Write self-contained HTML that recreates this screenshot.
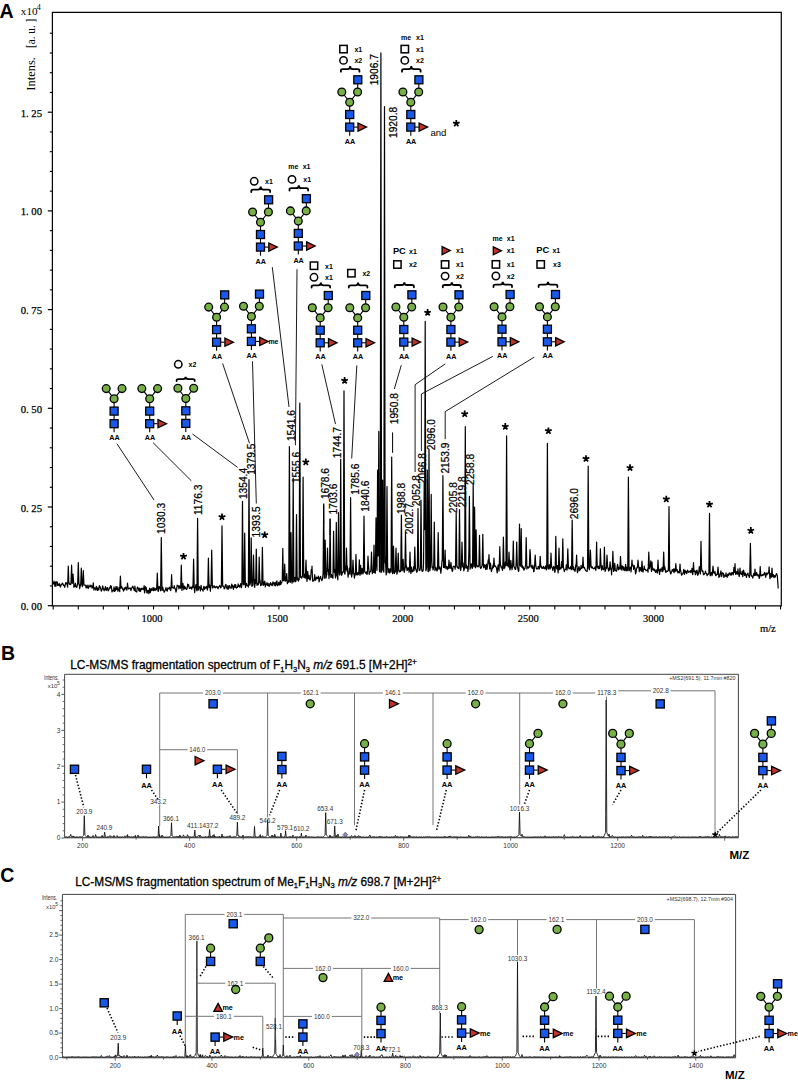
<!DOCTYPE html>
<html><head><meta charset="utf-8"><title>Figure</title>
<style>html,body{margin:0;padding:0;background:#fff;}body{width:798px;height:1086px;position:relative;overflow:hidden;}</style>
</head><body>
<svg width="798" height="1086" viewBox="0 0 798 1086" style="position:absolute;left:0;top:0">
<rect width="798" height="1086" fill="#fff"/>
<text x="-0.6" y="17.6" font-family='"Liberation Sans", sans-serif' font-size="19.6" font-weight="bold" text-anchor="start" fill="#000" >A</text>
<text x="20.8" y="15.4" font-family='"Liberation Serif", serif' font-size="11.2" font-weight="normal" text-anchor="start" fill="#000" >x10</text>
<text x="36.8" y="10.4" font-family='"Liberation Serif", serif' font-size="8" font-weight="normal" text-anchor="start" fill="#000" >4</text>
<text transform="translate(35.2 90.7) rotate(-90)" x="0" y="0" font-family='"Liberation Serif", serif' font-size="12.4" textLength="33.7" lengthAdjust="spacingAndGlyphs">Intens.</text>
<text transform="translate(35.2 48) rotate(-90)" x="0" y="0" font-family='"Liberation Serif", serif' font-size="12.4" textLength="29.2" lengthAdjust="spacingAndGlyphs" xml:space="preserve">[a. u. ]</text>
<path d="M52.4 605.9V12.4H781.3V605.9Z" fill="none" stroke="#000" stroke-width="1.2"/>
<line x1="47.8" y1="605.7" x2="52.4" y2="605.7" stroke="#000" stroke-width="1.2" />
<text x="42" y="610.2" font-family='"Liberation Serif", serif' font-size="10.7" font-weight="normal" text-anchor="end" fill="#000" xml:space="preserve" stroke="#000" stroke-width="0.25">0. 00</text>
<line x1="49.8" y1="585.96" x2="52.4" y2="585.96" stroke="#000" stroke-width="1.1" />
<line x1="49.8" y1="566.22" x2="52.4" y2="566.22" stroke="#000" stroke-width="1.1" />
<line x1="49.8" y1="546.48" x2="52.4" y2="546.48" stroke="#000" stroke-width="1.1" />
<line x1="49.8" y1="526.74" x2="52.4" y2="526.74" stroke="#000" stroke-width="1.1" />
<line x1="47.8" y1="507" x2="52.4" y2="507" stroke="#000" stroke-width="1.2" />
<text x="42" y="511.5" font-family='"Liberation Serif", serif' font-size="10.7" font-weight="normal" text-anchor="end" fill="#000" xml:space="preserve" stroke="#000" stroke-width="0.25">0. 25</text>
<line x1="49.8" y1="487.26" x2="52.4" y2="487.26" stroke="#000" stroke-width="1.1" />
<line x1="49.8" y1="467.52" x2="52.4" y2="467.52" stroke="#000" stroke-width="1.1" />
<line x1="49.8" y1="447.78" x2="52.4" y2="447.78" stroke="#000" stroke-width="1.1" />
<line x1="49.8" y1="428.04" x2="52.4" y2="428.04" stroke="#000" stroke-width="1.1" />
<line x1="47.8" y1="408.3" x2="52.4" y2="408.3" stroke="#000" stroke-width="1.2" />
<text x="42" y="412.8" font-family='"Liberation Serif", serif' font-size="10.7" font-weight="normal" text-anchor="end" fill="#000" xml:space="preserve" stroke="#000" stroke-width="0.25">0. 50</text>
<line x1="49.8" y1="388.56" x2="52.4" y2="388.56" stroke="#000" stroke-width="1.1" />
<line x1="49.8" y1="368.82" x2="52.4" y2="368.82" stroke="#000" stroke-width="1.1" />
<line x1="49.8" y1="349.08" x2="52.4" y2="349.08" stroke="#000" stroke-width="1.1" />
<line x1="49.8" y1="329.34" x2="52.4" y2="329.34" stroke="#000" stroke-width="1.1" />
<line x1="47.8" y1="309.6" x2="52.4" y2="309.6" stroke="#000" stroke-width="1.2" />
<text x="42" y="314.1" font-family='"Liberation Serif", serif' font-size="10.7" font-weight="normal" text-anchor="end" fill="#000" xml:space="preserve" stroke="#000" stroke-width="0.25">0. 75</text>
<line x1="49.8" y1="289.86" x2="52.4" y2="289.86" stroke="#000" stroke-width="1.1" />
<line x1="49.8" y1="270.12" x2="52.4" y2="270.12" stroke="#000" stroke-width="1.1" />
<line x1="49.8" y1="250.38" x2="52.4" y2="250.38" stroke="#000" stroke-width="1.1" />
<line x1="49.8" y1="230.64" x2="52.4" y2="230.64" stroke="#000" stroke-width="1.1" />
<line x1="47.8" y1="210.9" x2="52.4" y2="210.9" stroke="#000" stroke-width="1.2" />
<text x="42" y="215.4" font-family='"Liberation Serif", serif' font-size="10.7" font-weight="normal" text-anchor="end" fill="#000" xml:space="preserve" stroke="#000" stroke-width="0.25">1. 00</text>
<line x1="49.8" y1="191.16" x2="52.4" y2="191.16" stroke="#000" stroke-width="1.1" />
<line x1="49.8" y1="171.42" x2="52.4" y2="171.42" stroke="#000" stroke-width="1.1" />
<line x1="49.8" y1="151.68" x2="52.4" y2="151.68" stroke="#000" stroke-width="1.1" />
<line x1="49.8" y1="131.94" x2="52.4" y2="131.94" stroke="#000" stroke-width="1.1" />
<line x1="47.8" y1="112.2" x2="52.4" y2="112.2" stroke="#000" stroke-width="1.2" />
<text x="42" y="116.7" font-family='"Liberation Serif", serif' font-size="10.7" font-weight="normal" text-anchor="end" fill="#000" xml:space="preserve" stroke="#000" stroke-width="0.25">1. 25</text>
<line x1="49.8" y1="92.46" x2="52.4" y2="92.46" stroke="#000" stroke-width="1.1" />
<line x1="49.8" y1="72.72" x2="52.4" y2="72.72" stroke="#000" stroke-width="1.1" />
<line x1="49.8" y1="52.98" x2="52.4" y2="52.98" stroke="#000" stroke-width="1.1" />
<line x1="49.8" y1="33.24" x2="52.4" y2="33.24" stroke="#000" stroke-width="1.1" />
<line x1="53.2" y1="605.9" x2="53.2" y2="609.5" stroke="#000" stroke-width="1.1" />
<line x1="78.28" y1="605.9" x2="78.28" y2="609.5" stroke="#000" stroke-width="1.1" />
<line x1="103.36" y1="605.9" x2="103.36" y2="609.5" stroke="#000" stroke-width="1.1" />
<line x1="128.44" y1="605.9" x2="128.44" y2="609.5" stroke="#000" stroke-width="1.1" />
<line x1="153.52" y1="605.9" x2="153.52" y2="609.5" stroke="#000" stroke-width="1.1" />
<text x="152.02" y="622.4" font-family='"Liberation Serif", serif' font-size="10.5" font-weight="normal" text-anchor="middle" fill="#000" stroke="#000" stroke-width="0.2">1000</text>
<line x1="178.6" y1="605.9" x2="178.6" y2="609.5" stroke="#000" stroke-width="1.1" />
<line x1="203.68" y1="605.9" x2="203.68" y2="609.5" stroke="#000" stroke-width="1.1" />
<line x1="228.76" y1="605.9" x2="228.76" y2="609.5" stroke="#000" stroke-width="1.1" />
<line x1="253.84" y1="605.9" x2="253.84" y2="609.5" stroke="#000" stroke-width="1.1" />
<line x1="278.92" y1="605.9" x2="278.92" y2="609.5" stroke="#000" stroke-width="1.1" />
<text x="277.42" y="622.4" font-family='"Liberation Serif", serif' font-size="10.5" font-weight="normal" text-anchor="middle" fill="#000" stroke="#000" stroke-width="0.2">1500</text>
<line x1="304" y1="605.9" x2="304" y2="609.5" stroke="#000" stroke-width="1.1" />
<line x1="329.08" y1="605.9" x2="329.08" y2="609.5" stroke="#000" stroke-width="1.1" />
<line x1="354.16" y1="605.9" x2="354.16" y2="609.5" stroke="#000" stroke-width="1.1" />
<line x1="379.24" y1="605.9" x2="379.24" y2="609.5" stroke="#000" stroke-width="1.1" />
<line x1="404.32" y1="605.9" x2="404.32" y2="609.5" stroke="#000" stroke-width="1.1" />
<text x="402.82" y="622.4" font-family='"Liberation Serif", serif' font-size="10.5" font-weight="normal" text-anchor="middle" fill="#000" stroke="#000" stroke-width="0.2">2000</text>
<line x1="429.4" y1="605.9" x2="429.4" y2="609.5" stroke="#000" stroke-width="1.1" />
<line x1="454.48" y1="605.9" x2="454.48" y2="609.5" stroke="#000" stroke-width="1.1" />
<line x1="479.56" y1="605.9" x2="479.56" y2="609.5" stroke="#000" stroke-width="1.1" />
<line x1="504.64" y1="605.9" x2="504.64" y2="609.5" stroke="#000" stroke-width="1.1" />
<line x1="529.72" y1="605.9" x2="529.72" y2="609.5" stroke="#000" stroke-width="1.1" />
<text x="528.22" y="622.4" font-family='"Liberation Serif", serif' font-size="10.5" font-weight="normal" text-anchor="middle" fill="#000" stroke="#000" stroke-width="0.2">2500</text>
<line x1="554.8" y1="605.9" x2="554.8" y2="609.5" stroke="#000" stroke-width="1.1" />
<line x1="579.88" y1="605.9" x2="579.88" y2="609.5" stroke="#000" stroke-width="1.1" />
<line x1="604.96" y1="605.9" x2="604.96" y2="609.5" stroke="#000" stroke-width="1.1" />
<line x1="630.04" y1="605.9" x2="630.04" y2="609.5" stroke="#000" stroke-width="1.1" />
<line x1="655.12" y1="605.9" x2="655.12" y2="609.5" stroke="#000" stroke-width="1.1" />
<text x="653.62" y="622.4" font-family='"Liberation Serif", serif' font-size="10.5" font-weight="normal" text-anchor="middle" fill="#000" stroke="#000" stroke-width="0.2">3000</text>
<line x1="680.2" y1="605.9" x2="680.2" y2="609.5" stroke="#000" stroke-width="1.1" />
<line x1="705.28" y1="605.9" x2="705.28" y2="609.5" stroke="#000" stroke-width="1.1" />
<line x1="730.36" y1="605.9" x2="730.36" y2="609.5" stroke="#000" stroke-width="1.1" />
<line x1="755.44" y1="605.9" x2="755.44" y2="609.5" stroke="#000" stroke-width="1.1" />
<line x1="780.52" y1="605.9" x2="780.52" y2="609.5" stroke="#000" stroke-width="1.1" />
<text x="760" y="632" font-family='"Liberation Serif", serif' font-size="10.5" font-weight="normal" text-anchor="start" fill="#000" stroke="#000" stroke-width="0.2">m/z</text>
<path d="M53 584.07 L53.35 584.03 L53.61 582.83 L53.99 581.07 L54 581.02 L54.36 582.69 L54.65 584.03 L54.92 586.38 L55.29 585.1 L55.68 581.86 L56.08 586.17 L56.18 582.85 L56.52 581.88 L56.83 581.85 L57.1 581.83 L57.48 582.85 L57.61 585.35 L58.3 584.8 L58.52 585.1 L58.77 585.31 L59.17 583.25 L59.24 583.58 L59.82 585.89 L59.92 585.95 L60.52 587.06 L61.02 584.47 L61.4 584.88 L61.75 584.43 L61.83 584.33 L62.3 583.26 L62.4 583.02 L62.89 583.78 L63.05 584.21 L63.56 585.59 L64.19 585.31 L64.75 587.44 L65.05 585.68 L65.45 583.8 L65.7 582.67 L66.19 583.91 L66.35 583.48 L66.43 583.26 L66.58 582.85 L67 583.92 L67.08 583.39 L67.54 586.6 L67.65 587.11 L67.73 584.51 L68.15 570.87 L68.2 569.25 L68.3 566 L68.78 581.41 L68.8 581.27 L68.95 582.69 L69.4 584.44 L69.45 584.39 L69.99 583.86 L70.68 584.63 L70.76 584.14 L70.95 584.06 L71.41 571.16 L71.6 565.2 L71.78 570.85 L72.06 579.64 L72.25 583.31 L72.35 582.51 L72.37 582.25 L72.41 581.72 L73 574 L73.02 574.26 L73.09 575.18 L73.55 581.2 L73.65 582.51 L73.67 582.48 L73.91 587.34 L74.45 586.14 L74.69 586.36 L74.82 586.48 L75.34 583.24 L75.48 584.17 L75.98 586.73 L75.99 586.74 L76.68 587.45 L76.82 587.29 L77.25 585.25 L77.47 583.87 L77.65 584.97 L77.96 574.26 L78.04 571.49 L78.12 568.73 L78.3 562.5 L78.42 566.65 L78.69 575.99 L78.93 583.71 L78.95 583.76 L79.34 584.3 L79.67 588.7 L80.04 586.76 L80.08 586.57 L80.52 585.34 L80.65 584.75 L80.69 584.59 L81.06 574.78 L81.3 568 L81.34 569.13 L81.42 571.39 L81.93 584.8 L81.95 584.87 L82.34 586.58 L82.65 583.57 L82.66 583.46 L82.99 577.61 L83.29 570.92 L83.3 570.7 L83.64 578.27 L83.65 578.5 L83.91 584.29 L83.95 585.18 L84.28 585.1 L84.3 584.96 L84.95 585.19 L84.98 585.02 L85.65 585.51 L86.04 587.96 L86.46 587.71 L86.65 587.37 L87.08 585.33 L87.11 585.19 L87.5 586.84 L87.76 587.45 L87.85 587.66 L88.26 588.53 L88.32 588.44 L88.62 586.85 L88.97 585.04 L89.32 586.67 L89.62 586.78 L89.77 586.83 L90.14 586.93 L90.26 586.97 L90.79 585.14 L90.95 586.04 L91.44 586.67 L91.69 585.85 L92.08 588.22 L92.47 587.14 L92.61 587.54 L93.15 584.13 L93.26 582.74 L93.56 586.48 L93.91 590.04 L94.13 588.71 L94.53 587.81 L95.1 588.17 L95.84 590.06 L96.19 587.26 L96.29 586.46 L96.79 587.32 L96.84 587.01 L97.35 590.18 L97.49 590.5 L98.01 588.13 L98.69 589.87 L98.74 589.93 L99.39 585.65 L99.43 586.02 L100.04 586.97 L100.11 586.55 L100.75 589.32 L101.25 591.09 L101.61 590.43 L102.03 589.42 L102.06 589.35 L102.68 585.87 L102.69 585.92 L103.33 588.93 L103.41 588.68 L104.16 590.76 L104.6 588.78 L104.75 589.07 L105.04 589.08 L105.4 586.58 L105.64 588.21 L106.05 590.36 L106.35 590.35 L106.82 588.31 L106.96 587.72 L107.47 587.5 L107.63 588.48 L108.12 590.95 L108.34 590.69 L109.01 589.43 L109.43 587.54 L109.93 587.88 L110.09 587.99 L110.58 585.57 L110.83 587.93 L111.23 587.5 L111.34 586.22 L111.98 591.99 L112.4 590.3 L113.11 590.35 L113.38 590.86 L113.78 589.18 L114.03 586.87 L114.52 591.31 L114.68 591.3 L115.14 588.52 L115.31 589.79 L115.54 590.68 L115.89 587.29 L115.96 586.61 L116.46 589.36 L116.61 588.81 L117.18 586.71 L117.86 591.28 L118.29 589.91 L118.74 588.9 L118.94 587.6 L119.32 589.87 L119.59 591.11 L119.73 591.74 L119.75 590.02 L120.4 576 L120.44 576.86 L121.01 588.16 L121.02 588.15 L121.05 588.15 L121.66 587.18 L121.74 586.7 L122.29 588.15 L122.31 588.15 L122.85 589.67 L123.38 589.98 L123.54 591.15 L123.8 589.91 L124.19 587.9 L124.22 588.06 L124.76 589.65 L124.84 589.35 L124.88 588.51 L125.24 587.86 L125.53 587.51 L125.79 587.21 L126.18 588.51 L126.19 588.52 L126.76 590.01 L126.86 590.22 L127.42 584.29 L127.51 583.2 L127.97 587.37 L128.16 587.75 L128.69 588.91 L129.21 588.47 L129.22 588.47 L129.77 588.18 L129.86 587.95 L130.4 588.01 L130.51 588.54 L130.94 590.62 L131 589.94 L131.65 588.19 L131.67 588.24 L132.3 586.98 L132.39 586.71 L132.85 586.22 L133.03 586.83 L133.53 588.51 L133.68 588.34 L133.94 589.21 L134.25 590.28 L134.32 590.52 L134.33 590.55 L134.76 587.56 L134.9 586.06 L135.43 591.12 L135.55 591.19 L136.13 591.52 L136.54 591.99 L136.75 591.87 L137.16 588.06 L137.19 587.8 L137.59 587.07 L137.84 587.49 L138.32 588.41 L139.07 591.17 L139.1 591.16 L139.75 588.09 L140.31 591.39 L140.4 591.34 L140.71 590.68 L140.8 590.5 L141.36 588.42 L141.43 588.84 L141.79 588.29 L142.01 588.95 L142.15 589.39 L142.63 588.55 L143.01 588.58 L143.28 588.07 L143.75 589.81 L143.93 588.59 L144.14 585.64 L144.6 592.86 L145.06 590.71 L145.46 586.69 L145.58 587.59 L146.14 588.25 L146.23 587.56 L146.59 590.51 L146.88 592.66 L147.17 593.07 L147.8 590.49 L148.42 590.31 L148.94 593.57 L149.03 592.95 L149.55 588.97 L149.68 588.03 L150.22 592.16 L150.33 592.53 L150.6 591.64 L151.29 588.47 L151.86 590.36 L152.44 589.91 L152.58 589.8 L153.09 587.34 L153.14 587.68 L153.59 590.64 L153.74 590.57 L153.83 590.53 L153.96 590.04 L154.39 588.42 L154.48 588.09 L155.04 590.19 L155.13 590.53 L155.51 588.72 L156 589.76 L156.36 589.75 L156.42 589.77 L156.65 588.24 L157 581.41 L157.07 579.45 L157.3 573 L157.57 580.57 L157.72 584.78 L157.95 590.96 L158.29 591.45 L158.48 589.45 L158.69 588.45 L159.13 586.35 L159.23 586.83 L159.78 588.01 L159.92 588.03 L160.54 590.82 L160.65 588.88 L160.71 584.15 L161.29 538.39 L161.3 537.6 L161.36 542.33 L161.92 586.51 L161.95 588.88 L162.01 589.3 L162.07 590.35 L162.52 588.17 L162.72 587.2 L162.89 588.02 L163.3 590.01 L163.37 590.35 L163.75 590.66 L164.16 592.23 L164.86 591.06 L165.43 589.29 L165.48 589.13 L165.95 588.27 L166.08 587.48 L166.48 589.99 L166.73 590.63 L166.94 590.87 L167.25 591.09 L167.67 588.94 L167.9 587.78 L168.12 588.91 L168.55 588.76 L168.84 588.67 L168.86 588.69 L169.21 588.38 L169.49 587.35 L169.71 587.23 L170.14 589.52 L170.69 590.5 L170.95 589.63 L171.08 587.32 L171.59 574.94 L171.6 574.7 L171.73 577.86 L172.06 585.87 L172.25 587.62 L172.38 587.31 L172.5 587.31 L173.03 587.87 L173.15 588 L173.76 588.31 L173.89 587.64 L174.27 585.62 L174.54 587.25 L174.75 587.83 L175.19 589.06 L175.39 588.9 L176 592.08 L176.54 589.86 L176.7 588.67 L177.19 585.08 L177.31 585.97 L177.71 585.86 L177.84 585.82 L178.27 585.71 L178.94 588.82 L179.29 587.29 L179.62 585.82 L179.94 586.46 L180.25 587.1 L180.59 587.46 L180.65 588.28 L180.87 581.87 L181.28 565.98 L181.3 565.2 L181.77 583.42 L181.95 590.4 L182.25 588.33 L182.34 587.65 L182.9 583.41 L182.95 583.73 L183.49 587 L183.55 587.44 L183.84 589.64 L184.39 586.14 L184.9 588.22 L184.96 588.46 L185.55 587.2 L185.6 587.36 L186.05 588.81 L186.2 589.29 L186.7 589.36 L187.13 588.44 L187.68 584.14 L188.04 585.61 L188.18 586.19 L188.69 584.73 L188.83 585.74 L189.34 588.4 L189.43 588.29 L189.84 588.17 L190.06 588.39 L190.29 588.05 L190.71 587.01 L190.87 587.24 L191.22 588.28 L191.36 588.63 L191.71 589.22 L191.84 588.62 L192.36 586.23 L192.47 586.74 L192.95 587.47 L193.01 586.11 L193.03 585.2 L193.56 561.02 L193.6 559.2 L194.25 588.77 L194.27 588.79 L194.7 592.55 L195.01 588.64 L195.06 588.07 L195.59 586.39 L195.66 585.87 L196.12 584.54 L196.31 586.64 L196.58 589.61 L196.95 590.85 L197.01 584.16 L197.59 519.42 L197.6 518.3 L198.25 590.11 L198.33 590.14 L198.43 589.04 L198.73 587.97 L199.08 586.75 L199.43 586.69 L199.73 587.73 L200.06 588.9 L200.41 590.93 L200.61 589.32 L200.97 586.1 L201.06 585.3 L201.5 588.49 L201.71 588.9 L201.97 589.41 L202.45 589.62 L203.13 591.2 L203.17 589.37 L203.82 586.24 L204.22 588.18 L204.47 589.39 L204.93 587.1 L205.39 587.1 L206 588.4 L206.14 587.93 L206.65 586.25 L206.73 586.52 L207.19 588.05 L207.3 588.42 L207.33 590.05 L207.56 589.38 L207.75 587.89 L207.98 578.8 L208.02 576.84 L208.4 558.2 L208.63 569.48 L208.64 569.97 L208.75 575.37 L209.05 587.32 L209.29 585.48 L209.3 585.49 L209.73 585.17 L209.94 586.95 L210.43 591.12 L210.65 586.43 L211.05 585.95 L211.1 583.53 L211.3 572.42 L211.7 550.2 L211.83 557.42 L211.95 564.09 L212.35 586.31 L212.4 587.9 L213.04 587.45 L213.28 587.07 L213.57 586.63 L213.93 586.08 L214.04 585.51 L214.41 586.81 L214.58 587.07 L214.95 587.51 L215.43 587.06 L215.59 587.79 L216.17 586.86 L216.24 586.36 L216.63 587.03 L216.89 586.84 L217.2 586.62 L217.71 588.29 L218.14 588.65 L218.86 586.56 L219.01 586.81 L219.57 585.71 L219.66 585.24 L220.31 586.81 L220.32 586.81 L220.74 587.95 L221.13 587.25 L221.35 585.64 L221.58 564.5 L222 525.9 L222.03 528.66 L222.58 579.21 L222.65 585.64 L222.68 586.09 L223.19 585.8 L223.23 586 L223.69 586.72 L223.88 587.02 L224.18 588.8 L224.92 588 L225.26 585.5 L225.32 585.09 L225.91 584.4 L226.01 584.96 L226.45 587.23 L226.56 587.53 L226.96 588.63 L227.25 589.02 L227.49 587.78 L227.9 585.68 L228.19 586.36 L228.54 588.99 L228.55 589.04 L228.82 588.48 L229.25 586.51 L229.47 585.49 L229.79 586.94 L230.12 587.1 L230.3 587.09 L231.02 588.57 L231.76 584.03 L231.86 584.86 L232.21 586.87 L232.51 585.34 L232.77 586.62 L233.16 588.6 L233.39 589.41 L234 585.85 L234.65 584.71 L235.02 587.32 L235.67 584.55 L235.68 584.61 L236.29 587.97 L236.32 588.13 L236.76 587.53 L237.37 587.5 L237.51 587.4 L238 584.94 L238.16 583.95 L238.56 586.43 L238.81 586.3 L239.14 585.52 L239.73 587.18 L240.04 585.94 L240.08 585.78 L240.69 583.56 L240.82 584.55 L241.34 587.76 L241.43 587.68 L241.85 585.07 L241.87 584.95 L242.32 525.45 L242.5 501.3 L242.69 526.8 L242.79 540.22 L243.15 583.59 L243.34 584.15 L243.67 584.84 L243.99 584.72 L244.05 584.46 L244.12 579.03 L244.56 544.11 L244.7 533 L244.93 551.25 L245.35 584.58 L245.55 587.47 L245.66 585.61 L245.98 584.85 L246.31 584.07 L246.53 583.24 L246.96 585.59 L247.64 585.55 L248.08 586.3 L248.35 587.15 L248.55 554.05 L248.57 550.75 L249 479.6 L249.22 516 L249.28 525.93 L249.65 584.76 L249.72 585.13 L249.87 585.09 L250.24 583.54 L250.55 582.4 L250.65 580.31 L251.15 541.66 L251.2 537.8 L251.56 565.63 L251.63 571.04 L251.85 586.28 L251.93 585.78 L252.28 583.6 L252.64 585.78 L252.85 584.66 L252.93 581.01 L253.34 562.3 L253.5 555 L254.07 579.61 L254.15 580.83 L254.55 586.94 L254.69 587.38 L255.2 581.17 L255.34 579.28 L255.56 582.3 L255.65 583.54 L255.99 566.44 L256.06 562.5 L256.3 549 L256.54 562.5 L256.95 585.31 L256.98 585.31 L257 585.31 L257.49 584.01 L257.63 583.29 L258.23 584.87 L258.28 584.67 L258.55 583.58 L258.66 582.43 L259.2 557 L259.34 563.59 L259.43 567.83 L259.85 582.67 L259.86 582.56 L260.08 580.13 L260.36 583.17 L260.73 585.54 L260.95 585.52 L261.08 585.51 L261.6 583.42 L261.75 584.29 L261.79 582.56 L262.15 561.81 L262.25 556.05 L262.4 547.4 L262.81 571.03 L263.05 584.87 L263.17 585.45 L263.29 585.36 L263.89 582.33 L263.94 582.03 L264.35 584.47 L264.59 582.91 L264.83 581.13 L265.29 587.01 L265.74 584.12 L266.35 584.13 L266.38 584.13 L266.73 584.52 L267 582.62 L267.39 585.4 L267.65 585.5 L268.11 583.4 L268.47 584.76 L269.2 586.45 L269.92 583.59 L269.94 583.54 L270.46 583.3 L270.57 582.68 L271.01 585.13 L271.22 584.95 L271.68 583.95 L272.32 585.67 L272.92 581.75 L272.94 581.83 L273.4 583.45 L273.59 582.71 L274.06 584.56 L274.21 585.15 L274.24 585.26 L274.44 585.2 L274.86 582.61 L274.89 582.85 L275.27 585.91 L275.51 585.49 L275.55 585.35 L275.75 584.69 L276.2 581.86 L276.49 584.44 L276.85 582.25 L276.94 580.84 L277.33 585.77 L277.96 585.24 L278.08 585.02 L278.49 583.66 L278.73 582.34 L279.09 584.27 L279.38 584.94 L279.71 583.96 L280.32 580.66 L280.72 584.6 L281.3 582.55 L281.54 583.03 L281.8 582.41 L282.15 580.87 L282.19 580.7 L282.25 580.73 L282.7 554.28 L282.8 548.4 L282.84 550.75 L283.1 566.04 L283.28 576.62 L283.45 580.71 L283.75 579.14 L283.76 579.06 L284.05 580.7 L284.31 576.74 L284.4 573.8 L284.7 564 L284.75 565.63 L285.35 581.26 L285.5 580.59 L285.89 579.72 L286.07 580.63 L286.58 575.82 L286.72 573.56 L287.29 583.03 L287.37 583.7 L287.66 582.9 L287.69 582.82 L288.12 581.93 L288.31 580.77 L288.75 582.18 L288.84 564.97 L288.96 539.6 L289.34 459.28 L289.4 446.6 L289.79 529.03 L290.05 581.45 L290.35 582.36 L290.45 574.89 L290.72 554.08 L291 532.5 L291.04 535.58 L291.37 561.02 L291.64 580.78 L291.65 580.83 L292.02 582.77 L292.04 583.17 L292.48 581.45 L292.55 581.71 L293.09 496.18 L293.2 478.2 L293.52 530.51 L293.85 581.99 L294.14 581.28 L294.28 581.07 L294.56 580.28 L294.93 577.45 L295.23 579.72 L295.58 581.74 L295.8 581.57 L295.85 581.51 L296.31 534.3 L296.5 514.7 L296.88 553.89 L297.01 567.3 L297.15 579.93 L297.29 579.32 L297.66 577.71 L297.92 578.85 L298.31 580.56 L298.4 581.06 L299.13 579.35 L299.15 579.46 L299.62 453.11 L299.8 403.1 L300.13 494.78 L300.14 497.56 L300.45 577.22 L300.63 575.7 L300.78 576.32 L301.06 577.09 L301.41 578.04 L301.43 578.1 L302.11 577.18 L302.12 577.16 L302.45 575.78 L302.64 550.47 L302.76 531.33 L303.1 477.1 L303.34 515.38 L303.41 526.54 L303.57 552.06 L303.7 572.79 L303.75 577.35 L304.22 573.8 L304.27 574.18 L304.65 577 L304.87 577.54 L304.92 577.66 L305.25 578.2 L305.35 577.13 L305.57 572.18 L305.66 569.63 L306 560 L306.12 563.4 L306.22 566.23 L306.52 574.73 L306.65 578.41 L307.06 581.31 L307.09 580.95 L307.49 575.33 L307.74 571.37 L307.89 573.8 L308.39 578.66 L308.43 578.22 L308.81 577.89 L309.08 575.38 L309.52 579.01 L309.73 579.43 L310.12 580.19 L310.62 578.25 L310.78 576.06 L311.22 570.03 L311.27 569.48 L311.35 570.58 L311.9 568.49 L311.92 567.99 L312 566 L312.32 573.98 L312.65 580.81 L312.88 581.36 L313.38 580.59 L314.02 580.54 L314.08 580.64 L314.73 574.72 L315.38 580.19 L315.39 580.17 L315.75 580.05 L315.82 579.8 L316.34 577.62 L316.47 577.08 L316.91 578.56 L317.12 578.55 L317.43 578.52 L317.65 578.07 L318.01 577.33 L318.3 576.05 L318.54 577.56 L318.95 580.14 L319.07 581.85 L319.41 580.6 L319.61 579.63 L320.06 577.22 L320.59 576.44 L320.71 577.02 L321.01 578.49 L321.41 579.35 L321.94 580.65 L322.43 579.38 L322.49 578.86 L322.86 575.66 L323.05 574.02 L323.08 573.8 L323.5 527.63 L323.7 504.7 L323.73 508.14 L324.16 557.44 L324.34 578.07 L324.35 578.24 L324.55 573.3 L324.71 568.11 L324.99 553.09 L325.2 540.1 L325.21 540.72 L325.64 567.32 L325.85 578.14 L325.91 578.04 L326.06 577.99 L326.65 574.17 L326.71 573.73 L326.85 574.69 L327.08 565.61 L327.36 553.87 L327.5 548 L327.64 553.87 L327.82 561.41 L328.15 571.13 L328.29 569.38 L328.54 572.5 L328.94 577.5 L328.96 578.6 L329.33 573.86 L329.45 574.72 L329.82 544.52 L330.1 519.1 L330.53 558.14 L330.75 577 L330.93 577.36 L330.99 577.1 L331.54 574.75 L331.58 574.61 L332.23 577.35 L332.26 577.39 L332.81 578.22 L332.95 578.13 L333.29 553.68 L333.6 531.3 L333.71 539.24 L333.93 555.13 L334.25 572.27 L334.43 570.5 L334.58 569.03 L334.85 571.68 L335.23 575.42 L335.51 577.96 L335.65 577.9 L335.81 564.82 L336.12 537.98 L336.3 522.4 L336.46 536.25 L336.61 549.24 L336.95 575.83 L337.11 574.96 L337.19 574.52 L337.85 579.8 L337.89 575.89 L338.17 546.79 L338.5 512.5 L338.82 545.76 L339 564.46 L339.15 572.35 L339.47 574.96 L339.75 574.28 L339.76 574.27 L340.05 572.89 L340.33 526.6 L340.41 512.07 L340.7 459.4 L340.86 488.46 L341.06 524.78 L341.28 564.74 L341.35 575.32 L341.96 574.8 L342.4 572.23 L342.41 572.18 L342.99 571.53 L343.05 571.67 L343.35 572.21 L343.61 502.08 L343.7 476.42 L343.97 399.45 L344 390.9 L344.38 499.23 L344.65 573.87 L344.94 573.93 L344.99 574.07 L345.64 566.15 L345.85 569.64 L346.26 558.85 L346.29 557.49 L346.5 548 L346.61 552.97 L346.69 556.59 L347.01 571.05 L347.15 568.91 L347.34 565.94 L347.5 568.47 L347.99 576.22 L348.09 577.08 L348.52 573.49 L348.75 573.48 L348.92 573.48 L349.4 568.04 L349.65 570.79 L349.95 574.19 L350.03 567.83 L350.05 565.36 L350.6 497.6 L350.64 502.53 L351.15 565.36 L351.25 573.51 L351.61 577.05 L352.03 574.41 L352.18 573.93 L352.35 573.39 L352.67 567.23 L352.68 567.02 L353 560 L353.33 567.23 L353.4 568.77 L353.65 573.61 L354.04 574.49 L354.41 578.07 L354.97 573.34 L355.3 574.85 L355.34 575.03 L355.95 554.4 L356 556.16 L356.6 574.78 L356.73 574.41 L357.14 574.95 L357.21 575.13 L357.69 573.72 L357.86 572.6 L358.3 574.53 L358.51 573.9 L358.68 573.39 L358.77 573.12 L359.24 562.32 L359.33 559.77 L359.9 575.09 L359.98 575.33 L360.54 565.47 L360.55 565.27 L361.19 574.05 L361.2 574.04 L361.47 573.16 L361.72 571.3 L362.12 568.39 L362.17 568.76 L362.56 571.65 L362.77 573.21 L362.9 573.99 L363.04 573.49 L363.35 572.4 L363.55 555.22 L363.69 543.02 L364 516 L364.2 533.43 L364.33 544.76 L364.65 571.56 L364.78 571.94 L365.45 573.02 L365.74 573.19 L366.01 573.36 L366.39 571.78 L366.74 573.89 L367.04 574.43 L367.18 573.71 L367.35 573.55 L367.63 566.4 L367.75 563.03 L368 556 L368.08 558.25 L368.4 564.44 L368.65 567.38 L368.73 568.35 L369.05 572.24 L369.21 574.45 L369.65 572.3 L370.37 571.49 L370.67 571.41 L370.85 569.96 L370.98 567.51 L371.32 557.37 L371.5 552 L371.72 558.56 L371.97 566.02 L372.15 571.39 L372.35 573.74 L373.05 570.59 L373.35 572.42 L373.62 562.35 L374 545 L374.1 549.57 L374.22 555.05 L374.48 566.92 L374.65 572.66 L374.87 571.38 L375.19 573.19 L375.35 573.2 L375.52 559.09 L375.59 553.07 L375.99 518.66 L376 517.8 L376.31 544.46 L376.64 566.66 L376.65 566.78 L376.67 567.02 L376.95 570.41 L377.04 557.58 L377.29 518.48 L377.6 470 L377.66 479.38 L378.15 556.02 L378.25 552.56 L378.31 539.33 L378.8 431.3 L378.84 440.12 L379.45 571.28 L379.48 571.09 L379.49 571.03 L379.86 569.39 L380.14 572.08 L380.25 572.13 L380.55 332.48 L380.9 52.9 L380.95 92.84 L381.25 332.48 L381.38 436.33 L381.55 572.13 L381.9 570.2 L381.95 570.44 L382.07 554.88 L382.55 487.06 L382.6 480 L382.74 499.78 L383.25 570.06 L383.35 570.04 L383.49 570.93 L383.81 572.19 L383.85 571.99 L384.14 365.24 L384.46 135.25 L384.5 106.5 L384.73 271.8 L384.79 314.93 L384.9 393.98 L385.15 563.02 L385.25 560.32 L385.38 556.81 L385.71 565.48 L386.03 573.73 L386.2 574.81 L386.35 574 L386.68 529.58 L386.69 528.23 L387 486.5 L387.34 532.27 L387.37 536.31 L387.65 568.29 L387.97 572.46 L387.99 572.72 L388.18 572.43 L388.5 570.52 L388.83 568.54 L389.15 570.42 L389.48 572.39 L389.71 573.09 L389.72 573.02 L390.16 570.08 L390.36 568.75 L390.83 571.34 L391.01 572.04 L391.05 572.2 L391.25 537.45 L391.34 521.36 L391.7 457 L391.91 494.54 L391.99 508.85 L392.35 570.3 L392.64 573.06 L392.65 573.75 L392.85 573.03 L392.89 571.45 L393.19 558.93 L393.5 546 L393.54 547.67 L393.86 561.02 L394.15 572.69 L394.19 573.12 L394.35 573.48 L395.04 571.4 L395.3 571.89 L395.35 571.72 L395.5 566.25 L395.93 550.56 L395.95 549.83 L396 548 L396.33 560.05 L396.6 569.9 L396.65 571.73 L396.93 574.09 L397.34 572.25 L397.55 570.84 L397.56 570.78 L397.99 558.95 L398.2 553 L398.23 553.85 L398.64 565.47 L398.74 568.3 L398.85 570.61 L399.25 571.9 L399.95 570.85 L400.31 571.64 L400.75 570.85 L401.02 547.65 L401.4 515 L401.57 529.61 L402.02 568.27 L402.05 570.85 L402.47 569.13 L402.55 568.36 L403.12 559.42 L403.2 560.89 L403.77 570.22 L403.81 570.2 L404.22 572.27 L404.85 569.77 L404.91 566.98 L405.33 542.43 L405.5 532.5 L405.78 548.86 L405.85 552.95 L406.15 567.8 L406.25 566.98 L406.43 565.51 L406.79 568.37 L407.08 570.6 L407.21 570.05 L407.64 569.9 L407.68 569.89 L408.1 567.71 L408.29 568.72 L408.51 569.2 L408.94 570.15 L409.07 572.25 L409.35 570.87 L409.48 568.18 L410 552 L410.13 556.04 L410.22 558.85 L410.65 571.8 L410.78 572.5 L410.86 573.43 L411.25 569.01 L411.43 567 L411.76 570.74 L412.08 571.92 L412.4 570.25 L412.92 571.32 L412.96 571.46 L413.32 568.97 L413.61 566.56 L413.75 567.73 L414.15 570.6 L414.26 566.86 L414.8 547 L414.93 551.78 L415.03 555.46 L415.45 568.65 L415.53 568.5 L415.68 568.83 L416.06 569.76 L416.33 570.41 L416.58 572.1 L417.22 571.78 L417.35 570.21 L417.8 527.56 L417.88 519.97 L418 508.6 L418.45 551.25 L418.53 558.83 L418.65 566.4 L419.09 569.65 L419.18 570.31 L419.79 570.51 L420.35 568.05 L420.39 565.33 L420.48 555.7 L421 500 L421.04 504.28 L421.11 511.78 L421.58 562.12 L421.65 568.88 L421.69 569.07 L422.18 571.41 L422.85 570.94 L423.24 569.74 L423.48 564.93 L423.55 563.46 L423.89 524.39 L424 509.7 L424.2 483 L424.53 527.06 L424.54 528.4 L424.55 529.73 L424.85 455.07 L425.15 340.41 L425.2 321.3 L425.85 569.73 L425.87 570.75 L426.54 568.07 L426.65 567.44 L427.04 509.81 L427.19 486.84 L427.3 470 L427.41 486.84 L427.84 552.69 L427.95 569.53 L427.97 571.19 L428.35 571.66 L428.7 506.46 L429 449.7 L429.26 498.89 L429.35 515.92 L429.65 569.38 L429.82 570.78 L430 569.79 L430.46 567.06 L430.55 567.34 L430.9 529.2 L431.14 501.28 L431.2 494.3 L431.55 535.01 L431.7 552.46 L431.85 561.96 L432.14 566.74 L432.2 567.73 L432.76 567.12 L433.03 569.85 L433.16 569.77 L433.65 566.57 L433.68 566.38 L433.9 551.93 L434.3 522 L434.33 524.24 L434.36 526.49 L434.87 564.65 L434.95 570.63 L435.22 569.63 L435.39 569 L435.87 567.25 L436.02 567.81 L436.46 569.43 L436.52 569.65 L437.11 571.05 L437.54 568.37 L437.55 568.35 L438.2 532.6 L438.21 533.16 L438.61 555.67 L438.81 566.93 L438.85 569.18 L439.28 568.16 L439.46 567.52 L439.81 566.78 L440.11 568.25 L440.39 569.65 L440.88 573.28 L441.47 567.5 L441.48 567.38 L442.02 560.81 L442.12 559.6 L442.25 561.13 L442.49 534.74 L442.77 494.35 L442.9 475.6 L443.17 514.55 L443.28 530.41 L443.55 567.49 L443.67 566.55 L443.93 564.5 L444.17 566.34 L444.45 567.76 L444.58 566.06 L444.62 564.83 L444.97 554.02 L445.1 550 L445.39 558.96 L445.61 565.76 L445.75 568.34 L446.04 566.39 L446.08 566.66 L446.62 566.49 L446.69 566.86 L447.06 568.79 L447.23 569.67 L447.71 566.78 L447.73 566.89 L448.1 567.16 L448.35 568.57 L448.36 568.63 L448.78 563.32 L449 560 L449.19 562.87 L449.65 567.85 L449.87 568.31 L450.23 568.28 L450.29 568.24 L450.94 562.43 L450.96 562.62 L451.35 566.46 L451.59 568.25 L451.75 568.79 L452.24 571.41 L452.65 570.98 L453.07 566.8 L453.67 566.29 L453.78 566.2 L454.32 566.58 L454.39 566.63 L454.97 567.58 L455.1 569.26 L455.53 565.35 L455.55 565.36 L456.16 516.32 L456.2 513 L456.53 540.38 L456.68 552.83 L456.85 566.93 L457.18 565.84 L457.39 566.66 L457.83 568.05 L458.24 567.92 L458.77 568.52 L458.85 568.14 L459.18 538.69 L459.28 529.6 L459.5 509.6 L459.75 532.33 L459.93 548.69 L460.15 566.55 L460.44 569.16 L460.58 570.42 L460.98 568.63 L461.24 567.11 L461.35 565.29 L461.55 559.18 L461.89 546.2 L462 542 L462.05 543.91 L462.44 558.8 L462.54 562.62 L462.57 563.76 L462.65 566.82 L463.09 562.93 L463.18 563.75 L463.74 569.4 L463.78 570.79 L464.4 568.93 L464.65 567.98 L465.13 463.9 L465.3 426.6 L465.68 509.98 L465.69 512.17 L465.95 567.81 L466.22 565.78 L466.34 564.88 L466.86 568.23 L466.99 567.91 L467.46 566.72 L467.96 571.35 L468.31 567.62 L468.5 563.9 L468.75 557.09 L468.93 547.96 L468.96 544.66 L469.4 496.3 L469.46 502.9 L469.61 519.38 L470.05 567.75 L470.08 569.27 L470.14 569.23 L470.6 565.15 L470.73 564.05 L471.16 566.94 L471.38 565.46 L471.61 563.92 L472.23 568.31 L472.55 568.05 L472.89 525.06 L473.06 502.54 L473.2 484 L473.36 505.19 L473.71 551.55 L473.85 566.27 L473.95 566.53 L474.31 534.77 L474.36 530.02 L474.6 507.2 L474.95 540.47 L475.25 567.68 L475.32 567.11 L475.45 567.78 L475.79 549.04 L475.97 537.87 L476.1 529.8 L476.51 555.25 L476.62 562.08 L476.75 566.24 L477.1 566.87 L477.27 566.66 L477.82 565.99 L478.41 566.72 L478.43 566.73 L478.85 565.53 L479.04 559.01 L479.08 556.96 L479.5 535.4 L479.63 542.07 L479.73 547.21 L480.15 567.52 L480.25 567.44 L480.78 568.56 L481.2 567.72 L481.26 567.68 L481.57 566.8 L481.91 565.84 L482.15 564.99 L482.18 564.78 L482.56 547.47 L482.68 540.88 L482.8 534.3 L483.25 558.99 L483.45 566.74 L483.71 567.95 L483.97 567.69 L484.18 566.71 L484.62 564.66 L484.7 565.04 L485.08 565.44 L485.27 566.73 L485.65 569.3 L485.7 569.29 L486.33 564.36 L486.35 564.19 L486.91 568.96 L487 569.46 L487.26 567.62 L487.54 566.25 L487.77 564.33 L488.19 559.82 L488.35 561.54 L488.51 563.26 L488.84 558.07 L489 554.6 L489.05 555.68 L489.65 568.68 L489.66 568.91 L489.88 568.79 L490.09 567.83 L490.45 563.97 L490.53 563.21 L491.07 568.99 L491.18 570.17 L491.45 571.57 L492.15 568.73 L492.33 568.73 L492.79 566.37 L492.98 565.07 L493.24 566.88 L493.35 567.65 L493.61 564.36 L493.63 564.04 L494 558 L494.06 558.98 L494.27 562.41 L494.65 566.25 L494.71 566.02 L494.91 565.25 L495.29 566.65 L495.36 566.64 L495.83 566.58 L496.55 568.39 L497.19 572.87 L497.48 570.04 L497.54 569.55 L498.13 564.78 L498.22 565.43 L498.6 567.47 L498.78 569.02 L499.02 571.03 L499.15 569.02 L499.71 549.79 L499.8 546.7 L499.94 551.51 L500.21 560.78 L500.45 565.45 L500.59 564.76 L500.79 565.72 L501.2 567.74 L501.24 567.93 L501.86 566.92 L502.47 570.32 L502.75 568.1 L502.98 558.11 L503.09 552.58 L503.4 537 L503.71 552.58 L503.74 554.09 L504.05 568.59 L504.38 567.22 L504.39 567.24 L504.71 567.85 L504.75 567.92 L505.36 561.84 L505.49 563.21 L505.95 565.55 L505.97 565.46 L506.01 559.85 L506.56 444.3 L506.6 435.9 L507.01 522.03 L507.15 551.45 L507.25 565.64 L507.63 564.07 L507.66 563.94 L508.13 565.87 L508.31 566.61 L508.35 566.87 L508.75 557.72 L509 552 L509.43 561.84 L509.65 566.87 L509.89 569.83 L510.2 569.04 L510.41 567.23 L510.85 560.29 L510.99 562.51 L511.36 565.25 L511.5 566.18 L512.04 569.77 L512.62 565.35 L512.65 565.65 L513.08 550.75 L513.3 541 L513.48 548.98 L513.7 558.73 L513.95 566.73 L514.13 566.87 L514.42 567.48 L514.78 568.25 L514.99 569.08 L515.6 569.34 L515.66 569.37 L516.05 564.73 L516.25 560.58 L516.38 555.22 L516.7 542 L516.83 547.37 L516.9 550.26 L517.35 566.9 L517.36 566.91 L517.8 568.43 L518.46 571.32 L518.76 571.22 L518.85 570.81 L519 560.42 L519.41 530.56 L519.5 524 L519.66 535.66 L520.06 564.8 L520.1 565.32 L520.15 565.43 L520.33 565.79 L520.55 566.24 L520.8 552.48 L520.98 541.73 L521.2 528.6 L521.36 538.15 L521.63 554.27 L521.77 562.63 L521.79 563.82 L521.85 567.4 L522.21 567.49 L522.42 565.72 L522.71 568.08 L523.07 568.34 L523.28 566.86 L523.69 569.65 L524.06 570.14 L524.45 568.49 L524.9 568.66 L525.06 567.77 L525.55 564.81 L525.65 564.35 L526.13 541 L526.2 537.6 L526.5 552.19 L526.85 569.09 L527.19 568.11 L527.24 568 L527.82 566.76 L527.84 566.72 L528.28 567.66 L528.49 568.11 L529 566.75 L529.34 567.09 L529.55 561.43 L529.66 558.47 L529.99 549.65 L530.11 552.88 L530.2 551.3 L530.48 557.87 L530.64 561.63 L530.85 566.55 L530.86 566.79 L531.23 565.3 L531.77 567.3 L532.21 568.35 L532.49 567.63 L532.86 565.23 L533.08 566.68 L533.51 569.52 L533.59 571.62 L534.05 571.4 L534.55 566.25 L534.62 565.04 L535.2 555 L535.24 555.69 L535.75 564.52 L535.85 566.21 L536.48 568.82 L537.23 568.59 L537.58 568.88 L537.68 568.97 L538.17 566.99 L538.23 566.55 L538.86 566.41 L538.88 566.55 L539.23 569.08 L539.55 567.4 L539.83 563.31 L540.2 556.3 L540.41 560.28 L540.58 563.5 L540.85 567.05 L541.06 565.67 L541.23 566.8 L541.71 568.23 L541.96 567.91 L542.54 567.28 L542.86 568.49 L543.2 568.32 L543.51 566.29 L543.65 567.22 L544.05 567.58 L544.16 567.86 L544.49 568.72 L544.9 568.5 L544.95 568.5 L545.54 566.25 L545.6 565.91 L545.97 568.22 L546.25 569.97 L546.4 569.56 L546.75 568.7 L547.06 508.94 L547.13 495.45 L547.4 443.4 L547.53 468.46 L547.71 503.16 L548.05 568.12 L548.06 568.15 L548.36 569.01 L548.74 568.4 L548.75 568.35 L549.35 564.95 L549.39 564.73 L550.03 568.3 L550.04 568.35 L550.08 569.11 L550.35 568.11 L550.57 563.65 L550.73 559.69 L551 553 L551.01 553.25 L551.38 562.41 L551.65 567.25 L551.79 566.69 L552.49 568.64 L552.9 570.56 L553.01 569.14 L553.36 567.64 L553.66 566.39 L553.78 566.9 L554.31 567.34 L554.32 567.34 L554.72 572.21 L554.98 572.23 L555.15 571.12 L555.46 555.03 L555.63 545.67 L555.8 536.3 L556.08 551.73 L556.28 562.74 L556.45 567.91 L556.51 567.54 L556.97 569.08 L557.4 565.54 L558.15 572.87 L558.19 571.21 L558.35 570.21 L558.84 553.68 L558.87 552.61 L559 548 L559.49 565.38 L559.57 568.22 L559.65 569.59 L559.95 568.78 L560.69 567.63 L560.91 568.83 L561.04 567.88 L561.45 563.01 L561.56 561.7 L561.8 564.48 L562.15 567.75 L562.21 567.35 L562.23 566.99 L562.6 548.69 L562.75 541.27 L562.8 538.8 L563.25 561.05 L563.33 565.01 L563.45 567.1 L563.73 568.72 L563.9 569.7 L564.37 571.74 L564.8 569.76 L565.39 569.48 L565.7 569.2 L565.94 568.62 L566.35 564.79 L566.53 566.48 L567 570.1 L567.15 569.13 L567.17 568.51 L567.6 555.06 L567.79 549.11 L567.8 548.8 L567.97 554.12 L568.44 567.58 L568.45 567.6 L568.61 567.49 L568.98 568.67 L569.09 568.89 L569.67 567.82 L570.05 568.44 L570.37 568.3 L570.7 566.41 L571.08 568.55 L571.35 569.75 L571.55 569.41 L571.62 564.08 L572.05 531.4 L572.2 520 L572.73 560.28 L572.85 568.99 L572.96 569.31 L573.23 569.83 L573.61 566.81 L573.82 568.44 L574.26 569.73 L574.34 569.43 L574.9 571.33 L575.14 571.3 L575.58 566.9 L575.79 564.78 L575.95 566.36 L576.27 563.42 L576.44 559.08 L576.6 555 L576.78 559.59 L577.25 571.59 L577.43 572.62 L578.16 570.73 L578.29 569.17 L578.71 567.4 L578.94 566.68 L579.27 567.95 L579.59 569.18 L579.63 570.67 L580.05 569.26 L580.41 569.48 L580.44 569.5 L580.8 567.81 L581.06 565.44 L581.19 566.58 L581.55 568.46 L581.71 568.25 L582.14 567.69 L582.35 567.99 L582.77 562.03 L583 557 L583.16 560.5 L583.53 567.57 L583.65 567.56 L583.83 567.55 L583.93 567.55 L584.39 567.85 L584.48 567.43 L584.79 568.79 L585.13 569.54 L585.38 570.09 L586.07 570.91 L586.72 571.35 L587.14 571.38 L587.36 569.04 L587.55 567.01 L587.64 556.9 L588.01 496.97 L588.16 472.68 L588.2 466.2 L588.66 540.71 L588.67 542.33 L588.85 568.36 L589.39 569.87 L589.46 567.5 L589.75 566.31 L589.84 564.59 L590.11 557.56 L590.32 552.08 L590.4 550 L590.76 559.38 L591 565.63 L591.05 566.93 L591.45 567.81 L591.71 567.86 L592.08 566.65 L592.1 566.84 L592.64 567.83 L592.75 567.81 L593.09 568.63 L593.61 568.58 L594.17 568.48 L594.46 567.99 L594.55 567.86 L594.91 568.56 L595.11 566.78 L595.31 568.52 L595.76 570.46 L595.95 569.56 L596.04 567.73 L596.6 542 L596.64 543.84 L596.92 556.71 L597.25 567.04 L597.34 566.45 L597.57 566.18 L597.71 566.75 L598.22 568.72 L598.33 568.69 L598.79 566.01 L599.39 568.72 L599.75 568.1 L599.84 567.21 L600.29 552.42 L600.4 548.8 L600.57 554.39 L600.94 564.04 L601.03 564.88 L601.05 565.06 L601.43 568.59 L601.55 569.7 L601.59 570.07 L602.02 567.28 L602.2 565.59 L602.48 568.25 L602.85 568.96 L603.01 568.85 L603.41 569.59 L603.75 569.37 L603.81 569.33 L603.86 568.23 L604.28 551.87 L604.4 547.2 L604.51 551.48 L604.73 560.05 L605.05 571.3 L605.16 571.19 L605.41 570.94 L606.01 567.6 L606.35 568.54 L606.44 566.95 L607 555 L607.07 556.49 L607.65 567.25 L607.67 567.11 L607.72 566.77 L608.2 569.39 L608.37 570.01 L608.64 571.02 L609.2 568.21 L609.41 570.1 L609.55 569.51 L610.04 562.06 L610.06 561.75 L610.62 568.92 L610.71 568.9 L611.16 568.8 L611.63 574.79 L611.67 571.23 L612.25 566.87 L612.29 566.57 L612.32 566.41 L612.9 551.3 L612.97 553.47 L612.99 554.09 L613.51 570.18 L613.55 571.42 L614.04 570.57 L614.09 570.59 L614.68 564.07 L614.74 563.27 L615.39 570.72 L615.42 570.71 L616.06 570.82 L616.55 571.23 L616.9 568.67 L617.18 566.85 L617.55 564.44 L617.85 566.35 L618.2 568.62 L618.41 569.78 L619.06 567.21 L619.07 567.23 L619.6 568.86 L619.72 568.38 L619.85 568.92 L620.32 559.99 L620.37 558.97 L620.5 556.3 L620.72 560.81 L621.15 569.63 L621.38 569.92 L621.9 566.16 L621.96 565.73 L622.54 566.24 L622.55 566.18 L623.06 570.09 L623.2 569.86 L623.65 566.77 L624.15 568.35 L624.79 570.72 L624.95 569.98 L625.26 568.04 L625.6 564.35 L625.76 566.14 L626.24 570.99 L626.25 570.93 L626.43 569.64 L626.79 567.04 L627.08 568.02 L627.32 568.79 L627.73 570.11 L627.75 570.71 L627.81 562.06 L628.31 489.97 L628.4 477 L628.46 485.65 L629.03 567.82 L629.05 570.05 L629.11 570.36 L629.26 570.68 L629.5 569.91 L629.91 568.59 L630.24 567.67 L630.56 567.21 L630.67 567.05 L631.02 572.01 L631.35 569 L631.39 568.62 L632 560 L632.11 561.77 L632.27 564.36 L632.65 565.5 L632.77 564.57 L632.92 565.76 L633.33 566.64 L633.57 566.73 L633.6 569.43 L633.88 568.2 L634.25 565.61 L634.38 566.53 L634.9 568.19 L634.97 568.14 L635.59 573.89 L636.15 571.93 L636.5 569.06 L636.66 568.59 L637.15 567.16 L637.23 567.37 L637.35 567.72 L637.8 563.09 L637.84 562.47 L637.97 560.46 L638 560 L638.49 565.68 L638.51 565.8 L638.65 566.62 L639.14 569.52 L639.26 571.58 L639.75 567.67 L640.04 569.4 L640.17 570.18 L640.64 568.04 L640.69 567.52 L641.2 570.36 L641.34 571.25 L641.35 571.31 L641.59 567.73 L642 561 L642.27 565.43 L642.65 570.73 L643.02 572.18 L643.43 569.71 L643.63 569.35 L643.9 568.89 L644.28 566.03 L644.32 566.3 L644.74 569.34 L644.93 569.29 L645.23 569.24 L645.98 570.62 L646.5 570.59 L646.93 570.26 L647.16 570.09 L647.51 569.72 L647.58 569.22 L647.99 572.24 L648.15 570.04 L648.23 567.82 L648.6 557.55 L648.8 552 L648.93 555.61 L649.03 558.38 L649.45 568.75 L649.49 568.55 L649.58 568.13 L650.1 565.43 L650.14 565.75 L650.23 566.46 L650.68 562.55 L650.79 560.73 L651.19 567.22 L651.35 569.86 L651.44 571.35 L651.84 564.69 L652 562 L652.24 566.03 L652.65 569.11 L652.8 569.94 L653.3 569.64 L653.48 568.89 L653.85 569.23 L653.95 569.86 L654.2 570.56 L654.6 569.19 L654.84 569.79 L655.25 571.39 L655.33 571.93 L655.72 572.48 L656.43 569.98 L656.96 570.57 L657.22 572.69 L657.35 573.04 L657.47 571.24 L657.87 562.76 L658 560 L658.05 561.06 L658.52 570.44 L658.65 569.85 L658.79 569.26 L659.23 572.28 L659.6 574.47 L659.64 571.68 L660.08 569.79 L660.29 568.9 L660.79 571.02 L660.94 571.59 L660.96 570.3 L661.38 569.66 L661.61 569.31 L662.11 567.4 L662.26 568.8 L662.56 571.68 L663.05 571.01 L663.07 570.42 L663.54 556.68 L663.7 552 L664.24 567.79 L664.35 569.44 L664.69 568.66 L664.89 566.95 L665.11 568.74 L665.54 571.88 L665.85 572.51 L666.31 570.93 L666.87 571.4 L667.38 571.23 L667.5 571.49 L667.78 571.29 L668.15 569.68 L668.35 570.54 L668.46 562.24 L668.8 527.21 L668.89 517.93 L669 506.6 L669.19 526.18 L669.35 542.66 L669.65 571.07 L669.84 570.24 L669.96 570.79 L670.45 573.03 L670.49 573.21 L670.84 574.06 L671.3 572.32 L671.67 571.48 L671.82 571.14 L672.32 569.5 L672.51 570.48 L672.97 571.08 L673 571 L673.64 568.93 L673.99 572.72 L674.07 572.28 L674.64 569.17 L674.8 570.05 L675.15 571.58 L675.29 570.69 L675.33 570.14 L675.74 564.52 L675.8 563.7 L676.44 570.8 L676.45 570.8 L676.59 570.9 L677.03 570.71 L677.24 569.69 L677.62 571.55 L677.89 572.86 L678.06 572.73 L678.61 571.53 L679.18 571.8 L679.35 572.9 L679.68 568.89 L679.71 568.43 L680 564 L680.3 568.58 L680.36 569.5 L680.65 571.03 L680.8 571.43 L681.01 571.98 L681.19 573.76 L681.67 575.28 L682.28 574.05 L682.78 573.76 L683.12 572.82 L683.33 572.26 L683.77 569.34 L683.8 569.56 L684.24 572.72 L684.42 574.02 L684.44 574.42 L684.7 573.68 L685.09 570.32 L685.22 571.4 L685.74 572.04 L685.92 571.03 L686.61 573.57 L686.92 572.99 L686.97 572.78 L687.57 570.18 L687.6 570.3 L688.11 571.41 L688.22 571.59 L688.73 572.4 L689.41 571.64 L689.48 571.71 L689.9 571.51 L690.13 570.64 L690.3 571.3 L690.78 572.52 L691.02 572.68 L691.33 570.66 L691.38 570.34 L691.75 570.68 L691.98 568.4 L692.22 570.7 L692.63 574.42 L692.72 574.51 L692.85 574.3 L693.23 567.68 L693.33 565.8 L693.5 562.6 L693.75 567.31 L693.88 569.22 L694.15 571.45 L694.39 571.33 L694.53 571.19 L694.84 570.89 L695.33 574.3 L695.68 574.76 L696.14 570.81 L696.36 573.15 L696.51 572.91 L696.88 570.83 L697.01 570.1 L697.33 571.9 L697.66 573.77 L697.76 575.38 L698.48 573.49 L698.65 573.3 L699.1 568.9 L699.3 566.6 L699.61 570.16 L699.95 571.24 L700.07 570.44 L700.35 573.93 L700.46 569.01 L700.92 545.4 L701 541.3 L701.18 550.54 L701.57 568.02 L701.65 568.8 L701.81 570.36 L702.22 571.5 L702.26 571.3 L702.41 570.58 L702.91 571.19 L702.94 571.46 L703.46 574.73 L703.56 574.72 L704.02 574.67 L704.67 573.54 L704.99 573.12 L705.04 573.05 L705.49 571.06 L705.64 572.4 L706.06 573.06 L706.29 573.43 L706.63 573.6 L707.08 575.58 L707.59 574.72 L708.02 573.83 L708.26 574.28 L708.66 573.81 L708.85 572.88 L708.91 570.07 L709.28 534.53 L709.5 513.4 L709.56 519.16 L709.83 545.1 L710.15 575.68 L710.36 575.76 L710.83 573.7 L710.89 573.87 L711.53 572.52 L711.54 572.45 L712.02 575.58 L712.19 574.91 L712.35 573.87 L712.69 569.82 L713 566 L713.11 567.36 L713.65 572.93 L713.73 572.85 L714.31 573.25 L714.38 573.3 L714.96 571.3 L715.07 572.12 L715.56 575.36 L715.61 575.4 L715.99 575.72 L716.42 574.96 L717.05 573.68 L717.35 574.34 L717.43 573.96 L717.53 572.74 L718 567 L718.07 567.85 L718.08 567.98 L718.45 572.49 L718.65 574.46 L718.73 574.86 L718.8 577.32 L719.19 574.39 L719.82 576.69 L720.22 574.26 L720.25 574.22 L720.76 571.65 L720.9 570.84 L721.33 573.53 L721.55 574.91 L721.68 576.7 L722.15 574.14 L722.28 573.42 L722.8 572.63 L723.01 573.3 L723.45 573.56 L723.46 573.59 L723.86 577.49 L724.55 575.15 L725.02 575.61 L725.36 576.25 L725.7 575.14 L726.01 572.89 L726.43 575.87 L726.66 576.54 L727.11 577.28 L727.75 574.23 L728.43 575.68 L728.77 574 L728.91 573.3 L729.41 572.84 L729.42 572.81 L730.07 574.85 L730.09 574.81 L730.21 574.9 L730.67 574.08 L730.86 573.09 L731.27 575.23 L731.51 574.74 L731.98 572.42 L732.71 572.83 L733.12 574.89 L733.29 574.67 L733.59 571.7 L733.94 567.36 L734.22 570.78 L734.35 572.4 L734.59 571.07 L734.63 570.7 L735 563.7 L735.02 564.11 L735.39 571.77 L735.49 573.84 L735.65 574.46 L736.03 572.17 L736.14 571.28 L736.38 573.32 L736.79 573.86 L737.04 572.13 L737.31 573.31 L737.56 574.09 L737.96 568.79 L738.12 570.96 L738.61 574.17 L738.64 574.02 L739.25 576.52 L739.35 576.43 L739.93 568.93 L740 568 L740.15 569.99 L740.4 573.31 L740.65 573.57 L740.8 573.2 L740.93 573.51 L741.36 574.44 L741.45 574.39 L741.49 574.37 L741.74 574.23 L742.14 571.22 L742.48 574.05 L742.79 576.62 L743.19 572.69 L743.44 570.04 L743.93 571.73 L744.09 572.72 L744.53 575.4 L744.69 575.2 L745.15 573.91 L745.34 573.19 L745.74 574.59 L745.99 575.54 L746.47 577.37 L747.01 574.43 L747.29 574.26 L747.5 574.15 L747.94 573.05 L748.2 574.45 L748.59 575.87 L748.83 575.56 L749.35 577.5 L749.75 574.79 L749.83 570.93 L749.85 569.96 L750.4 543.4 L750.44 545.33 L750.48 547.26 L751.01 572.86 L751.05 574.68 L751.13 574.84 L751.52 576.26 L752.23 576.2 L752.8 578.08 L753.22 575.74 L753.25 575.62 L753.63 574.19 L753.87 573.28 L754.18 574.42 L754.35 575.07 L754.52 575.67 L754.75 572.5 L755 569 L755.15 571.1 L755.65 575.29 L755.7 575.04 L756.22 575.24 L756.44 573.64 L756.6 572.54 L757.09 573.86 L757.17 574.27 L757.74 575.85 L757.8 575.74 L758.55 574.91 L759.19 578.32 L759.56 577.86 L759.69 576.12 L760.11 568.34 L760.21 566.48 L760.77 575.28 L760.86 575.42 L761.18 575.93 L761.62 575.28 L761.7 575.73 L762.12 575.65 L762.35 574.32 L762.56 575.52 L763 575.47 L763.02 575.44 L763.73 574.21 L763.81 574.64 L764.33 573.54 L764.46 572.44 L765.05 574.43 L765.11 574.69 L765.55 576.57 L765.74 577.38 L766.2 572.97 L766.23 573.27 L766.85 574.93 L766.89 574.7 L766.97 574.4 L767.29 573.22 L767.62 573.35 L767.78 573.97 L768.27 572.9 L768.42 572.02 L768.45 572.26 L768.79 571.53 L769.1 566.9 L769.36 570.78 L769.75 576.61 L769.92 578.55 L770.03 578.74 L770.57 573.59 L770.65 574.34 L771.1 576.89 L771.22 577.06 L771.35 577.28 L771.79 571.38 L772 568 L772.37 573.96 L772.65 576.53 L772.75 576.52 L772.77 576.53 L773.4 574.58 L773.44 574.79 L773.9 577.32 L774.05 577.69 L774.53 575.67 L775.23 577.03 L775.79 575.27 L775.94 574.92 L776.52 573.58 L776.59 574.03 L776.88 574.83 L777.24 575.02 L777.43 577.29 L778.2 588.5" fill="none" stroke="#000" stroke-width="1.2" stroke-linejoin="round"/>
<text transform="translate(160.7 518.45) scale(1.12 1) rotate(-90)" x="0" y="0" dy="0.36em" font-family='"Liberation Sans", sans-serif' font-size="10.2" text-anchor="middle" fill="#000" stroke="#000" stroke-width="0.22">1030.3</text>
<text transform="translate(198.1 499.85) scale(1.12 1) rotate(-90)" x="0" y="0" dy="0.36em" font-family='"Liberation Sans", sans-serif' font-size="10.2" text-anchor="middle" fill="#000" stroke="#000" stroke-width="0.22">1176.3</text>
<text transform="translate(242.9 483.5) scale(1.12 1) rotate(-90)" x="0" y="0" dy="0.36em" font-family='"Liberation Sans", sans-serif' font-size="10.2" text-anchor="middle" fill="#000" stroke="#000" stroke-width="0.22">1354.4</text>
<text transform="translate(250.9 459.25) scale(1.12 1) rotate(-90)" x="0" y="0" dy="0.36em" font-family='"Liberation Sans", sans-serif' font-size="10.2" text-anchor="middle" fill="#000" stroke="#000" stroke-width="0.22">1379.5</text>
<text transform="translate(256.1 521.85) scale(1.12 1) rotate(-90)" x="0" y="0" dy="0.36em" font-family='"Liberation Sans", sans-serif' font-size="10.2" text-anchor="middle" fill="#000" stroke="#000" stroke-width="0.22">1393.5</text>
<text transform="translate(290.5 425.55) scale(1.12 1) rotate(-90)" x="0" y="0" dy="0.36em" font-family='"Liberation Sans", sans-serif' font-size="10.2" text-anchor="middle" fill="#000" stroke="#000" stroke-width="0.22">1541.6</text>
<text transform="translate(296.3 467.5) scale(1.12 1) rotate(-90)" x="0" y="0" dy="0.36em" font-family='"Liberation Sans", sans-serif' font-size="10.2" text-anchor="middle" fill="#000" stroke="#000" stroke-width="0.22">1555.6</text>
<text transform="translate(324.7 483.55) scale(1.12 1) rotate(-90)" x="0" y="0" dy="0.36em" font-family='"Liberation Sans", sans-serif' font-size="10.2" text-anchor="middle" fill="#000" stroke="#000" stroke-width="0.22">1678.6</text>
<text transform="translate(332.7 499.05) scale(1.12 1) rotate(-90)" x="0" y="0" dy="0.36em" font-family='"Liberation Sans", sans-serif' font-size="10.2" text-anchor="middle" fill="#000" stroke="#000" stroke-width="0.22">1703.6</text>
<text transform="translate(336.6 442.65) scale(1.12 1) rotate(-90)" x="0" y="0" dy="0.36em" font-family='"Liberation Sans", sans-serif' font-size="10.2" text-anchor="middle" fill="#000" stroke="#000" stroke-width="0.22">1744.7</text>
<text transform="translate(354.4 479.15) scale(1.12 1) rotate(-90)" x="0" y="0" dy="0.36em" font-family='"Liberation Sans", sans-serif' font-size="10.2" text-anchor="middle" fill="#000" stroke="#000" stroke-width="0.22">1785.6</text>
<text transform="translate(365 496.1) scale(1.12 1) rotate(-90)" x="0" y="0" dy="0.36em" font-family='"Liberation Sans", sans-serif' font-size="10.2" text-anchor="middle" fill="#000" stroke="#000" stroke-width="0.22">1840.6</text>
<text transform="translate(373.7 69.75) scale(1.12 1) rotate(-90)" x="0" y="0" dy="0.36em" font-family='"Liberation Sans", sans-serif' font-size="10.2" text-anchor="middle" fill="#000" stroke="#000" stroke-width="0.22">1906.7</text>
<text transform="translate(393 122.4) scale(1.12 1) rotate(-90)" x="0" y="0" dy="0.36em" font-family='"Liberation Sans", sans-serif' font-size="10.2" text-anchor="middle" fill="#000" stroke="#000" stroke-width="0.22">1920.8</text>
<text transform="translate(393.5 408.65) scale(1.12 1) rotate(-90)" x="0" y="0" dy="0.36em" font-family='"Liberation Sans", sans-serif' font-size="10.2" text-anchor="middle" fill="#000" stroke="#000" stroke-width="0.22">1950.8</text>
<text transform="translate(400.8 498.4) scale(1.12 1) rotate(-90)" x="0" y="0" dy="0.36em" font-family='"Liberation Sans", sans-serif' font-size="10.2" text-anchor="middle" fill="#000" stroke="#000" stroke-width="0.22">1988.8</text>
<text transform="translate(409.1 518.65) scale(1.12 1) rotate(-90)" x="0" y="0" dy="0.36em" font-family='"Liberation Sans", sans-serif' font-size="10.2" text-anchor="middle" fill="#000" stroke="#000" stroke-width="0.22">2002.7</text>
<text transform="translate(415.6 490.6) scale(1.12 1) rotate(-90)" x="0" y="0" dy="0.36em" font-family='"Liberation Sans", sans-serif' font-size="10.2" text-anchor="middle" fill="#000" stroke="#000" stroke-width="0.22">2052.8</text>
<text transform="translate(422 468.55) scale(1.12 1) rotate(-90)" x="0" y="0" dy="0.36em" font-family='"Liberation Sans", sans-serif' font-size="10.2" text-anchor="middle" fill="#000" stroke="#000" stroke-width="0.22">2066.8</text>
<text transform="translate(430.6 434.7) scale(1.12 1) rotate(-90)" x="0" y="0" dy="0.36em" font-family='"Liberation Sans", sans-serif' font-size="10.2" text-anchor="middle" fill="#000" stroke="#000" stroke-width="0.22">2096.0</text>
<text transform="translate(444.4 458.05) scale(1.12 1) rotate(-90)" x="0" y="0" dy="0.36em" font-family='"Liberation Sans", sans-serif' font-size="10.2" text-anchor="middle" fill="#000" stroke="#000" stroke-width="0.22">2153.9</text>
<text transform="translate(453.2 497.65) scale(1.12 1) rotate(-90)" x="0" y="0" dy="0.36em" font-family='"Liberation Sans", sans-serif' font-size="10.2" text-anchor="middle" fill="#000" stroke="#000" stroke-width="0.22">2205.8</text>
<text transform="translate(462.1 491.9) scale(1.12 1) rotate(-90)" x="0" y="0" dy="0.36em" font-family='"Liberation Sans", sans-serif' font-size="10.2" text-anchor="middle" fill="#000" stroke="#000" stroke-width="0.22">2219.8</text>
<text transform="translate(470.2 469.45) scale(1.12 1) rotate(-90)" x="0" y="0" dy="0.36em" font-family='"Liberation Sans", sans-serif' font-size="10.2" text-anchor="middle" fill="#000" stroke="#000" stroke-width="0.22">2258.8</text>
<text transform="translate(574.1 503.65) scale(1.12 1) rotate(-90)" x="0" y="0" dy="0.36em" font-family='"Liberation Sans", sans-serif' font-size="10.2" text-anchor="middle" fill="#000" stroke="#000" stroke-width="0.22">2696.0</text>
<line x1="323.7" y1="503.5" x2="323.7" y2="524.6" stroke="#000" stroke-width="1.0" />
<line x1="330.1" y1="518.5" x2="330.1" y2="535" stroke="#000" stroke-width="1.0" />
<line x1="392.6" y1="432.4" x2="392.6" y2="452.8" stroke="#000" stroke-width="1.0" />
<path d="M116.9 443.7 L154.1 500.1" fill="none" stroke="#000" stroke-width="0.9"/>
<path d="M153 442.6 L191.4 480.9" fill="none" stroke="#000" stroke-width="0.9"/>
<path d="M192.5 434 L237.6 467.4" fill="none" stroke="#000" stroke-width="0.9"/>
<path d="M222.6 363.4 L249.5 443.3" fill="none" stroke="#000" stroke-width="0.9"/>
<path d="M252.5 361.3 L256.3 503.5" fill="none" stroke="#000" stroke-width="0.9"/>
<path d="M272.3 267.2 L289 406.9" fill="none" stroke="#000" stroke-width="0.9"/>
<path d="M297 269.2 L295.4 445.3" fill="none" stroke="#000" stroke-width="0.9"/>
<path d="M321.8 364.4 L335.5 424.1" fill="none" stroke="#000" stroke-width="0.9"/>
<path d="M356.8 365.4 L351.7 458.5" fill="none" stroke="#000" stroke-width="0.9"/>
<path d="M401.3 365.2 L394.3 389" fill="none" stroke="#000" stroke-width="0.9"/>
<path d="M445.2 363.9 L415.1 384.7 L415.1 472" fill="none" stroke="#000" stroke-width="0.9"/>
<path d="M492.8 356.4 L421.4 394 L421.4 451" fill="none" stroke="#000" stroke-width="0.9"/>
<path d="M534.2 357.2 L445.2 411.6 L445.2 439.1" fill="none" stroke="#000" stroke-width="0.9"/>
<line x1="114.1" y1="427.7" x2="114.1" y2="432.3" stroke="#000" stroke-width="1.1" />
<line x1="114.1" y1="423.7" x2="114.1" y2="411.1" stroke="#000" stroke-width="1.1" />
<line x1="114.1" y1="411.1" x2="114.1" y2="398.8" stroke="#000" stroke-width="1.1" />
<line x1="114.1" y1="398.8" x2="106.2" y2="388.6" stroke="#000" stroke-width="1.1" />
<line x1="114.1" y1="398.8" x2="122" y2="388.6" stroke="#000" stroke-width="1.1" />
<rect x="110.1" y="419.7" width="8" height="8" fill="#1858ea" stroke="#000" stroke-width="1.3"/>
<rect x="110.1" y="407.1" width="8" height="8" fill="#1858ea" stroke="#000" stroke-width="1.3"/>
<circle cx="114.1" cy="398.8" r="3.9" fill="#76b046" stroke="#000" stroke-width="1.3"/>
<circle cx="106.2" cy="388.6" r="3.9" fill="#76b046" stroke="#000" stroke-width="1.3"/>
<circle cx="122" cy="388.6" r="3.9" fill="#76b046" stroke="#000" stroke-width="1.3"/>
<text x="114.4" y="440.3" font-family='"Liberation Sans", sans-serif' font-size="7.2" font-weight="bold" text-anchor="middle" fill="#000" >AA</text>
<line x1="149.7" y1="427.7" x2="149.7" y2="432.3" stroke="#000" stroke-width="1.1" />
<line x1="149.7" y1="423.7" x2="149.7" y2="411.1" stroke="#000" stroke-width="1.1" />
<line x1="149.7" y1="411.1" x2="149.7" y2="398.8" stroke="#000" stroke-width="1.1" />
<line x1="149.7" y1="398.8" x2="141.8" y2="388.6" stroke="#000" stroke-width="1.1" />
<line x1="149.7" y1="398.8" x2="157.6" y2="388.6" stroke="#000" stroke-width="1.1" />
<line x1="149.7" y1="423.7" x2="157.7" y2="423.7" stroke="#000" stroke-width="1.1" />
<rect x="145.7" y="419.7" width="8" height="8" fill="#1858ea" stroke="#000" stroke-width="1.3"/>
<rect x="145.7" y="407.1" width="8" height="8" fill="#1858ea" stroke="#000" stroke-width="1.3"/>
<circle cx="149.7" cy="398.8" r="3.9" fill="#76b046" stroke="#000" stroke-width="1.3"/>
<circle cx="141.8" cy="388.6" r="3.9" fill="#76b046" stroke="#000" stroke-width="1.3"/>
<circle cx="157.6" cy="388.6" r="3.9" fill="#76b046" stroke="#000" stroke-width="1.3"/>
<path d="M158 419.6L166.5 423.7L158 427.8Z" fill="#c43327" stroke="#000" stroke-width="1.3" stroke-linejoin="miter"/>
<text x="150" y="440.3" font-family='"Liberation Sans", sans-serif' font-size="7.2" font-weight="bold" text-anchor="middle" fill="#000" >AA</text>
<line x1="185.8" y1="427.4" x2="185.8" y2="432" stroke="#000" stroke-width="1.1" />
<line x1="185.8" y1="423.4" x2="185.8" y2="410.8" stroke="#000" stroke-width="1.1" />
<line x1="185.8" y1="410.8" x2="185.8" y2="398.5" stroke="#000" stroke-width="1.1" />
<line x1="185.8" y1="398.5" x2="177.9" y2="388.3" stroke="#000" stroke-width="1.1" />
<line x1="185.8" y1="398.5" x2="193.7" y2="388.3" stroke="#000" stroke-width="1.1" />
<rect x="181.8" y="419.4" width="8" height="8" fill="#1858ea" stroke="#000" stroke-width="1.3"/>
<rect x="181.8" y="406.8" width="8" height="8" fill="#1858ea" stroke="#000" stroke-width="1.3"/>
<circle cx="185.8" cy="398.5" r="3.9" fill="#76b046" stroke="#000" stroke-width="1.3"/>
<circle cx="177.9" cy="388.3" r="3.9" fill="#76b046" stroke="#000" stroke-width="1.3"/>
<circle cx="193.7" cy="388.3" r="3.9" fill="#76b046" stroke="#000" stroke-width="1.3"/>
<text x="186.1" y="440" font-family='"Liberation Sans", sans-serif' font-size="7.2" font-weight="bold" text-anchor="middle" fill="#000" >AA</text>
<circle cx="178.3" cy="364.3" r="3.7" fill="#fff" stroke="#000" stroke-width="1.5"/>
<text x="188.5" y="366.8" font-family='"Liberation Sans", sans-serif' font-size="7" font-weight="bold" text-anchor="start" fill="#000" >x2</text>
<path d="M176.6 381L176.6 380.31Q176.6 379.11 178.6 379.11L183.05 379.11Q185.65 379.11 185.65 376.8Q185.65 379.11 188.25 379.11L192.7 379.11Q194.7 379.11 194.7 380.31L194.7 381" fill="none" stroke="#000" stroke-width="1.8" stroke-linecap="round"/>
<line x1="216.6" y1="346.2" x2="216.6" y2="350.8" stroke="#000" stroke-width="1.1" />
<line x1="216.6" y1="342.2" x2="216.6" y2="329.6" stroke="#000" stroke-width="1.1" />
<line x1="216.6" y1="329.6" x2="216.6" y2="317.3" stroke="#000" stroke-width="1.1" />
<line x1="216.6" y1="317.3" x2="208.7" y2="307.1" stroke="#000" stroke-width="1.1" />
<line x1="216.6" y1="317.3" x2="224.5" y2="307.1" stroke="#000" stroke-width="1.1" />
<line x1="224.5" y1="307.1" x2="224.7" y2="294.9" stroke="#000" stroke-width="1.1" />
<line x1="216.6" y1="342.2" x2="224.6" y2="342.2" stroke="#000" stroke-width="1.1" />
<rect x="212.6" y="338.2" width="8" height="8" fill="#1858ea" stroke="#000" stroke-width="1.3"/>
<rect x="212.6" y="325.6" width="8" height="8" fill="#1858ea" stroke="#000" stroke-width="1.3"/>
<circle cx="216.6" cy="317.3" r="3.9" fill="#76b046" stroke="#000" stroke-width="1.3"/>
<circle cx="208.7" cy="307.1" r="3.9" fill="#76b046" stroke="#000" stroke-width="1.3"/>
<circle cx="224.5" cy="307.1" r="3.9" fill="#76b046" stroke="#000" stroke-width="1.3"/>
<rect x="220.7" y="290.9" width="8" height="8" fill="#1858ea" stroke="#000" stroke-width="1.3"/>
<path d="M224.9 338.1L233.4 342.2L224.9 346.3Z" fill="#c43327" stroke="#000" stroke-width="1.3" stroke-linejoin="miter"/>
<text x="216.9" y="358.8" font-family='"Liberation Sans", sans-serif' font-size="7.2" font-weight="bold" text-anchor="middle" fill="#000" >AA</text>
<line x1="251.4" y1="345.4" x2="251.4" y2="350" stroke="#000" stroke-width="1.1" />
<line x1="251.4" y1="341.4" x2="251.4" y2="328.8" stroke="#000" stroke-width="1.1" />
<line x1="251.4" y1="328.8" x2="251.4" y2="316.5" stroke="#000" stroke-width="1.1" />
<line x1="251.4" y1="316.5" x2="243.5" y2="306.3" stroke="#000" stroke-width="1.1" />
<line x1="251.4" y1="316.5" x2="259.3" y2="306.3" stroke="#000" stroke-width="1.1" />
<line x1="259.3" y1="306.3" x2="259.5" y2="294.1" stroke="#000" stroke-width="1.1" />
<line x1="251.4" y1="341.4" x2="259.4" y2="341.4" stroke="#000" stroke-width="1.1" />
<rect x="247.4" y="337.4" width="8" height="8" fill="#1858ea" stroke="#000" stroke-width="1.3"/>
<rect x="247.4" y="324.8" width="8" height="8" fill="#1858ea" stroke="#000" stroke-width="1.3"/>
<circle cx="251.4" cy="316.5" r="3.9" fill="#76b046" stroke="#000" stroke-width="1.3"/>
<circle cx="243.5" cy="306.3" r="3.9" fill="#76b046" stroke="#000" stroke-width="1.3"/>
<circle cx="259.3" cy="306.3" r="3.9" fill="#76b046" stroke="#000" stroke-width="1.3"/>
<rect x="255.5" y="290.1" width="8" height="8" fill="#1858ea" stroke="#000" stroke-width="1.3"/>
<path d="M259.7 337.3L268.2 341.4L259.7 345.5Z" fill="#c43327" stroke="#000" stroke-width="1.3" stroke-linejoin="miter"/>
<text x="268.4" y="344" font-family='"Liberation Sans", sans-serif' font-size="7" font-weight="bold" text-anchor="start" fill="#000" >me</text>
<text x="251.7" y="358" font-family='"Liberation Sans", sans-serif' font-size="7.2" font-weight="bold" text-anchor="middle" fill="#000" >AA</text>
<line x1="260.5" y1="251.1" x2="260.5" y2="255.7" stroke="#000" stroke-width="1.1" />
<line x1="260.5" y1="247.1" x2="260.5" y2="234.5" stroke="#000" stroke-width="1.1" />
<line x1="260.5" y1="234.5" x2="260.5" y2="222.2" stroke="#000" stroke-width="1.1" />
<line x1="260.5" y1="222.2" x2="252.6" y2="212" stroke="#000" stroke-width="1.1" />
<line x1="260.5" y1="222.2" x2="268.4" y2="212" stroke="#000" stroke-width="1.1" />
<line x1="268.4" y1="212" x2="268.6" y2="199.8" stroke="#000" stroke-width="1.1" />
<line x1="260.5" y1="247.1" x2="268.5" y2="247.1" stroke="#000" stroke-width="1.1" />
<rect x="256.5" y="243.1" width="8" height="8" fill="#1858ea" stroke="#000" stroke-width="1.3"/>
<rect x="256.5" y="230.5" width="8" height="8" fill="#1858ea" stroke="#000" stroke-width="1.3"/>
<circle cx="260.5" cy="222.2" r="3.9" fill="#76b046" stroke="#000" stroke-width="1.3"/>
<circle cx="252.6" cy="212" r="3.9" fill="#76b046" stroke="#000" stroke-width="1.3"/>
<circle cx="268.4" cy="212" r="3.9" fill="#76b046" stroke="#000" stroke-width="1.3"/>
<rect x="264.6" y="195.8" width="8" height="8" fill="#1858ea" stroke="#000" stroke-width="1.3"/>
<path d="M268.8 243L277.3 247.1L268.8 251.2Z" fill="#c43327" stroke="#000" stroke-width="1.3" stroke-linejoin="miter"/>
<text x="260.8" y="263.7" font-family='"Liberation Sans", sans-serif' font-size="7.2" font-weight="bold" text-anchor="middle" fill="#000" >AA</text>
<circle cx="254.2" cy="181.3" r="3.7" fill="#fff" stroke="#000" stroke-width="1.5"/>
<text x="265" y="184.3" font-family='"Liberation Sans", sans-serif' font-size="7" font-weight="bold" text-anchor="start" fill="#000" >x1</text>
<path d="M251.3 192L251.3 190.72Q251.3 189.53 253.3 189.53L258.1 189.53Q260.7 189.53 260.7 186.5Q260.7 189.53 263.3 189.53L268.1 189.53Q270.1 189.53 270.1 190.72L270.1 192" fill="none" stroke="#000" stroke-width="1.8" stroke-linecap="round"/>
<line x1="298.3" y1="250" x2="298.3" y2="254.6" stroke="#000" stroke-width="1.1" />
<line x1="298.3" y1="246" x2="298.3" y2="233.4" stroke="#000" stroke-width="1.1" />
<line x1="298.3" y1="233.4" x2="298.3" y2="221.1" stroke="#000" stroke-width="1.1" />
<line x1="298.3" y1="221.1" x2="290.4" y2="210.9" stroke="#000" stroke-width="1.1" />
<line x1="298.3" y1="221.1" x2="306.2" y2="210.9" stroke="#000" stroke-width="1.1" />
<line x1="306.2" y1="210.9" x2="306.4" y2="198.7" stroke="#000" stroke-width="1.1" />
<line x1="298.3" y1="246" x2="306.3" y2="246" stroke="#000" stroke-width="1.1" />
<rect x="294.3" y="242" width="8" height="8" fill="#1858ea" stroke="#000" stroke-width="1.3"/>
<rect x="294.3" y="229.4" width="8" height="8" fill="#1858ea" stroke="#000" stroke-width="1.3"/>
<circle cx="298.3" cy="221.1" r="3.9" fill="#76b046" stroke="#000" stroke-width="1.3"/>
<circle cx="290.4" cy="210.9" r="3.9" fill="#76b046" stroke="#000" stroke-width="1.3"/>
<circle cx="306.2" cy="210.9" r="3.9" fill="#76b046" stroke="#000" stroke-width="1.3"/>
<rect x="302.4" y="194.7" width="8" height="8" fill="#1858ea" stroke="#000" stroke-width="1.3"/>
<path d="M306.6 241.9L315.1 246L306.6 250.1Z" fill="#c43327" stroke="#000" stroke-width="1.3" stroke-linejoin="miter"/>
<text x="298.6" y="262.6" font-family='"Liberation Sans", sans-serif' font-size="7.2" font-weight="bold" text-anchor="middle" fill="#000" >AA</text>
<text x="288.3" y="169" font-family='"Liberation Sans", sans-serif' font-size="7" font-weight="bold" text-anchor="start" fill="#000" >me</text>
<text x="302.7" y="169" font-family='"Liberation Sans", sans-serif' font-size="7" font-weight="bold" text-anchor="start" fill="#000" >x1</text>
<circle cx="292" cy="179.4" r="3.7" fill="#fff" stroke="#000" stroke-width="1.5"/>
<text x="303.3" y="182" font-family='"Liberation Sans", sans-serif' font-size="7" font-weight="bold" text-anchor="start" fill="#000" >x1</text>
<path d="M289.5 190.6L289.5 189.37Q289.5 188.17 291.5 188.17L296.2 188.17Q298.8 188.17 298.8 185.2Q298.8 188.17 301.4 188.17L306.1 188.17Q308.1 188.17 308.1 189.37L308.1 190.6" fill="none" stroke="#000" stroke-width="1.8" stroke-linecap="round"/>
<line x1="320.2" y1="346.8" x2="320.2" y2="351.4" stroke="#000" stroke-width="1.1" />
<line x1="320.2" y1="342.8" x2="320.2" y2="330.2" stroke="#000" stroke-width="1.1" />
<line x1="320.2" y1="330.2" x2="320.2" y2="317.9" stroke="#000" stroke-width="1.1" />
<line x1="320.2" y1="317.9" x2="312.3" y2="307.7" stroke="#000" stroke-width="1.1" />
<line x1="320.2" y1="317.9" x2="328.1" y2="307.7" stroke="#000" stroke-width="1.1" />
<line x1="328.1" y1="307.7" x2="328.3" y2="295.5" stroke="#000" stroke-width="1.1" />
<line x1="320.2" y1="342.8" x2="328.2" y2="342.8" stroke="#000" stroke-width="1.1" />
<rect x="316.2" y="338.8" width="8" height="8" fill="#1858ea" stroke="#000" stroke-width="1.3"/>
<rect x="316.2" y="326.2" width="8" height="8" fill="#1858ea" stroke="#000" stroke-width="1.3"/>
<circle cx="320.2" cy="317.9" r="3.9" fill="#76b046" stroke="#000" stroke-width="1.3"/>
<circle cx="312.3" cy="307.7" r="3.9" fill="#76b046" stroke="#000" stroke-width="1.3"/>
<circle cx="328.1" cy="307.7" r="3.9" fill="#76b046" stroke="#000" stroke-width="1.3"/>
<rect x="324.3" y="291.5" width="8" height="8" fill="#1858ea" stroke="#000" stroke-width="1.3"/>
<path d="M328.5 338.7L337 342.8L328.5 346.9Z" fill="#c43327" stroke="#000" stroke-width="1.3" stroke-linejoin="miter"/>
<text x="320.5" y="359.4" font-family='"Liberation Sans", sans-serif' font-size="7.2" font-weight="bold" text-anchor="middle" fill="#000" >AA</text>
<rect x="310.3" y="262" width="7.4" height="7.4" fill="#fff" stroke="#000" stroke-width="1.5"/>
<text x="325" y="268.5" font-family='"Liberation Sans", sans-serif' font-size="7" font-weight="bold" text-anchor="start" fill="#000" >x1</text>
<circle cx="314" cy="277.3" r="3.7" fill="#fff" stroke="#000" stroke-width="1.5"/>
<text x="325" y="279.8" font-family='"Liberation Sans", sans-serif' font-size="7" font-weight="bold" text-anchor="start" fill="#000" >x1</text>
<path d="M311.6 287.6L311.6 286.55Q311.6 285.35 313.6 285.35L318.25 285.35Q320.85 285.35 320.85 282.6Q320.85 285.35 323.45 285.35L328.1 285.35Q330.1 285.35 330.1 286.55L330.1 287.6" fill="none" stroke="#000" stroke-width="1.8" stroke-linecap="round"/>
<line x1="357.7" y1="346.8" x2="357.7" y2="351.4" stroke="#000" stroke-width="1.1" />
<line x1="357.7" y1="342.8" x2="357.7" y2="330.2" stroke="#000" stroke-width="1.1" />
<line x1="357.7" y1="330.2" x2="357.7" y2="317.9" stroke="#000" stroke-width="1.1" />
<line x1="357.7" y1="317.9" x2="349.8" y2="307.7" stroke="#000" stroke-width="1.1" />
<line x1="357.7" y1="317.9" x2="365.6" y2="307.7" stroke="#000" stroke-width="1.1" />
<line x1="365.6" y1="307.7" x2="365.8" y2="295.5" stroke="#000" stroke-width="1.1" />
<line x1="357.7" y1="342.8" x2="365.7" y2="342.8" stroke="#000" stroke-width="1.1" />
<rect x="353.7" y="338.8" width="8" height="8" fill="#1858ea" stroke="#000" stroke-width="1.3"/>
<rect x="353.7" y="326.2" width="8" height="8" fill="#1858ea" stroke="#000" stroke-width="1.3"/>
<circle cx="357.7" cy="317.9" r="3.9" fill="#76b046" stroke="#000" stroke-width="1.3"/>
<circle cx="349.8" cy="307.7" r="3.9" fill="#76b046" stroke="#000" stroke-width="1.3"/>
<circle cx="365.6" cy="307.7" r="3.9" fill="#76b046" stroke="#000" stroke-width="1.3"/>
<rect x="361.8" y="291.5" width="8" height="8" fill="#1858ea" stroke="#000" stroke-width="1.3"/>
<path d="M366 338.7L374.5 342.8L366 346.9Z" fill="#c43327" stroke="#000" stroke-width="1.3" stroke-linejoin="miter"/>
<text x="358" y="359.4" font-family='"Liberation Sans", sans-serif' font-size="7.2" font-weight="bold" text-anchor="middle" fill="#000" >AA</text>
<rect x="347.7" y="269.5" width="7.4" height="7.4" fill="#fff" stroke="#000" stroke-width="1.5"/>
<text x="362.4" y="275.7" font-family='"Liberation Sans", sans-serif' font-size="7" font-weight="bold" text-anchor="start" fill="#000" >x2</text>
<path d="M348.8 287.6L348.8 286.55Q348.8 285.35 350.8 285.35L355.5 285.35Q358.1 285.35 358.1 282.6Q358.1 285.35 360.7 285.35L365.4 285.35Q367.4 285.35 367.4 286.55L367.4 287.6" fill="none" stroke="#000" stroke-width="1.8" stroke-linecap="round"/>
<line x1="349.7" y1="131.1" x2="349.7" y2="135.7" stroke="#000" stroke-width="1.1" />
<line x1="349.7" y1="127.1" x2="349.7" y2="114.5" stroke="#000" stroke-width="1.1" />
<line x1="349.7" y1="114.5" x2="349.7" y2="102.2" stroke="#000" stroke-width="1.1" />
<line x1="349.7" y1="102.2" x2="341.8" y2="92" stroke="#000" stroke-width="1.1" />
<line x1="349.7" y1="102.2" x2="357.6" y2="92" stroke="#000" stroke-width="1.1" />
<line x1="357.6" y1="92" x2="357.8" y2="79.8" stroke="#000" stroke-width="1.1" />
<line x1="349.7" y1="127.1" x2="357.7" y2="127.1" stroke="#000" stroke-width="1.1" />
<rect x="345.7" y="123.1" width="8" height="8" fill="#1858ea" stroke="#000" stroke-width="1.3"/>
<rect x="345.7" y="110.5" width="8" height="8" fill="#1858ea" stroke="#000" stroke-width="1.3"/>
<circle cx="349.7" cy="102.2" r="3.9" fill="#76b046" stroke="#000" stroke-width="1.3"/>
<circle cx="341.8" cy="92" r="3.9" fill="#76b046" stroke="#000" stroke-width="1.3"/>
<circle cx="357.6" cy="92" r="3.9" fill="#76b046" stroke="#000" stroke-width="1.3"/>
<rect x="353.8" y="75.8" width="8" height="8" fill="#1858ea" stroke="#000" stroke-width="1.3"/>
<path d="M358 123L366.5 127.1L358 131.2Z" fill="#c43327" stroke="#000" stroke-width="1.3" stroke-linejoin="miter"/>
<text x="350" y="143.7" font-family='"Liberation Sans", sans-serif' font-size="7.2" font-weight="bold" text-anchor="middle" fill="#000" >AA</text>
<rect x="339.8" y="45.4" width="7.4" height="7.4" fill="#fff" stroke="#000" stroke-width="1.5"/>
<text x="354.4" y="51.6" font-family='"Liberation Sans", sans-serif' font-size="7" font-weight="bold" text-anchor="start" fill="#000" >x1</text>
<circle cx="343.5" cy="60.4" r="3.7" fill="#fff" stroke="#000" stroke-width="1.5"/>
<text x="354.4" y="62.9" font-family='"Liberation Sans", sans-serif' font-size="7" font-weight="bold" text-anchor="start" fill="#000" >x2</text>
<path d="M340.9 71.7L340.9 70.34Q340.9 69.14 342.9 69.14L347.55 69.14Q350.15 69.14 350.15 66Q350.15 69.14 352.75 69.14L357.4 69.14Q359.4 69.14 359.4 70.34L359.4 71.7" fill="none" stroke="#000" stroke-width="1.8" stroke-linecap="round"/>
<line x1="410.8" y1="131.1" x2="410.8" y2="135.7" stroke="#000" stroke-width="1.1" />
<line x1="410.8" y1="127.1" x2="410.8" y2="114.5" stroke="#000" stroke-width="1.1" />
<line x1="410.8" y1="114.5" x2="410.8" y2="102.2" stroke="#000" stroke-width="1.1" />
<line x1="410.8" y1="102.2" x2="402.9" y2="92" stroke="#000" stroke-width="1.1" />
<line x1="410.8" y1="102.2" x2="418.7" y2="92" stroke="#000" stroke-width="1.1" />
<line x1="418.7" y1="92" x2="418.9" y2="79.8" stroke="#000" stroke-width="1.1" />
<line x1="410.8" y1="127.1" x2="418.8" y2="127.1" stroke="#000" stroke-width="1.1" />
<rect x="406.8" y="123.1" width="8" height="8" fill="#1858ea" stroke="#000" stroke-width="1.3"/>
<rect x="406.8" y="110.5" width="8" height="8" fill="#1858ea" stroke="#000" stroke-width="1.3"/>
<circle cx="410.8" cy="102.2" r="3.9" fill="#76b046" stroke="#000" stroke-width="1.3"/>
<circle cx="402.9" cy="92" r="3.9" fill="#76b046" stroke="#000" stroke-width="1.3"/>
<circle cx="418.7" cy="92" r="3.9" fill="#76b046" stroke="#000" stroke-width="1.3"/>
<rect x="414.9" y="75.8" width="8" height="8" fill="#1858ea" stroke="#000" stroke-width="1.3"/>
<path d="M419.1 123L427.6 127.1L419.1 131.2Z" fill="#c43327" stroke="#000" stroke-width="1.3" stroke-linejoin="miter"/>
<text x="411.1" y="143.7" font-family='"Liberation Sans", sans-serif' font-size="7.2" font-weight="bold" text-anchor="middle" fill="#000" >AA</text>
<text x="401" y="40.4" font-family='"Liberation Sans", sans-serif' font-size="7" font-weight="bold" text-anchor="start" fill="#000" >me</text>
<text x="416" y="40.4" font-family='"Liberation Sans", sans-serif' font-size="7" font-weight="bold" text-anchor="start" fill="#000" >x1</text>
<rect x="401.1" y="45.4" width="7.4" height="7.4" fill="#fff" stroke="#000" stroke-width="1.5"/>
<text x="416" y="51.6" font-family='"Liberation Sans", sans-serif' font-size="7" font-weight="bold" text-anchor="start" fill="#000" >x1</text>
<circle cx="404.8" cy="60.4" r="3.7" fill="#fff" stroke="#000" stroke-width="1.5"/>
<text x="416" y="62.9" font-family='"Liberation Sans", sans-serif' font-size="7" font-weight="bold" text-anchor="start" fill="#000" >x2</text>
<path d="M402 71.7L402 70.34Q402 69.14 404 69.14L408.7 69.14Q411.3 69.14 411.3 66Q411.3 69.14 413.9 69.14L418.6 69.14Q420.6 69.14 420.6 70.34L420.6 71.7" fill="none" stroke="#000" stroke-width="1.8" stroke-linecap="round"/>
<text x="430.4" y="135.6" font-family='"Liberation Sans", sans-serif' font-size="9.6" font-weight="normal" text-anchor="start" fill="#000" >and</text>
<line x1="403.8" y1="346.1" x2="403.8" y2="350.7" stroke="#000" stroke-width="1.1" />
<line x1="403.8" y1="342.1" x2="403.8" y2="329.5" stroke="#000" stroke-width="1.1" />
<line x1="403.8" y1="329.5" x2="403.8" y2="317.2" stroke="#000" stroke-width="1.1" />
<line x1="403.8" y1="317.2" x2="395.9" y2="307" stroke="#000" stroke-width="1.1" />
<line x1="403.8" y1="317.2" x2="411.7" y2="307" stroke="#000" stroke-width="1.1" />
<line x1="411.7" y1="307" x2="411.9" y2="294.8" stroke="#000" stroke-width="1.1" />
<line x1="403.8" y1="342.1" x2="411.8" y2="342.1" stroke="#000" stroke-width="1.1" />
<rect x="399.8" y="338.1" width="8" height="8" fill="#1858ea" stroke="#000" stroke-width="1.3"/>
<rect x="399.8" y="325.5" width="8" height="8" fill="#1858ea" stroke="#000" stroke-width="1.3"/>
<circle cx="403.8" cy="317.2" r="3.9" fill="#76b046" stroke="#000" stroke-width="1.3"/>
<circle cx="395.9" cy="307" r="3.9" fill="#76b046" stroke="#000" stroke-width="1.3"/>
<circle cx="411.7" cy="307" r="3.9" fill="#76b046" stroke="#000" stroke-width="1.3"/>
<rect x="407.9" y="290.8" width="8" height="8" fill="#1858ea" stroke="#000" stroke-width="1.3"/>
<path d="M412.1 338L420.6 342.1L412.1 346.2Z" fill="#c43327" stroke="#000" stroke-width="1.3" stroke-linejoin="miter"/>
<text x="404.1" y="358.7" font-family='"Liberation Sans", sans-serif' font-size="7.2" font-weight="bold" text-anchor="middle" fill="#000" >AA</text>
<text x="392.9" y="253.9" font-family='"Liberation Sans", sans-serif' font-size="9.3" font-weight="bold" text-anchor="start" fill="#000" >PC</text>
<text x="409" y="253.7" font-family='"Liberation Sans", sans-serif' font-size="7" font-weight="bold" text-anchor="start" fill="#000" >x1</text>
<rect x="393.7" y="260.8" width="7.4" height="7.4" fill="#fff" stroke="#000" stroke-width="1.5"/>
<text x="409" y="267" font-family='"Liberation Sans", sans-serif' font-size="7" font-weight="bold" text-anchor="start" fill="#000" >x2</text>
<path d="M394.8 287.3L394.8 286.2Q394.8 285 396.8 285L401.75 285Q404.35 285 404.35 282.2Q404.35 285 406.95 285L411.9 285Q413.9 285 413.9 286.2L413.9 287.3" fill="none" stroke="#000" stroke-width="1.8" stroke-linecap="round"/>
<line x1="450.9" y1="346.1" x2="450.9" y2="350.7" stroke="#000" stroke-width="1.1" />
<line x1="450.9" y1="342.1" x2="450.9" y2="329.5" stroke="#000" stroke-width="1.1" />
<line x1="450.9" y1="329.5" x2="450.9" y2="317.2" stroke="#000" stroke-width="1.1" />
<line x1="450.9" y1="317.2" x2="443" y2="307" stroke="#000" stroke-width="1.1" />
<line x1="450.9" y1="317.2" x2="458.8" y2="307" stroke="#000" stroke-width="1.1" />
<line x1="458.8" y1="307" x2="459" y2="294.8" stroke="#000" stroke-width="1.1" />
<line x1="450.9" y1="342.1" x2="458.9" y2="342.1" stroke="#000" stroke-width="1.1" />
<rect x="446.9" y="338.1" width="8" height="8" fill="#1858ea" stroke="#000" stroke-width="1.3"/>
<rect x="446.9" y="325.5" width="8" height="8" fill="#1858ea" stroke="#000" stroke-width="1.3"/>
<circle cx="450.9" cy="317.2" r="3.9" fill="#76b046" stroke="#000" stroke-width="1.3"/>
<circle cx="443" cy="307" r="3.9" fill="#76b046" stroke="#000" stroke-width="1.3"/>
<circle cx="458.8" cy="307" r="3.9" fill="#76b046" stroke="#000" stroke-width="1.3"/>
<rect x="455" y="290.8" width="8" height="8" fill="#1858ea" stroke="#000" stroke-width="1.3"/>
<path d="M459.2 338L467.7 342.1L459.2 346.2Z" fill="#c43327" stroke="#000" stroke-width="1.3" stroke-linejoin="miter"/>
<text x="451.2" y="358.7" font-family='"Liberation Sans", sans-serif' font-size="7.2" font-weight="bold" text-anchor="middle" fill="#000" >AA</text>
<path d="M442.1 246.6L450.2 250.6L442.1 254.6Z" fill="#c43327" stroke="#000" stroke-width="1.3" stroke-linejoin="miter"/>
<text x="456" y="253.1" font-family='"Liberation Sans", sans-serif' font-size="7" font-weight="bold" text-anchor="start" fill="#000" >x1</text>
<rect x="441.4" y="260.8" width="7.4" height="7.4" fill="#fff" stroke="#000" stroke-width="1.5"/>
<text x="456" y="267" font-family='"Liberation Sans", sans-serif' font-size="7" font-weight="bold" text-anchor="start" fill="#000" >x1</text>
<circle cx="445.1" cy="276.1" r="3.7" fill="#fff" stroke="#000" stroke-width="1.5"/>
<text x="456" y="278.6" font-family='"Liberation Sans", sans-serif' font-size="7" font-weight="bold" text-anchor="start" fill="#000" >x2</text>
<path d="M442.8 287.3L442.8 286.2Q442.8 285 444.8 285L449.2 285Q451.8 285 451.8 282.2Q451.8 285 454.4 285L458.8 285Q460.8 285 460.8 286.2L460.8 287.3" fill="none" stroke="#000" stroke-width="1.8" stroke-linecap="round"/>
<line x1="502" y1="345.8" x2="502" y2="350.4" stroke="#000" stroke-width="1.1" />
<line x1="502" y1="341.8" x2="502" y2="329.2" stroke="#000" stroke-width="1.1" />
<line x1="502" y1="329.2" x2="502" y2="316.9" stroke="#000" stroke-width="1.1" />
<line x1="502" y1="316.9" x2="494.1" y2="306.7" stroke="#000" stroke-width="1.1" />
<line x1="502" y1="316.9" x2="509.9" y2="306.7" stroke="#000" stroke-width="1.1" />
<line x1="509.9" y1="306.7" x2="510.1" y2="294.5" stroke="#000" stroke-width="1.1" />
<line x1="502" y1="341.8" x2="510" y2="341.8" stroke="#000" stroke-width="1.1" />
<rect x="498" y="337.8" width="8" height="8" fill="#1858ea" stroke="#000" stroke-width="1.3"/>
<rect x="498" y="325.2" width="8" height="8" fill="#1858ea" stroke="#000" stroke-width="1.3"/>
<circle cx="502" cy="316.9" r="3.9" fill="#76b046" stroke="#000" stroke-width="1.3"/>
<circle cx="494.1" cy="306.7" r="3.9" fill="#76b046" stroke="#000" stroke-width="1.3"/>
<circle cx="509.9" cy="306.7" r="3.9" fill="#76b046" stroke="#000" stroke-width="1.3"/>
<rect x="506.1" y="290.5" width="8" height="8" fill="#1858ea" stroke="#000" stroke-width="1.3"/>
<path d="M510.3 337.7L518.8 341.8L510.3 345.9Z" fill="#c43327" stroke="#000" stroke-width="1.3" stroke-linejoin="miter"/>
<text x="502.3" y="358.4" font-family='"Liberation Sans", sans-serif' font-size="7.2" font-weight="bold" text-anchor="middle" fill="#000" >AA</text>
<text x="492.6" y="241.3" font-family='"Liberation Sans", sans-serif' font-size="7" font-weight="bold" text-anchor="start" fill="#000" >me</text>
<text x="506.8" y="241.3" font-family='"Liberation Sans", sans-serif' font-size="7" font-weight="bold" text-anchor="start" fill="#000" >x1</text>
<path d="M493.3 246.8L501.4 250.8L493.3 254.8Z" fill="#c43327" stroke="#000" stroke-width="1.3" stroke-linejoin="miter"/>
<text x="506.8" y="253.3" font-family='"Liberation Sans", sans-serif' font-size="7" font-weight="bold" text-anchor="start" fill="#000" >x1</text>
<rect x="492.2" y="260.7" width="7.4" height="7.4" fill="#fff" stroke="#000" stroke-width="1.5"/>
<text x="506.8" y="266.9" font-family='"Liberation Sans", sans-serif' font-size="7" font-weight="bold" text-anchor="start" fill="#000" >x1</text>
<circle cx="495.9" cy="276" r="3.7" fill="#fff" stroke="#000" stroke-width="1.5"/>
<text x="506.8" y="278.5" font-family='"Liberation Sans", sans-serif' font-size="7" font-weight="bold" text-anchor="start" fill="#000" >x2</text>
<path d="M493.5 287L493.5 285.81Q493.5 284.62 495.5 284.62L500.15 284.62Q502.75 284.62 502.75 281.7Q502.75 284.62 505.35 284.62L510 284.62Q512 284.62 512 285.81L512 287" fill="none" stroke="#000" stroke-width="1.8" stroke-linecap="round"/>
<line x1="547.4" y1="345.8" x2="547.4" y2="350.4" stroke="#000" stroke-width="1.1" />
<line x1="547.4" y1="341.8" x2="547.4" y2="329.2" stroke="#000" stroke-width="1.1" />
<line x1="547.4" y1="329.2" x2="547.4" y2="316.9" stroke="#000" stroke-width="1.1" />
<line x1="547.4" y1="316.9" x2="539.5" y2="306.7" stroke="#000" stroke-width="1.1" />
<line x1="547.4" y1="316.9" x2="555.3" y2="306.7" stroke="#000" stroke-width="1.1" />
<line x1="555.3" y1="306.7" x2="555.5" y2="294.5" stroke="#000" stroke-width="1.1" />
<line x1="547.4" y1="341.8" x2="555.4" y2="341.8" stroke="#000" stroke-width="1.1" />
<rect x="543.4" y="337.8" width="8" height="8" fill="#1858ea" stroke="#000" stroke-width="1.3"/>
<rect x="543.4" y="325.2" width="8" height="8" fill="#1858ea" stroke="#000" stroke-width="1.3"/>
<circle cx="547.4" cy="316.9" r="3.9" fill="#76b046" stroke="#000" stroke-width="1.3"/>
<circle cx="539.5" cy="306.7" r="3.9" fill="#76b046" stroke="#000" stroke-width="1.3"/>
<circle cx="555.3" cy="306.7" r="3.9" fill="#76b046" stroke="#000" stroke-width="1.3"/>
<rect x="551.5" y="290.5" width="8" height="8" fill="#1858ea" stroke="#000" stroke-width="1.3"/>
<path d="M555.7 337.7L564.2 341.8L555.7 345.9Z" fill="#c43327" stroke="#000" stroke-width="1.3" stroke-linejoin="miter"/>
<text x="547.7" y="358.4" font-family='"Liberation Sans", sans-serif' font-size="7.2" font-weight="bold" text-anchor="middle" fill="#000" >AA</text>
<text x="536.2" y="252.6" font-family='"Liberation Sans", sans-serif' font-size="9.3" font-weight="bold" text-anchor="start" fill="#000" >PC</text>
<text x="552.4" y="253.1" font-family='"Liberation Sans", sans-serif' font-size="7" font-weight="bold" text-anchor="start" fill="#000" >x1</text>
<rect x="537" y="260.7" width="7.4" height="7.4" fill="#fff" stroke="#000" stroke-width="1.5"/>
<text x="553" y="266.9" font-family='"Liberation Sans", sans-serif' font-size="7" font-weight="bold" text-anchor="start" fill="#000" >x3</text>
<path d="M538.6 287L538.6 285.81Q538.6 284.62 540.6 284.62L545.4 284.62Q548 284.62 548 281.7Q548 284.62 550.6 284.62L555.4 284.62Q557.4 284.62 557.4 285.81L557.4 287" fill="none" stroke="#000" stroke-width="1.8" stroke-linecap="round"/>
<path d="M183.5 556.5L183.5 553M183.5 556.5L186.83 555.42M183.5 556.5L185.56 559.33M183.5 556.5L181.44 559.33M183.5 556.5L180.17 555.42" stroke="#000" stroke-width="1.75" fill="none"/>
<path d="M222 517L222 513.5M222 517L225.33 515.92M222 517L224.06 519.83M222 517L219.94 519.83M222 517L218.67 515.92" stroke="#000" stroke-width="1.75" fill="none"/>
<path d="M264.7 535L264.7 531.5M264.7 535L268.03 533.92M264.7 535L266.76 537.83M264.7 535L262.64 537.83M264.7 535L261.37 533.92" stroke="#000" stroke-width="1.75" fill="none"/>
<path d="M305.8 462.1L305.8 458.6M305.8 462.1L309.13 461.02M305.8 462.1L307.86 464.93M305.8 462.1L303.74 464.93M305.8 462.1L302.47 461.02" stroke="#000" stroke-width="1.75" fill="none"/>
<path d="M344.6 380.6L344.6 377.1M344.6 380.6L347.93 379.52M344.6 380.6L346.66 383.43M344.6 380.6L342.54 383.43M344.6 380.6L341.27 379.52" stroke="#000" stroke-width="1.75" fill="none"/>
<path d="M427.6 312.6L427.6 309.1M427.6 312.6L430.93 311.52M427.6 312.6L429.66 315.43M427.6 312.6L425.54 315.43M427.6 312.6L424.27 311.52" stroke="#000" stroke-width="1.75" fill="none"/>
<path d="M456.3 123.4L456.3 119.9M456.3 123.4L459.63 122.32M456.3 123.4L458.36 126.23M456.3 123.4L454.24 126.23M456.3 123.4L452.97 122.32" stroke="#000" stroke-width="1.75" fill="none"/>
<path d="M464.7 414L464.7 410.5M464.7 414L468.03 412.92M464.7 414L466.76 416.83M464.7 414L462.64 416.83M464.7 414L461.37 412.92" stroke="#000" stroke-width="1.75" fill="none"/>
<path d="M505.3 426.6L505.3 423.1M505.3 426.6L508.63 425.52M505.3 426.6L507.36 429.43M505.3 426.6L503.24 429.43M505.3 426.6L501.97 425.52" stroke="#000" stroke-width="1.75" fill="none"/>
<path d="M548.4 430.9L548.4 427.4M548.4 430.9L551.73 429.82M548.4 430.9L550.46 433.73M548.4 430.9L546.34 433.73M548.4 430.9L545.07 429.82" stroke="#000" stroke-width="1.75" fill="none"/>
<path d="M586 458.7L586 455.2M586 458.7L589.33 457.62M586 458.7L588.06 461.53M586 458.7L583.94 461.53M586 458.7L582.67 457.62" stroke="#000" stroke-width="1.75" fill="none"/>
<path d="M630 467.8L630 464.3M630 467.8L633.33 466.72M630 467.8L632.06 470.63M630 467.8L627.94 470.63M630 467.8L626.67 466.72" stroke="#000" stroke-width="1.75" fill="none"/>
<path d="M666.3 499.2L666.3 495.7M666.3 499.2L669.63 498.12M666.3 499.2L668.36 502.03M666.3 499.2L664.24 502.03M666.3 499.2L662.97 498.12" stroke="#000" stroke-width="1.75" fill="none"/>
<path d="M709.5 504.4L709.5 500.9M709.5 504.4L712.83 503.32M709.5 504.4L711.56 507.23M709.5 504.4L707.44 507.23M709.5 504.4L706.17 503.32" stroke="#000" stroke-width="1.75" fill="none"/>
<path d="M750.8 530.6L750.8 527.1M750.8 530.6L754.13 529.52M750.8 530.6L752.86 533.43M750.8 530.6L748.74 533.43M750.8 530.6L747.47 529.52" stroke="#000" stroke-width="1.75" fill="none"/>
<text x="1" y="659.8" font-family='"Liberation Sans", sans-serif' font-size="19.5" font-weight="bold" text-anchor="start" fill="#000" >B</text>
<text x="70.2" y="669.3" font-family='"Liberation Sans", sans-serif' font-size="11.9" fill="#000" stroke="#000" stroke-width="0.28">LC-MS/MS fragmentation spectrum of F<tspan font-size="7.5" dy="2.2">1</tspan><tspan dy="-2.2">H</tspan><tspan font-size="7.5" dy="2.2">3</tspan><tspan dy="-2.2">N</tspan><tspan font-size="7.5" dy="2.2">3</tspan><tspan dy="-2.2"> </tspan><tspan font-style="italic">m/z</tspan> 691.5 [M+2H]<tspan font-size="8.2" dy="-4.3">2+</tspan></text>
<path d="M64.6 837.7V674.3H738.4V837.7" fill="none" stroke="#444" stroke-width="1"/>
<line x1="64.6" y1="837.7" x2="738.4" y2="837.7" stroke="#222" stroke-width="1.1" />
<line x1="61.4" y1="838" x2="64.6" y2="838" stroke="#444" stroke-width="0.9" />
<text x="60.3" y="840.3" font-family='"Liberation Sans", sans-serif' font-size="6.6" font-weight="normal" text-anchor="end" fill="#333" >0</text>
<line x1="62.6" y1="830.82" x2="64.6" y2="830.82" stroke="#444" stroke-width="0.8" />
<line x1="62.6" y1="823.64" x2="64.6" y2="823.64" stroke="#444" stroke-width="0.8" />
<line x1="62.6" y1="816.46" x2="64.6" y2="816.46" stroke="#444" stroke-width="0.8" />
<line x1="62.6" y1="809.28" x2="64.6" y2="809.28" stroke="#444" stroke-width="0.8" />
<line x1="61.4" y1="802.1" x2="64.6" y2="802.1" stroke="#444" stroke-width="0.9" />
<text x="60.3" y="804.4" font-family='"Liberation Sans", sans-serif' font-size="6.6" font-weight="normal" text-anchor="end" fill="#333" >1</text>
<line x1="62.6" y1="794.92" x2="64.6" y2="794.92" stroke="#444" stroke-width="0.8" />
<line x1="62.6" y1="787.74" x2="64.6" y2="787.74" stroke="#444" stroke-width="0.8" />
<line x1="62.6" y1="780.56" x2="64.6" y2="780.56" stroke="#444" stroke-width="0.8" />
<line x1="62.6" y1="773.38" x2="64.6" y2="773.38" stroke="#444" stroke-width="0.8" />
<line x1="61.4" y1="766.2" x2="64.6" y2="766.2" stroke="#444" stroke-width="0.9" />
<text x="60.3" y="768.5" font-family='"Liberation Sans", sans-serif' font-size="6.6" font-weight="normal" text-anchor="end" fill="#333" >2</text>
<line x1="62.6" y1="759.02" x2="64.6" y2="759.02" stroke="#444" stroke-width="0.8" />
<line x1="62.6" y1="751.84" x2="64.6" y2="751.84" stroke="#444" stroke-width="0.8" />
<line x1="62.6" y1="744.66" x2="64.6" y2="744.66" stroke="#444" stroke-width="0.8" />
<line x1="62.6" y1="737.48" x2="64.6" y2="737.48" stroke="#444" stroke-width="0.8" />
<line x1="61.4" y1="730.3" x2="64.6" y2="730.3" stroke="#444" stroke-width="0.9" />
<text x="60.3" y="732.6" font-family='"Liberation Sans", sans-serif' font-size="6.6" font-weight="normal" text-anchor="end" fill="#333" >3</text>
<line x1="62.6" y1="723.12" x2="64.6" y2="723.12" stroke="#444" stroke-width="0.8" />
<line x1="62.6" y1="715.94" x2="64.6" y2="715.94" stroke="#444" stroke-width="0.8" />
<line x1="62.6" y1="708.76" x2="64.6" y2="708.76" stroke="#444" stroke-width="0.8" />
<line x1="62.6" y1="701.58" x2="64.6" y2="701.58" stroke="#444" stroke-width="0.8" />
<line x1="61.4" y1="694.4" x2="64.6" y2="694.4" stroke="#444" stroke-width="0.9" />
<text x="60.3" y="696.7" font-family='"Liberation Sans", sans-serif' font-size="6.6" font-weight="normal" text-anchor="end" fill="#333" >4</text>
<line x1="62.6" y1="687.22" x2="64.6" y2="687.22" stroke="#444" stroke-width="0.8" />
<line x1="62.6" y1="680.04" x2="64.6" y2="680.04" stroke="#444" stroke-width="0.8" />
<text x="59" y="679.8" font-family='"Liberation Sans", sans-serif' font-size="6.4" font-weight="normal" text-anchor="end" fill="#333" textLength="15" lengthAdjust="spacingAndGlyphs">Intens.</text>
<text x="57.2" y="688.2" font-family='"Liberation Sans", sans-serif' font-size="5.8" font-weight="normal" text-anchor="end" fill="#333" >x10</text>
<text x="57" y="685.2" font-family='"Liberation Sans", sans-serif' font-size="5" font-weight="normal" text-anchor="start" fill="#333" >5</text>
<line x1="82.6" y1="837.7" x2="82.6" y2="840.7" stroke="#444" stroke-width="0.8" />
<text x="82.6" y="847.6" font-family='"Liberation Sans", sans-serif' font-size="6.6" font-weight="normal" text-anchor="middle" fill="#333" >200</text>
<line x1="136.11" y1="837.7" x2="136.11" y2="839.7" stroke="#444" stroke-width="0.8" />
<line x1="189.62" y1="837.7" x2="189.62" y2="840.7" stroke="#444" stroke-width="0.8" />
<text x="189.62" y="847.6" font-family='"Liberation Sans", sans-serif' font-size="6.6" font-weight="normal" text-anchor="middle" fill="#333" >400</text>
<line x1="243.13" y1="837.7" x2="243.13" y2="839.7" stroke="#444" stroke-width="0.8" />
<line x1="296.64" y1="837.7" x2="296.64" y2="840.7" stroke="#444" stroke-width="0.8" />
<text x="296.64" y="847.6" font-family='"Liberation Sans", sans-serif' font-size="6.6" font-weight="normal" text-anchor="middle" fill="#333" >600</text>
<line x1="350.15" y1="837.7" x2="350.15" y2="839.7" stroke="#444" stroke-width="0.8" />
<line x1="403.66" y1="837.7" x2="403.66" y2="840.7" stroke="#444" stroke-width="0.8" />
<text x="403.66" y="847.6" font-family='"Liberation Sans", sans-serif' font-size="6.6" font-weight="normal" text-anchor="middle" fill="#333" >800</text>
<line x1="457.17" y1="837.7" x2="457.17" y2="839.7" stroke="#444" stroke-width="0.8" />
<line x1="510.68" y1="837.7" x2="510.68" y2="840.7" stroke="#444" stroke-width="0.8" />
<text x="510.68" y="847.6" font-family='"Liberation Sans", sans-serif' font-size="6.6" font-weight="normal" text-anchor="middle" fill="#333" >1000</text>
<line x1="564.19" y1="837.7" x2="564.19" y2="839.7" stroke="#444" stroke-width="0.8" />
<line x1="617.7" y1="837.7" x2="617.7" y2="840.7" stroke="#444" stroke-width="0.8" />
<text x="617.7" y="847.6" font-family='"Liberation Sans", sans-serif' font-size="6.6" font-weight="normal" text-anchor="middle" fill="#333" >1200</text>
<line x1="671.21" y1="837.7" x2="671.21" y2="839.7" stroke="#444" stroke-width="0.8" />
<line x1="724.72" y1="837.7" x2="724.72" y2="840.7" stroke="#444" stroke-width="0.8" />
<text x="735.6" y="680.4" font-family='"Liberation Sans", sans-serif' font-size="6" font-weight="normal" text-anchor="end" fill="#333" textLength="66.4" lengthAdjust="spacingAndGlyphs">+MS2(691.5), 11.7min #820</text>
<text x="729.4" y="859.2" font-family='"Liberation Sans", sans-serif' font-size="11.5" font-weight="bold" text-anchor="start" fill="#000" >M/Z</text>
<path d="M65.1 836.77 L65.9 837.07 L66.7 836.73 L67.5 837.18 L68.3 836.77 L69.1 836.75 L69.9 836.66 L70.7 834.39 L71.5 836.7 L72.3 837.09 L73.1 835.89 L73.9 837.16 L74.7 836.82 L75.5 837.13 L76.3 836.7 L77.1 837.14 L77.9 836.93 L78.7 837.13 L79.5 836.91 L80.3 836.74 L81.1 837.17 L81.7 837.07 L81.9 837 L82.7 836.21 L83.1 835.81 L83.5 835.41 L83.7 835.22 L84.3 815.7 L84.9 835.22 L85.1 835.41 L85.4 835.71 L85.5 835.81 L85.9 836.21 L86.7 837 L86.8 836.84 L86.9 837.06 L87.4 836.86 L87.5 836.83 L88 835 L88.3 836.1 L88.6 836.96 L89.1 836.51 L89.2 836.89 L89.9 836.8 L90.4 837.14 L90.6 836.94 L90.7 837.16 L91.5 837.07 L91.8 837.18 L92.3 836.73 L92.4 836.81 L93 835.5 L93.1 835.78 L93.6 837.02 L93.9 837.2 L94.2 836.97 L94.7 836.92 L95.5 836.39 L95.6 834.63 L96.3 837.12 L97.1 837.12 L97.9 836.94 L98.7 837.14 L99.5 836.99 L100.3 837.14 L101.1 836.76 L101.9 837.05 L102 835.39 L102.7 837.08 L103.4 837.16 L103.5 837.03 L104 837.12 L104.3 834.7 L104.6 832.2 L105.1 834.82 L105.2 837.13 L105.8 837.13 L105.9 837.18 L106.7 837.16 L107.2 836.9 L107.4 836.65 L107.5 837.04 L108.3 837.02 L108.8 836.6 L109.1 836.9 L109.4 836.51 L109.9 835.78 L110 835.5 L110.6 836.86 L110.7 836.89 L111.2 836.49 L111.5 836.35 L112.3 836.76 L112.6 836.83 L113.1 837.12 L113.9 835.37 L114.7 836.95 L115.5 837.17 L116.3 836.61 L117.1 835.58 L117.9 837.1 L118.7 836.99 L119.5 837 L120.3 836.88 L121.1 837.08 L121.9 837 L122.4 836.58 L122.7 836.83 L123.5 837.12 L123.8 837.03 L124.3 836.88 L124.4 836.75 L125 835.8 L125.1 836.03 L125.6 836.78 L125.9 836.95 L126.2 836.67 L126.7 836.36 L127.5 834.59 L127.6 837.06 L128.3 836.2 L129.1 836.62 L129.9 836.55 L130.7 837.1 L131.5 836.73 L132.3 837.06 L133.1 836.84 L133.9 836.67 L134.7 837.08 L135.4 835.38 L135.5 837.15 L136.3 836.99 L136.8 837.06 L137.1 836.8 L137.4 836.71 L137.9 835.37 L138 835 L138.6 836.97 L138.7 836.66 L139.2 836.66 L139.5 836.75 L140.3 836.77 L140.6 837.06 L141.1 837.01 L141.9 836.85 L142.7 836.77 L143.5 836.24 L144.3 837.08 L145.1 836.87 L145.9 836.51 L146.7 836.87 L147.5 837.01 L148.3 837.12 L149.1 837.19 L149.9 837.13 L150.7 836.99 L151.5 837.07 L152.3 837.05 L153.1 836.91 L153.9 836.75 L154.7 837.06 L155.5 837.15 L156.1 837.06 L156.3 836.65 L157.1 836.95 L157.5 836.83 L157.9 836.78 L158.1 836.58 L158.7 826 L159.3 837.12 L159.4 836.8 L159.5 834.67 L159.9 836.85 L160.3 837.16 L160.8 836.66 L161.1 837.17 L161.3 836.45 L161.4 836.75 L161.9 835.37 L162 835 L162.6 836.88 L162.7 836.97 L163.2 836.61 L163.5 836.66 L164.3 836.97 L164.6 837.17 L165.1 837.06 L165.9 836.91 L166.7 837.18 L167.5 837.02 L168.3 837.06 L168.9 836.79 L169.1 836.83 L169.9 836.53 L170.3 836.26 L170.7 836 L170.9 835.86 L171.5 822.7 L172.1 835.86 L172.3 836 L172.7 836.26 L173.1 836.53 L173.9 837.03 L174.1 837.01 L174.7 836.66 L175.5 836.82 L176.3 836.95 L177.1 836.05 L177.4 836.88 L177.9 836.5 L178.7 836.61 L178.8 837.18 L179.4 837.15 L179.5 835.47 L180 835 L180.3 836.1 L180.6 837.01 L181.1 836.56 L181.2 837.1 L181.9 837.13 L182.6 837.17 L182.7 836.89 L183.5 834.87 L184.3 837 L185.1 837.04 L185.9 836.85 L186.7 837.13 L187.5 834.72 L188.3 837.03 L189.1 836.68 L189.9 836.81 L190.7 836.93 L191.5 837.11 L192.2 836.95 L192.3 837.09 L193.1 836.57 L193.6 836.81 L193.9 836.83 L194.2 836.73 L194.7 831.37 L194.8 830.2 L195.4 837.19 L195.5 837.02 L196 837.02 L196.3 836.93 L197.1 836.76 L197.4 836.05 L197.9 836.25 L198.7 835.4 L198.8 836.22 L199.4 836.29 L199.5 836.83 L200 835 L200.3 836.1 L200.6 836.29 L201.1 837.16 L201.2 836.79 L201.9 836.71 L202.6 837.19 L202.7 837.09 L203.5 836.99 L204.3 837.16 L205.1 836.41 L205.9 836.9 L206.7 836.93 L207 837.01 L207.5 836.93 L208.3 837.09 L208.4 836.13 L209 837.18 L209.1 835.92 L209.6 829.5 L209.9 833.35 L210.2 837.15 L210.7 836.27 L210.8 837.07 L211.4 836.68 L211.5 836.98 L212.2 837.01 L212.3 836.77 L212.8 835.42 L213.1 837.14 L213.4 836.71 L213.9 834.95 L214 834.5 L214.6 837.02 L214.7 836.34 L215.2 837.19 L215.5 836.64 L216.3 836.71 L216.6 837.02 L217.1 836.98 L217.9 836.78 L218.7 836.93 L219.4 837.19 L219.5 836.22 L220.3 837.08 L220.8 837.17 L221.1 837.08 L221.4 837.09 L221.9 834.53 L222 834 L222.6 836.92 L222.7 836.91 L223.2 837.18 L223.5 836.53 L224.3 837.02 L224.6 836.74 L225.1 836.96 L225.9 837.08 L226.7 836.6 L227.4 836.33 L227.5 837.18 L228.3 836.41 L228.8 836.61 L229.1 836.79 L229.4 836.83 L229.9 835.78 L230 835.5 L230.6 837.06 L230.7 836.94 L231.2 837.05 L231.5 837.16 L232.3 837.01 L232.6 837.08 L233.1 837.07 L233.9 836.48 L234.7 836.79 L234.8 837.1 L235.5 836.72 L236.2 836.23 L236.3 836.16 L236.8 835.82 L237.1 829.7 L237.4 822.2 L237.9 834.7 L238 835.82 L238.6 836.23 L238.7 835.46 L239.5 836.85 L240 836.37 L240.3 836.82 L240.4 836.79 L241.1 837.03 L241.8 836.7 L241.9 836.92 L242.4 837.07 L242.7 836.1 L243 835 L243.5 836.83 L243.6 837.17 L244.2 836.85 L244.3 837.01 L245.1 836.84 L245.6 837 L245.9 836.45 L246.7 836.86 L247.5 836.61 L248.3 836.53 L249.1 836.63 L249.9 837.04 L250.7 836.59 L251.5 836.85 L251.9 836.74 L252.3 837.08 L253.1 836.99 L253.3 837.08 L253.9 837.18 L254.5 826.5 L254.7 830.07 L255.1 836.75 L255.5 836.36 L255.7 837.1 L256.3 836.98 L257.1 836.99 L257.4 837.06 L257.9 836.92 L258.7 836.68 L258.8 837.04 L259.4 836.84 L259.5 836.83 L260 835 L260.3 834.56 L260.6 837.17 L261.1 836.88 L261.2 836.92 L261.9 836.69 L262.6 835.72 L262.7 836.77 L263.5 836.75 L264.3 837.09 L265 837.03 L265.1 836.91 L265.9 836.49 L266.4 836.09 L266.7 835.85 L267 835.61 L267.5 822.87 L267.6 820 L268.2 835.61 L268.3 835.69 L268.8 836.09 L269.1 836.33 L269.4 836.56 L269.9 836.96 L270.2 837.12 L270.7 836.79 L270.8 837.08 L271.4 837.09 L271.5 836.83 L272 835 L272.3 836.1 L272.6 836.92 L273.1 836.98 L273.2 835.7 L273.9 836.75 L274.6 837.16 L274.7 834.27 L275.5 837.13 L276.3 836.97 L277.1 836.89 L277.9 836.89 L278.3 836.8 L278.7 836.87 L279.5 837.16 L279.7 836.89 L280.3 837.15 L280.9 833 L281.1 834.4 L281.5 837.08 L281.9 837.05 L282.1 836.88 L282.7 836.99 L283 837.07 L283.5 837.09 L284.3 837.12 L284.4 836.7 L285 837.16 L285.1 836.12 L285.6 830.7 L285.9 833.95 L286.2 836.26 L286.7 837.15 L286.8 837.16 L287.5 837.1 L288.2 837.07 L288.3 837.04 L289.1 836.57 L289.9 837.12 L290.4 836.45 L290.7 837.01 L291.5 837.2 L291.8 836.65 L292.3 837.14 L292.4 836.74 L293 835 L293.1 835.37 L293.6 836.74 L293.9 836.9 L294.2 837.06 L294.7 837.01 L295.5 837.17 L295.6 836.78 L296.3 837.03 L297.1 836.56 L297.9 837.17 L298.7 837.07 L298.8 836.94 L299.5 836.61 L300.2 836.91 L300.3 837.12 L300.8 837.16 L301.1 835.1 L301.4 833 L301.9 836.5 L302 836.86 L302.6 836.97 L302.7 837.18 L303.4 836.86 L303.5 836.9 L304 837.16 L304.3 836.75 L304.8 836.69 L305.1 837.08 L305.4 836.88 L305.9 835.37 L306 835 L306.6 836.65 L306.7 836.53 L307.2 837.18 L307.5 836.79 L308.3 837.02 L308.6 836.83 L309.1 837.14 L309.9 836.67 L310.7 837.01 L311.5 836.72 L312.3 836.86 L313.1 837.04 L313.9 837.12 L314.7 837.11 L315.5 837.13 L316.3 837.18 L317.1 836.9 L317.9 836.5 L318.7 836.88 L319.5 836.96 L320.3 836.93 L321.1 837.19 L321.9 836.75 L322.7 837.15 L323.1 837.03 L323.5 836.75 L324.3 835.84 L324.5 835.62 L325.1 834.94 L325.7 812.7 L325.9 820.87 L326.3 834.94 L326.7 835.39 L326.9 835.62 L327.4 836.18 L327.5 836.3 L328.3 837.06 L328.8 836.99 L329.1 837.16 L329.4 837.05 L329.9 835.37 L330 835 L330.6 837.15 L330.7 836.63 L331.2 836.79 L331.5 836.93 L332.1 836.42 L332.3 837.15 L332.6 836.9 L333.1 837.09 L333.5 836.97 L333.9 836.84 L334.1 836.83 L334.7 826 L335.3 836.91 L335.4 837.12 L335.5 836.71 L335.9 836.8 L336.3 835.34 L336.8 837.14 L337.1 836.94 L337.3 837.07 L337.4 836.63 L337.9 834.53 L338 834 L338.6 836.82 L338.7 837.12 L339.2 836.83 L339.5 837.02 L340.3 837 L340.6 836.94 L341.1 836.79 L341.9 837.16 L342.7 836.35 L343.5 837.09 L344.3 836.96 L345.1 836.79 L345.9 837.11 L346.7 836.59 L347.5 836.95 L348.3 837.18 L349.1 836.74 L349.9 837.1 L350.7 837.05 L351.5 835.55 L352.3 836.85 L352.4 837.05 L353.1 836.51 L353.8 836.86 L353.9 837.13 L354.4 836.95 L354.7 836.35 L355 835.5 L355.5 836.92 L355.6 836.74 L356.2 837.07 L356.3 836.96 L357.1 836.9 L357.6 836.66 L357.9 837.04 L358.7 835.54 L359.5 837.13 L360.3 836.18 L361.1 837.2 L361.9 837.1 L362.7 836.98 L363.5 836.93 L364.3 837.12 L365.1 837.16 L365.9 837.17 L366.7 836.95 L367.5 837.18 L368.3 836.81 L369.1 836.69 L369.9 835.05 L370.7 837.13 L371.5 837.1 L372.3 836.89 L373.1 836.85 L373.9 836.67 L374.7 836.78 L375.5 837.13 L376.3 836.88 L377.1 837.08 L377.4 837 L377.9 837.06 L378.7 836.84 L378.8 837.05 L379.4 837.02 L379.5 837 L380 836 L380.3 836.6 L380.6 836.85 L381.1 837.16 L381.2 836.87 L381.9 836.82 L382.6 836.74 L382.7 836.89 L383.5 837.16 L384.3 836.97 L385.1 836.99 L385.9 836.87 L386.7 836.28 L387.5 837.13 L388.3 837.15 L389.1 837.02 L389.9 837.15 L390.7 837.12 L391.5 836.69 L392.3 837.1 L393.1 836.66 L393.9 837.03 L394.7 837.01 L395.5 835.42 L396.3 837.1 L397.1 836.86 L397.9 836.31 L398.7 836.99 L399.5 837.08 L400.3 836.52 L401.1 837 L401.9 836.89 L402.7 837 L403.5 836.97 L404.3 836.99 L405.1 837.01 L405.9 836.9 L406.7 837.07 L407.4 836.98 L407.5 837.02 L408.3 837.11 L408.8 835.4 L409.1 837.02 L409.4 835.38 L409.9 836.2 L410 836 L410.6 835.95 L410.7 836.85 L411.2 836.92 L411.5 837.05 L412.3 836.84 L412.6 836.9 L413.1 836.85 L413.9 836.86 L414.7 836.85 L415.5 837.09 L416.3 836.55 L417.1 837.12 L417.9 837.15 L418.7 837.08 L419.5 836.89 L420.3 837.11 L421.1 836.96 L421.9 836.76 L422.7 837.2 L423.5 836.69 L424.3 837.18 L425.1 836.59 L425.9 836.95 L426.7 836.78 L427.5 836.6 L428.3 837.02 L429.1 836.7 L429.9 836.94 L430.7 836.79 L431.5 837 L432.3 836.99 L433.1 837.18 L433.9 836.94 L434.7 837.02 L435.5 837.18 L436.3 836.76 L437.1 836.87 L437.9 837.14 L438.7 836.8 L439.5 837.12 L440.3 837.12 L441.1 837.1 L441.9 836.87 L442.4 837.13 L442.7 836.9 L443.5 836.84 L443.8 836.65 L444.3 837.07 L444.4 836.73 L445 836 L445.1 836.2 L445.6 837.18 L445.9 837.15 L446.2 837.02 L446.7 837.17 L447.5 836.96 L447.6 836.94 L448.3 836.67 L449.1 835.96 L449.9 837.07 L450.7 836.09 L451.5 836.77 L452.3 837.13 L453.1 836.97 L453.9 836.61 L454.7 836.82 L455.5 836.89 L456.3 836.79 L457.1 836.85 L457.9 837.07 L458.7 837.03 L459.5 837.2 L460.3 836.79 L461.1 836.75 L461.9 837.15 L462.7 837.16 L463.5 836.95 L464.3 837.19 L465.1 837.09 L465.9 837.15 L466.7 837.07 L467.4 836.96 L467.5 837.2 L468.3 836.65 L468.8 835.27 L469.1 836.93 L469.4 836.79 L469.9 836.2 L470 836 L470.6 836.33 L470.7 836.99 L471.2 836.91 L471.5 837.05 L472.3 837.15 L472.6 837.2 L473.1 836.77 L473.9 837.17 L474.7 837.17 L475.5 836.85 L476.3 837.09 L477.1 836.18 L477.9 836.75 L478.7 836.88 L479.5 836.75 L480.3 837.13 L481.1 836.85 L481.9 836.83 L482.7 836.99 L483.5 836.95 L484.3 837.13 L485.1 837.06 L485.9 837.06 L486.7 836.64 L487.5 837.13 L488.3 837.05 L489.1 837.16 L489.9 837.18 L490.7 837.01 L491.5 836.81 L492.3 836.97 L493.1 836.99 L493.9 836.83 L494.7 837.17 L495.5 836.74 L496.3 836.9 L497.1 836.82 L497.9 836.44 L498.7 836.54 L499.5 836.37 L500.3 836.84 L501.1 836.85 L501.9 836.68 L502.7 836.75 L503.5 837.04 L504.3 837.13 L505.1 836.7 L505.9 837.05 L506.7 837.14 L507.5 836.73 L508.3 836.72 L509.1 837.1 L509.9 836.53 L510.7 836.75 L511.5 836.63 L512.3 837.17 L513.1 836.85 L513.9 837.18 L514.7 836.79 L515.5 837.17 L516.3 836.71 L516.9 836.54 L517.1 836.09 L517.9 836.04 L518.3 835.57 L518.7 835.11 L518.9 834.87 L519.4 816.2 L519.5 812 L520.1 834.87 L520.3 835.11 L520.7 835.57 L520.8 835.69 L521.1 836.04 L521.4 836.39 L521.9 834.53 L522 834 L522.1 834.53 L522.6 836.68 L522.7 836.76 L523.2 836.26 L523.5 836.75 L524.3 836.8 L524.6 836.8 L525.1 837.14 L525.9 837.17 L526.7 837.01 L527.5 836.99 L528.3 837.12 L529.1 837.03 L529.9 837.08 L530.7 837.07 L531.5 837.06 L532.3 837.02 L533.1 837.17 L533.9 836.87 L534.7 836.9 L535.5 836.81 L536.3 836.87 L537.1 836.99 L537.9 836.89 L538.7 836.75 L539.5 837.05 L540.3 836.51 L541.1 837.03 L541.9 836.85 L542.4 837.18 L542.7 836.73 L543.5 836.95 L543.8 837.06 L544.3 837.06 L544.4 836.68 L545 835.8 L545.1 836.03 L545.6 836.92 L545.9 837.05 L546.2 836.83 L546.7 836.96 L547.5 836.92 L547.6 837.02 L548.3 837.04 L549.1 836.92 L549.9 836.71 L550.7 837.13 L551.5 836.9 L552.3 837.13 L553.1 836.26 L553.9 837.02 L554.7 836.96 L555.5 836.75 L556.3 836.84 L557.1 837.04 L557.9 836.99 L558.7 836.16 L559.5 836.98 L560.3 836.93 L561.1 836.95 L561.9 836.76 L562.7 837.19 L563.5 836.56 L564.3 834.69 L565.1 836.93 L565.9 837.14 L566.7 837.15 L567.5 837.03 L568.3 837.16 L569.1 837.02 L569.9 837.19 L570.7 836.84 L571.5 836.98 L572.3 836.26 L573.1 836.84 L573.9 836.84 L574.7 837.06 L575.5 837.08 L576.3 837.04 L577.1 836.8 L577.4 836.93 L577.9 837.16 L578.7 837.17 L578.8 837.15 L579.4 836.65 L579.5 837 L580 836 L580.3 835.45 L580.6 836.67 L581.1 837.19 L581.2 837.03 L581.9 836.69 L582.6 837.16 L582.7 836.82 L583.5 837.03 L584.3 837.02 L585.1 836.65 L585.9 836.84 L586.7 837.03 L587.5 837.09 L588.3 837.17 L589.1 836.77 L589.9 837.12 L590.7 836.93 L591.5 837 L592.3 837.13 L593.1 835.31 L593.9 837.16 L594.7 837.19 L595.5 836.89 L596.3 836.85 L597.1 836.84 L597.9 836.9 L598.7 835.93 L599.5 837.14 L600.3 837.12 L601.1 836.58 L601.9 836.97 L602.7 837.03 L603.5 836.54 L603.6 837.13 L604.3 835.58 L605 833.97 L605.1 833.74 L605.6 832.58 L605.9 768.6 L606.2 700 L606.4 745.73 L606.7 814.33 L606.8 832.58 L607.4 833.97 L607.5 834.2 L607.8 834.89 L608.3 836.05 L608.4 836.28 L608.8 835.07 L609 834 L609.1 834.53 L609.6 836.82 L609.9 836.88 L610.2 836.39 L610.7 837.11 L611.5 836.85 L611.6 836.69 L612.3 835.34 L613.1 836.82 L613.9 836.84 L614.7 837.07 L615.5 836.88 L616.3 837.19 L617.1 836.99 L617.9 837.08 L618.7 837.03 L619.5 836.86 L620.3 837.16 L621.1 836.91 L621.9 836.84 L622.7 836.95 L623.5 836.72 L624.3 837.14 L625.1 836.75 L625.9 837.05 L626.7 836.9 L627.5 836.87 L628.3 836.9 L629.1 836.81 L629.9 837.09 L630.7 836.96 L631.5 835.12 L632.3 836.8 L633.1 837.02 L633.9 836.63 L634.7 837.02 L635.5 837.15 L636.3 836.96 L637.1 837.06 L637.9 837.09 L638.7 836.56 L639.5 836.73 L640.3 836.67 L641.1 837.03 L641.9 837.16 L642.7 835.35 L643.5 837.19 L644.3 836.91 L645.1 836.92 L645.9 837.17 L646.7 836.49 L647.4 837.16 L647.5 836.91 L648.3 836.82 L648.8 836.7 L649.1 837.09 L649.4 837.19 L649.9 836.2 L650 836 L650.6 836.95 L650.7 837.09 L651.2 836.37 L651.5 837.05 L652.3 836.99 L652.6 836.72 L653.1 837.01 L653.9 836.84 L654.7 836.93 L655.5 836.94 L656.3 836.54 L657.1 837.12 L657.9 837.16 L658.7 836.93 L659.5 836.57 L660.3 836.82 L661.1 837 L661.9 836.95 L662.7 836.87 L663.5 836.85 L664.3 837 L665.1 836.32 L665.9 836.87 L666.7 837.1 L667.5 836.9 L668.3 836.35 L669.1 837.07 L669.9 837.14 L670.7 837.17 L671.5 837.01 L672.3 836.76 L673.1 836.84 L673.9 836.26 L674.7 836.04 L675.5 836.56 L676.3 837.04 L677.1 836.81 L677.9 837.2 L678.7 837.19 L679.5 836.55 L680.3 837.1 L681.1 837.17 L681.9 837.15 L682.7 836.83 L683.5 836.98 L684.3 836.95 L685.1 837.13 L685.9 837.04 L686.7 836.98 L687.5 837.07 L688.3 836.98 L689.1 836.93 L689.9 837.16 L690.7 837.17 L691.5 836.91 L692.3 836.92 L693.1 836.65 L693.9 837.18 L694.7 836.94 L695.5 836.86 L696.3 837.18 L697.1 836.85 L697.4 837.18 L697.9 837.14 L698.7 836.89 L698.8 837.09 L699.4 836.74 L699.5 837 L700 836 L700.3 836.49 L700.6 836.89 L701.1 836.56 L701.2 836.58 L701.9 837.02 L702.6 837.12 L702.7 837.13 L703.5 837.02 L704.3 837.07 L705.1 836.35 L705.9 837 L706.7 837.01 L707.5 835.96 L708.3 836.9 L709.1 836.89 L709.9 836.9 L710.7 837.17 L711.5 836.77 L712.3 837.18 L713.1 837.06 L713.9 836.83 L714.7 837.01 L715.5 836.93 L716.3 837.08 L717.1 836.74 L717.9 837.08 L718.7 836.89 L719.5 834.39 L720.3 837.11 L721.1 837.13 L721.9 836.24 L722.7 836.96 L723.5 836.69 L724.3 837.2 L725.1 835.88 L725.9 837.17 L726.7 836.93 L727.5 836.91 L728.3 836.75 L729.1 836.63 L729.9 836.82 L730.7 837.1 L731.5 837.11 L732.3 836.38 L733.1 836.98 L733.9 836.84 L734.7 836.93 L735.5 836.71 L736.3 836.73 L737.1 836.49 L737.9 837.08" fill="none" stroke="#111" stroke-width="0.9"/>
<line x1="159.7" y1="693" x2="159.7" y2="798" stroke="#666" stroke-width="0.9" />
<line x1="159.7" y1="804.5" x2="159.7" y2="826" stroke="#666" stroke-width="0.9" />
<line x1="159.7" y1="693" x2="606.5" y2="693" stroke="#666" stroke-width="0.9" />
<line x1="606.5" y1="690.8" x2="715" y2="690.8" stroke="#666" stroke-width="0.9" />
<line x1="267.6" y1="693" x2="267.6" y2="817.5" stroke="#666" stroke-width="0.9" />
<line x1="354.5" y1="693" x2="354.5" y2="825.2" stroke="#666" stroke-width="0.9" />
<line x1="433" y1="693" x2="433" y2="825.2" stroke="#666" stroke-width="0.9" />
<line x1="519.7" y1="693" x2="519.7" y2="804.5" stroke="#666" stroke-width="0.9" />
<line x1="606.5" y1="693" x2="606.5" y2="700" stroke="#666" stroke-width="0.9" />
<line x1="715" y1="690.8" x2="715" y2="831.5" stroke="#666" stroke-width="0.9" />
<line x1="159.7" y1="749.7" x2="237.4" y2="749.7" stroke="#666" stroke-width="0.9" />
<line x1="237.4" y1="749.7" x2="237.4" y2="814.2" stroke="#666" stroke-width="0.9" />
<rect x="203.03" y="689.5" width="19.75" height="7" fill="#fff"/>
<text x="212.9" y="695.3" font-family='"Liberation Sans", sans-serif' font-size="6.4" font-weight="normal" text-anchor="middle" fill="#333" >203.0</text>
<rect x="300.82" y="689.5" width="19.75" height="7" fill="#fff"/>
<text x="310.7" y="695.3" font-family='"Liberation Sans", sans-serif' font-size="6.4" font-weight="normal" text-anchor="middle" fill="#333" >162.1</text>
<rect x="383.02" y="689.5" width="19.75" height="7" fill="#fff"/>
<text x="392.9" y="695.3" font-family='"Liberation Sans", sans-serif' font-size="6.4" font-weight="normal" text-anchor="middle" fill="#333" >146.1</text>
<rect x="465.73" y="689.5" width="19.75" height="7" fill="#fff"/>
<text x="475.6" y="695.3" font-family='"Liberation Sans", sans-serif' font-size="6.4" font-weight="normal" text-anchor="middle" fill="#333" >162.0</text>
<rect x="553.02" y="689.5" width="19.75" height="7" fill="#fff"/>
<text x="562.9" y="695.3" font-family='"Liberation Sans", sans-serif' font-size="6.4" font-weight="normal" text-anchor="middle" fill="#333" >162.0</text>
<rect x="650.83" y="687.3" width="19.75" height="7" fill="#fff"/>
<text x="660.7" y="693.1" font-family='"Liberation Sans", sans-serif' font-size="6.4" font-weight="normal" text-anchor="middle" fill="#333" >202.8</text>
<rect x="595.15" y="689.5" width="23.1" height="7" fill="#fff"/>
<text x="606.7" y="695.3" font-family='"Liberation Sans", sans-serif' font-size="6.4" font-weight="normal" text-anchor="middle" fill="#333" >1178.3</text>
<rect x="187.43" y="746.2" width="19.75" height="7" fill="#fff"/>
<text x="197.3" y="752" font-family='"Liberation Sans", sans-serif' font-size="6.4" font-weight="normal" text-anchor="middle" fill="#333" >146.0</text>
<rect x="209" y="699.7" width="8.2" height="8.2" fill="#1858ea" stroke="#000" stroke-width="1.3"/>
<circle cx="310.2" cy="703.8" r="4" fill="#76b046" stroke="#000" stroke-width="1.3"/>
<path d="M389.5 699.6L398.4 703.8L389.5 708Z" fill="#c43327" stroke="#000" stroke-width="1.3" stroke-linejoin="miter"/>
<circle cx="475.6" cy="703.8" r="4" fill="#76b046" stroke="#000" stroke-width="1.3"/>
<circle cx="562.9" cy="703.8" r="4" fill="#76b046" stroke="#000" stroke-width="1.3"/>
<rect x="656.1" y="699.8" width="8.2" height="8.2" fill="#1858ea" stroke="#000" stroke-width="1.3"/>
<path d="M195.1 756.5L204 760.7L195.1 764.9Z" fill="#c43327" stroke="#000" stroke-width="1.3" stroke-linejoin="miter"/>
<text x="84.3" y="814.2" font-family='"Liberation Sans", sans-serif' font-size="6.4" font-weight="normal" text-anchor="middle" fill="#333" >203.9</text>
<text x="104.4" y="830" font-family='"Liberation Sans", sans-serif' font-size="6.4" font-weight="normal" text-anchor="middle" fill="#333" >240.9</text>
<text x="158.2" y="803.7" font-family='"Liberation Sans", sans-serif' font-size="6.4" font-weight="normal" text-anchor="middle" fill="#333" >343.2</text>
<text x="171" y="821.3" font-family='"Liberation Sans", sans-serif' font-size="6.4" font-weight="normal" text-anchor="middle" fill="#333" >366.1</text>
<text x="194.8" y="828" font-family='"Liberation Sans", sans-serif' font-size="6.4" font-weight="normal" text-anchor="middle" fill="#333" >411.1</text>
<text x="210.4" y="828" font-family='"Liberation Sans", sans-serif' font-size="6.4" font-weight="normal" text-anchor="middle" fill="#333" >437.2</text>
<text x="237.4" y="820" font-family='"Liberation Sans", sans-serif' font-size="6.4" font-weight="normal" text-anchor="middle" fill="#333" >489.2</text>
<text x="267.6" y="823" font-family='"Liberation Sans", sans-serif' font-size="6.4" font-weight="normal" text-anchor="middle" fill="#333" >546.2</text>
<text x="285.1" y="829.5" font-family='"Liberation Sans", sans-serif' font-size="6.4" font-weight="normal" text-anchor="middle" fill="#333" >579.1</text>
<text x="301.4" y="830.5" font-family='"Liberation Sans", sans-serif' font-size="6.4" font-weight="normal" text-anchor="middle" fill="#333" >610.2</text>
<text x="325.2" y="810.5" font-family='"Liberation Sans", sans-serif' font-size="6.4" font-weight="normal" text-anchor="middle" fill="#333" >653.4</text>
<text x="334.7" y="823.8" font-family='"Liberation Sans", sans-serif' font-size="6.4" font-weight="normal" text-anchor="middle" fill="#333" >671.3</text>
<text x="519.5" y="810.5" font-family='"Liberation Sans", sans-serif' font-size="6.4" font-weight="normal" text-anchor="middle" fill="#333" >1016.3</text>
<path d="M345.3 832.2L347.6 834.7L345.3 837.2L343 834.7Z" fill="#8a8ac8" stroke="#335" stroke-width="0.6"/>
<path d="M715.2 834.7L715.2 831.67M715.2 834.7L718.08 833.76M715.2 834.7L716.98 837.15M715.2 834.7L713.42 837.15M715.2 834.7L712.32 833.76" stroke="#000" stroke-width="1.52" fill="none"/>
<rect x="70.4" y="765.2" width="8.2" height="8.2" fill="#1858ea" stroke="#000" stroke-width="1.3"/>
<line x1="146.5" y1="769.3" x2="146.5" y2="778.3" stroke="#000" stroke-width="1.1" />
<rect x="142.4" y="765.2" width="8.2" height="8.2" fill="#1858ea" stroke="#000" stroke-width="1.3"/>
<text x="146.5" y="787.6" font-family='"Liberation Sans", sans-serif' font-size="7.4" font-weight="bold" text-anchor="middle" fill="#000" >AA</text>
<line x1="217.4" y1="769.3" x2="217.4" y2="778.3" stroke="#000" stroke-width="1.1" />
<line x1="217.4" y1="769.3" x2="225.4" y2="769.3" stroke="#000" stroke-width="1.1" />
<text x="217.4" y="786.6" font-family='"Liberation Sans", sans-serif' font-size="7.4" font-weight="bold" text-anchor="middle" fill="#000" >AA</text>
<rect x="213.3" y="765.2" width="8.2" height="8.2" fill="#1858ea" stroke="#000" stroke-width="1.3"/>
<path d="M226.1 765.1L235 769.3L226.1 773.5Z" fill="#c43327" stroke="#000" stroke-width="1.3" stroke-linejoin="miter"/>
<line x1="281.9" y1="769.6" x2="281.9" y2="778.6" stroke="#000" stroke-width="1.1" />
<line x1="281.9" y1="769.6" x2="281.9" y2="756.4" stroke="#000" stroke-width="1.1" />
<text x="281.9" y="786.9" font-family='"Liberation Sans", sans-serif' font-size="7.4" font-weight="bold" text-anchor="middle" fill="#000" >AA</text>
<rect x="277.8" y="765.5" width="8.2" height="8.2" fill="#1858ea" stroke="#000" stroke-width="1.3"/>
<rect x="277.8" y="752.3" width="8.2" height="8.2" fill="#1858ea" stroke="#000" stroke-width="1.3"/>
<line x1="364.6" y1="770.1" x2="364.6" y2="779.1" stroke="#000" stroke-width="1.1" />
<line x1="364.6" y1="770.1" x2="364.6" y2="756.9" stroke="#000" stroke-width="1.1" />
<line x1="364.6" y1="756.9" x2="364.6" y2="743.7" stroke="#000" stroke-width="1.1" />
<text x="364.6" y="787.4" font-family='"Liberation Sans", sans-serif' font-size="7.4" font-weight="bold" text-anchor="middle" fill="#000" >AA</text>
<rect x="360.5" y="766" width="8.2" height="8.2" fill="#1858ea" stroke="#000" stroke-width="1.3"/>
<rect x="360.5" y="752.8" width="8.2" height="8.2" fill="#1858ea" stroke="#000" stroke-width="1.3"/>
<circle cx="364.6" cy="743.7" r="4" fill="#76b046" stroke="#000" stroke-width="1.3"/>
<line x1="447.1" y1="770.1" x2="447.1" y2="779.1" stroke="#000" stroke-width="1.1" />
<line x1="447.1" y1="770.1" x2="447.1" y2="756.9" stroke="#000" stroke-width="1.1" />
<line x1="447.1" y1="770.1" x2="455.1" y2="770.1" stroke="#000" stroke-width="1.1" />
<line x1="447.1" y1="756.9" x2="447.1" y2="743.7" stroke="#000" stroke-width="1.1" />
<text x="447.1" y="787.4" font-family='"Liberation Sans", sans-serif' font-size="7.4" font-weight="bold" text-anchor="middle" fill="#000" >AA</text>
<rect x="443" y="766" width="8.2" height="8.2" fill="#1858ea" stroke="#000" stroke-width="1.3"/>
<rect x="443" y="752.8" width="8.2" height="8.2" fill="#1858ea" stroke="#000" stroke-width="1.3"/>
<path d="M455.8 765.9L464.7 770.1L455.8 774.3Z" fill="#c43327" stroke="#000" stroke-width="1.3" stroke-linejoin="miter"/>
<circle cx="447.1" cy="743.7" r="4" fill="#76b046" stroke="#000" stroke-width="1.3"/>
<line x1="529.5" y1="770.1" x2="529.5" y2="779.1" stroke="#000" stroke-width="1.1" />
<line x1="529.5" y1="770.1" x2="529.5" y2="756.9" stroke="#000" stroke-width="1.1" />
<line x1="529.5" y1="770.1" x2="537.5" y2="770.1" stroke="#000" stroke-width="1.1" />
<line x1="529.5" y1="756.9" x2="529.5" y2="743.7" stroke="#000" stroke-width="1.1" />
<line x1="529.5" y1="743.7" x2="538" y2="733.4" stroke="#000" stroke-width="1.1" />
<text x="529.5" y="787.4" font-family='"Liberation Sans", sans-serif' font-size="7.4" font-weight="bold" text-anchor="middle" fill="#000" >AA</text>
<rect x="525.4" y="766" width="8.2" height="8.2" fill="#1858ea" stroke="#000" stroke-width="1.3"/>
<rect x="525.4" y="752.8" width="8.2" height="8.2" fill="#1858ea" stroke="#000" stroke-width="1.3"/>
<path d="M538.2 765.9L547.1 770.1L538.2 774.3Z" fill="#c43327" stroke="#000" stroke-width="1.3" stroke-linejoin="miter"/>
<circle cx="529.5" cy="743.7" r="4" fill="#76b046" stroke="#000" stroke-width="1.3"/>
<circle cx="538" cy="733.4" r="4" fill="#76b046" stroke="#000" stroke-width="1.3"/>
<line x1="621" y1="770.6" x2="621" y2="779.6" stroke="#000" stroke-width="1.1" />
<line x1="621" y1="770.6" x2="621" y2="757.4" stroke="#000" stroke-width="1.1" />
<line x1="621" y1="770.6" x2="629" y2="770.6" stroke="#000" stroke-width="1.1" />
<line x1="621" y1="757.4" x2="621" y2="744.2" stroke="#000" stroke-width="1.1" />
<line x1="621" y1="744.2" x2="612.7" y2="733.4" stroke="#000" stroke-width="1.1" />
<line x1="621" y1="744.2" x2="629.3" y2="733.4" stroke="#000" stroke-width="1.1" />
<text x="621" y="787.9" font-family='"Liberation Sans", sans-serif' font-size="7.4" font-weight="bold" text-anchor="middle" fill="#000" >AA</text>
<rect x="616.9" y="766.5" width="8.2" height="8.2" fill="#1858ea" stroke="#000" stroke-width="1.3"/>
<rect x="616.9" y="753.3" width="8.2" height="8.2" fill="#1858ea" stroke="#000" stroke-width="1.3"/>
<path d="M629.7 766.4L638.6 770.6L629.7 774.8Z" fill="#c43327" stroke="#000" stroke-width="1.3" stroke-linejoin="miter"/>
<circle cx="621" cy="744.2" r="4" fill="#76b046" stroke="#000" stroke-width="1.3"/>
<circle cx="612.7" cy="733.4" r="4" fill="#76b046" stroke="#000" stroke-width="1.3"/>
<circle cx="629.3" cy="733.4" r="4" fill="#76b046" stroke="#000" stroke-width="1.3"/>
<line x1="762.9" y1="770.6" x2="762.9" y2="779.6" stroke="#000" stroke-width="1.1" />
<line x1="762.9" y1="770.6" x2="762.9" y2="757.4" stroke="#000" stroke-width="1.1" />
<line x1="762.9" y1="770.6" x2="770.9" y2="770.6" stroke="#000" stroke-width="1.1" />
<line x1="762.9" y1="757.4" x2="762.9" y2="744.2" stroke="#000" stroke-width="1.1" />
<line x1="762.9" y1="744.2" x2="754.6" y2="733.4" stroke="#000" stroke-width="1.1" />
<line x1="762.9" y1="744.2" x2="771.2" y2="733.4" stroke="#000" stroke-width="1.1" />
<line x1="771.2" y1="733.4" x2="771.4" y2="720.9" stroke="#000" stroke-width="1.1" />
<text x="762.9" y="787.9" font-family='"Liberation Sans", sans-serif' font-size="7.4" font-weight="bold" text-anchor="middle" fill="#000" >AA</text>
<rect x="758.8" y="766.5" width="8.2" height="8.2" fill="#1858ea" stroke="#000" stroke-width="1.3"/>
<rect x="758.8" y="753.3" width="8.2" height="8.2" fill="#1858ea" stroke="#000" stroke-width="1.3"/>
<path d="M771.6 766.4L780.5 770.6L771.6 774.8Z" fill="#c43327" stroke="#000" stroke-width="1.3" stroke-linejoin="miter"/>
<circle cx="762.9" cy="744.2" r="4" fill="#76b046" stroke="#000" stroke-width="1.3"/>
<circle cx="754.6" cy="733.4" r="4" fill="#76b046" stroke="#000" stroke-width="1.3"/>
<circle cx="771.2" cy="733.4" r="4" fill="#76b046" stroke="#000" stroke-width="1.3"/>
<rect x="767.3" y="716.8" width="8.2" height="8.2" fill="#1858ea" stroke="#000" stroke-width="1.3"/>
<line x1="75.5" y1="775" x2="83.8" y2="807.2" stroke="#000" stroke-width="1.6" stroke-dasharray="1.4 1.9"/>
<line x1="151.5" y1="790" x2="158.5" y2="800.2" stroke="#000" stroke-width="1.6" stroke-dasharray="1.4 1.9"/>
<line x1="221.2" y1="790" x2="236.7" y2="812.7" stroke="#000" stroke-width="1.6" stroke-dasharray="1.4 1.9"/>
<line x1="279.6" y1="790" x2="269.6" y2="815.2" stroke="#000" stroke-width="1.6" stroke-dasharray="1.4 1.9"/>
<line x1="364.6" y1="790" x2="356" y2="830.2" stroke="#000" stroke-width="1.6" stroke-dasharray="1.4 1.9"/>
<line x1="446.3" y1="790" x2="436.3" y2="831.5" stroke="#000" stroke-width="1.6" stroke-dasharray="1.4 1.9"/>
<line x1="529.5" y1="790" x2="524" y2="805.2" stroke="#000" stroke-width="1.6" stroke-dasharray="1.4 1.9"/>
<line x1="621" y1="790" x2="612.5" y2="804.7" stroke="#000" stroke-width="1.6" stroke-dasharray="1.4 1.9"/>
<line x1="760.9" y1="790" x2="717" y2="832.7" stroke="#000" stroke-width="1.6" stroke-dasharray="1.4 1.9"/>
<text x="0.2" y="881.8" font-family='"Liberation Sans", sans-serif' font-size="19.5" font-weight="bold" text-anchor="start" fill="#000" >C</text>
<text x="75.2" y="885.8" font-family='"Liberation Sans", sans-serif' font-size="11.85" fill="#000" stroke="#000" stroke-width="0.28">LC-MS/MS fragmentation spectrum of Me<tspan font-size="7.5" dy="2.2">1</tspan><tspan dy="-2.2">F</tspan><tspan font-size="7.5" dy="2.2">1</tspan><tspan dy="-2.2">H</tspan><tspan font-size="7.5" dy="2.2">3</tspan><tspan dy="-2.2">N</tspan><tspan font-size="7.5" dy="2.2">3</tspan><tspan dy="-2.2"> </tspan><tspan font-style="italic">m/z</tspan> 698.7 [M+2H]<tspan font-size="8.2" dy="-4.3">2+</tspan></text>
<path d="M62.4 1057.7V894.4H735.6V1057.7" fill="none" stroke="#444" stroke-width="1"/>
<line x1="62.4" y1="1057.7" x2="735.6" y2="1057.7" stroke="#222" stroke-width="1.1" />
<line x1="59.2" y1="1057.6" x2="62.4" y2="1057.6" stroke="#444" stroke-width="0.9" />
<text x="58.4" y="1059.9" font-family='"Liberation Sans", sans-serif' font-size="6.6" font-weight="normal" text-anchor="end" fill="#333" >0.0</text>
<line x1="60.4" y1="1052.7" x2="62.4" y2="1052.7" stroke="#444" stroke-width="0.8" />
<line x1="60.4" y1="1047.8" x2="62.4" y2="1047.8" stroke="#444" stroke-width="0.8" />
<line x1="60.4" y1="1042.9" x2="62.4" y2="1042.9" stroke="#444" stroke-width="0.8" />
<line x1="60.4" y1="1038" x2="62.4" y2="1038" stroke="#444" stroke-width="0.8" />
<line x1="59.2" y1="1033.1" x2="62.4" y2="1033.1" stroke="#444" stroke-width="0.9" />
<text x="58.4" y="1035.4" font-family='"Liberation Sans", sans-serif' font-size="6.6" font-weight="normal" text-anchor="end" fill="#333" >0.5</text>
<line x1="60.4" y1="1028.2" x2="62.4" y2="1028.2" stroke="#444" stroke-width="0.8" />
<line x1="60.4" y1="1023.3" x2="62.4" y2="1023.3" stroke="#444" stroke-width="0.8" />
<line x1="60.4" y1="1018.4" x2="62.4" y2="1018.4" stroke="#444" stroke-width="0.8" />
<line x1="60.4" y1="1013.5" x2="62.4" y2="1013.5" stroke="#444" stroke-width="0.8" />
<line x1="59.2" y1="1008.6" x2="62.4" y2="1008.6" stroke="#444" stroke-width="0.9" />
<text x="58.4" y="1010.9" font-family='"Liberation Sans", sans-serif' font-size="6.6" font-weight="normal" text-anchor="end" fill="#333" >1.0</text>
<line x1="60.4" y1="1003.7" x2="62.4" y2="1003.7" stroke="#444" stroke-width="0.8" />
<line x1="60.4" y1="998.8" x2="62.4" y2="998.8" stroke="#444" stroke-width="0.8" />
<line x1="60.4" y1="993.9" x2="62.4" y2="993.9" stroke="#444" stroke-width="0.8" />
<line x1="60.4" y1="989" x2="62.4" y2="989" stroke="#444" stroke-width="0.8" />
<line x1="59.2" y1="984.1" x2="62.4" y2="984.1" stroke="#444" stroke-width="0.9" />
<text x="58.4" y="986.4" font-family='"Liberation Sans", sans-serif' font-size="6.6" font-weight="normal" text-anchor="end" fill="#333" >1.5</text>
<line x1="60.4" y1="979.2" x2="62.4" y2="979.2" stroke="#444" stroke-width="0.8" />
<line x1="60.4" y1="974.3" x2="62.4" y2="974.3" stroke="#444" stroke-width="0.8" />
<line x1="60.4" y1="969.4" x2="62.4" y2="969.4" stroke="#444" stroke-width="0.8" />
<line x1="60.4" y1="964.5" x2="62.4" y2="964.5" stroke="#444" stroke-width="0.8" />
<line x1="59.2" y1="959.6" x2="62.4" y2="959.6" stroke="#444" stroke-width="0.9" />
<text x="58.4" y="961.9" font-family='"Liberation Sans", sans-serif' font-size="6.6" font-weight="normal" text-anchor="end" fill="#333" >2.0</text>
<line x1="60.4" y1="954.7" x2="62.4" y2="954.7" stroke="#444" stroke-width="0.8" />
<line x1="60.4" y1="949.8" x2="62.4" y2="949.8" stroke="#444" stroke-width="0.8" />
<line x1="60.4" y1="944.9" x2="62.4" y2="944.9" stroke="#444" stroke-width="0.8" />
<line x1="60.4" y1="940" x2="62.4" y2="940" stroke="#444" stroke-width="0.8" />
<line x1="59.2" y1="935.1" x2="62.4" y2="935.1" stroke="#444" stroke-width="0.9" />
<text x="58.4" y="937.4" font-family='"Liberation Sans", sans-serif' font-size="6.6" font-weight="normal" text-anchor="end" fill="#333" >2.5</text>
<line x1="60.4" y1="930.2" x2="62.4" y2="930.2" stroke="#444" stroke-width="0.8" />
<line x1="60.4" y1="925.3" x2="62.4" y2="925.3" stroke="#444" stroke-width="0.8" />
<line x1="60.4" y1="920.4" x2="62.4" y2="920.4" stroke="#444" stroke-width="0.8" />
<line x1="60.4" y1="915.5" x2="62.4" y2="915.5" stroke="#444" stroke-width="0.8" />
<line x1="59.2" y1="910.6" x2="62.4" y2="910.6" stroke="#444" stroke-width="0.9" />
<line x1="60.4" y1="905.7" x2="62.4" y2="905.7" stroke="#444" stroke-width="0.8" />
<line x1="60.4" y1="900.8" x2="62.4" y2="900.8" stroke="#444" stroke-width="0.8" />
<text x="57.4" y="899.8" font-family='"Liberation Sans", sans-serif' font-size="6.4" font-weight="normal" text-anchor="end" fill="#333" textLength="15.5" lengthAdjust="spacingAndGlyphs">Intens.</text>
<text x="55.4" y="908.8" font-family='"Liberation Sans", sans-serif' font-size="5.8" font-weight="normal" text-anchor="end" fill="#333" >x10</text>
<text x="55.2" y="905.6" font-family='"Liberation Sans", sans-serif' font-size="5" font-weight="normal" text-anchor="start" fill="#333" >5</text>
<line x1="66.82" y1="1057.7" x2="66.82" y2="1059.7" stroke="#444" stroke-width="0.8" />
<line x1="115.2" y1="1057.7" x2="115.2" y2="1060.7" stroke="#444" stroke-width="0.8" />
<text x="115.2" y="1067.6" font-family='"Liberation Sans", sans-serif' font-size="6.6" font-weight="normal" text-anchor="middle" fill="#333" >200</text>
<line x1="163.58" y1="1057.7" x2="163.58" y2="1059.7" stroke="#444" stroke-width="0.8" />
<line x1="211.96" y1="1057.7" x2="211.96" y2="1060.7" stroke="#444" stroke-width="0.8" />
<text x="211.96" y="1067.6" font-family='"Liberation Sans", sans-serif' font-size="6.6" font-weight="normal" text-anchor="middle" fill="#333" >400</text>
<line x1="260.34" y1="1057.7" x2="260.34" y2="1059.7" stroke="#444" stroke-width="0.8" />
<line x1="308.72" y1="1057.7" x2="308.72" y2="1060.7" stroke="#444" stroke-width="0.8" />
<text x="308.72" y="1067.6" font-family='"Liberation Sans", sans-serif' font-size="6.6" font-weight="normal" text-anchor="middle" fill="#333" >600</text>
<line x1="357.1" y1="1057.7" x2="357.1" y2="1059.7" stroke="#444" stroke-width="0.8" />
<line x1="405.48" y1="1057.7" x2="405.48" y2="1060.7" stroke="#444" stroke-width="0.8" />
<text x="405.48" y="1067.6" font-family='"Liberation Sans", sans-serif' font-size="6.6" font-weight="normal" text-anchor="middle" fill="#333" >800</text>
<line x1="453.86" y1="1057.7" x2="453.86" y2="1059.7" stroke="#444" stroke-width="0.8" />
<line x1="502.24" y1="1057.7" x2="502.24" y2="1060.7" stroke="#444" stroke-width="0.8" />
<text x="502.24" y="1067.6" font-family='"Liberation Sans", sans-serif' font-size="6.6" font-weight="normal" text-anchor="middle" fill="#333" >1000</text>
<line x1="550.62" y1="1057.7" x2="550.62" y2="1059.7" stroke="#444" stroke-width="0.8" />
<line x1="599" y1="1057.7" x2="599" y2="1060.7" stroke="#444" stroke-width="0.8" />
<text x="599" y="1067.6" font-family='"Liberation Sans", sans-serif' font-size="6.6" font-weight="normal" text-anchor="middle" fill="#333" >1200</text>
<line x1="647.38" y1="1057.7" x2="647.38" y2="1059.7" stroke="#444" stroke-width="0.8" />
<line x1="695.76" y1="1057.7" x2="695.76" y2="1060.7" stroke="#444" stroke-width="0.8" />
<text x="695.76" y="1067.6" font-family='"Liberation Sans", sans-serif' font-size="6.6" font-weight="normal" text-anchor="middle" fill="#333" >1400</text>
<text x="733" y="901" font-family='"Liberation Sans", sans-serif' font-size="6" font-weight="normal" text-anchor="end" fill="#333" textLength="66.4" lengthAdjust="spacingAndGlyphs">+MS2(698.7), 12.7min #904</text>
<text x="725" y="1079.2" font-family='"Liberation Sans", sans-serif' font-size="11.5" font-weight="bold" text-anchor="start" fill="#000" >M/Z</text>
<path d="M62.9 1057.17 L63.7 1056.67 L64.5 1057.1 L65.3 1056.97 L66.1 1057.18 L66.9 1057.02 L67.7 1057.1 L68.5 1056.84 L69.3 1056.92 L70.1 1057.17 L70.9 1056.97 L71.7 1056.61 L72.5 1056.61 L73.3 1057.01 L74.1 1056.61 L74.9 1057.15 L75.7 1056.96 L76.5 1056.92 L77.3 1056.93 L78.1 1056.63 L78.9 1056.65 L79.7 1057.01 L80.5 1057 L81.3 1057.12 L82.1 1057.19 L82.9 1056.81 L83.7 1056.92 L84.5 1056.9 L85.3 1057.09 L86.1 1056.89 L86.9 1056.87 L87.7 1057.1 L88.5 1057.01 L89.3 1057.15 L90.1 1057.07 L90.9 1057.04 L91.7 1056.72 L92.5 1056.79 L93.3 1056.81 L94.1 1056.81 L94.9 1056.75 L95.7 1056.86 L96.5 1056.79 L97.3 1056.97 L98.1 1057.04 L98.9 1056.95 L99.7 1057.01 L100.5 1057.04 L101.3 1055.41 L102.1 1057.05 L102.9 1057.18 L103.7 1057.19 L104.5 1057.11 L105.3 1056.94 L106.1 1056.87 L106.9 1055.97 L107.7 1056.27 L108.5 1057.18 L109.3 1055.56 L110.1 1056.94 L110.9 1057.18 L111.7 1056.93 L112.5 1057.17 L113.3 1056.73 L114.1 1057.15 L114.9 1055.67 L115.6 1056.7 L115.7 1054.85 L116.5 1056.62 L117 1056.3 L117.3 1056.1 L117.6 1055.91 L118.1 1045.53 L118.2 1043.2 L118.8 1055.91 L118.9 1055.97 L119.4 1056.3 L119.7 1055.37 L120.5 1056.77 L120.8 1056.74 L121.3 1056.03 L121.4 1057.15 L122.1 1056.96 L122.8 1056.88 L122.9 1057.12 L123.4 1056.97 L123.7 1056.35 L124 1055.5 L124.5 1056.76 L124.6 1056.98 L125.2 1057.06 L125.3 1057.07 L126.1 1056.91 L126.6 1057.14 L126.9 1055.15 L127.7 1057.14 L128.5 1057.05 L129.3 1056.51 L130.1 1056.77 L130.9 1056.98 L131.7 1057.05 L132.5 1056.63 L133.3 1056.81 L134.1 1057.19 L134.9 1056.15 L135.7 1057.19 L136.5 1056.96 L137.3 1057.1 L138.1 1056.24 L138.9 1056.64 L139.7 1057.17 L140.5 1056.81 L141.3 1057.08 L142.1 1056.88 L142.9 1057.12 L143.7 1057.16 L144.5 1056.83 L145.3 1056.92 L146.1 1056.78 L146.9 1057.19 L147.4 1057.19 L147.7 1056.69 L148.5 1056.51 L148.8 1057.1 L149.3 1057.13 L149.4 1057.1 L150 1056 L150.1 1056.2 L150.6 1057.15 L150.9 1057.19 L151.2 1055.17 L151.7 1056.99 L152.5 1056.71 L152.6 1056.9 L153.3 1056.61 L154.1 1056.93 L154.9 1057.11 L155.7 1056.69 L156.5 1056.82 L157.3 1055 L158.1 1056.88 L158.9 1056.93 L159.7 1056.73 L160.5 1056.76 L161.3 1056.5 L162.1 1056.78 L162.9 1056.92 L163.7 1056.76 L164.5 1057.1 L165.3 1057.1 L166.1 1056.96 L166.9 1056.64 L167.7 1056.82 L168.5 1056.96 L169.3 1057.16 L170.1 1057.01 L170.9 1056.97 L171.7 1057.15 L172.5 1056.93 L173.3 1056.29 L173.4 1057.11 L174.1 1057.11 L174.8 1057.17 L174.9 1056.18 L175.4 1056.53 L175.7 1056.35 L176 1055.5 L176.5 1056.6 L176.6 1056.74 L177.2 1057.04 L177.3 1057.16 L178.1 1056.99 L178.6 1056.97 L178.9 1057.08 L179.7 1056.48 L180.5 1056.95 L181.3 1056.78 L182.1 1056.91 L182.8 1056.94 L182.9 1057.14 L183.7 1057.14 L184.2 1057.05 L184.5 1057.07 L184.8 1056.76 L185.3 1047.87 L185.4 1046 L186 1057.06 L186.1 1057.11 L186.6 1056.85 L186.9 1055.54 L187.4 1057.19 L187.7 1055.78 L188 1057.19 L188.5 1056.62 L188.8 1056.75 L189.3 1057.01 L189.4 1056.71 L190 1055 L190.1 1055.37 L190.6 1054.68 L190.9 1057 L191.2 1056.89 L191.7 1056.66 L192.5 1056.81 L192.6 1057.12 L193.3 1056.83 L194.1 1057.1 L194.2 1056.63 L194.9 1055.58 L195.6 1053.97 L195.7 1053.74 L196.2 1052.58 L196.5 999.1 L196.8 941 L197.3 1037.83 L197.4 1052.58 L198 1053.97 L198.1 1054.2 L198.8 1055.82 L198.9 1056.05 L199.4 1057.07 L199.7 1055.85 L200 1054.5 L200.5 1056.75 L200.6 1054.69 L201.2 1057.17 L201.3 1057.19 L202.1 1057.03 L202.6 1054.77 L202.9 1056.92 L203.7 1057.15 L204.5 1056.79 L205.3 1055.42 L206.1 1056.66 L206.9 1056.9 L207.4 1056.36 L207.7 1056.99 L208.5 1057.04 L208.8 1057.18 L209.3 1057.07 L209.4 1055.34 L210 1055 L210.1 1055.37 L210.6 1056.86 L210.9 1056.86 L211.2 1056.84 L211.7 1057.17 L212.5 1056.77 L212.6 1057.07 L213.3 1057.14 L214.1 1056.96 L214.9 1056.77 L215.7 1056.64 L216.5 1057.02 L217.3 1057.15 L218.1 1056.68 L218.9 1057.13 L219.7 1056.82 L220.5 1056.58 L221.3 1054.99 L222.1 1056.88 L222.4 1057.02 L222.9 1057.1 L223.7 1056.94 L223.8 1057.07 L224.4 1057.15 L224.5 1056.88 L225 1055.5 L225.3 1056.35 L225.6 1056.79 L226.1 1057.11 L226.2 1056.82 L226.9 1056.89 L227.6 1056.72 L227.7 1057.14 L228.5 1056.51 L229.3 1057.01 L230.1 1057.14 L230.9 1056.74 L231.7 1056.93 L232.5 1057 L233.3 1057.08 L234.1 1057.12 L234.9 1057.13 L235.7 1056.68 L236.5 1057.11 L237.3 1057.02 L237.4 1057.04 L238.1 1057.18 L238.8 1056.32 L238.9 1056.9 L239.4 1056.65 L239.7 1056.35 L240 1055.5 L240.5 1056.92 L240.6 1057.14 L241.2 1057.08 L241.3 1056.97 L242.1 1057.16 L242.6 1056.11 L242.9 1056.74 L243.7 1056.62 L244.5 1057.16 L245.3 1057.16 L246.1 1056.32 L246.9 1056.9 L247.7 1057.19 L248.5 1057.04 L249.3 1057.08 L250.1 1056.77 L250.9 1056.79 L251.7 1056.64 L252.5 1057.01 L253.3 1057.05 L254.1 1056.77 L254.9 1056.92 L255.7 1057.02 L256.5 1057.18 L257.3 1056.84 L258.1 1057.12 L258.9 1057.01 L259.7 1057.09 L260.2 1057.07 L260.5 1057.18 L261.3 1056.8 L261.6 1056.67 L262.1 1056.92 L262.2 1056.84 L262.8 1048 L262.9 1049.53 L263.4 1056.63 L263.7 1056.92 L264 1057.16 L264.5 1057.02 L265.3 1056.78 L265.4 1057.17 L266.1 1056.95 L266.8 1056.91 L266.9 1057.1 L267.4 1056.93 L267.7 1056.1 L268 1055 L268.5 1056.83 L268.6 1056.98 L269.2 1057.05 L269.3 1057 L270.1 1057.18 L270.6 1056.23 L270.9 1056.85 L271.7 1057.03 L272.5 1056.93 L272.7 1057.17 L273.3 1055.29 L274.1 1054.67 L274.7 1053.58 L274.9 1044.13 L275.3 1018 L275.7 1044.13 L275.9 1053.58 L276.5 1054.67 L277.3 1056.11 L277.4 1056.3 L277.9 1057.18 L278.1 1056.44 L278.8 1056.52 L278.9 1057.06 L279.4 1056.8 L279.7 1055.85 L280 1054.5 L280.5 1056.75 L280.6 1057.18 L280.7 1057 L281.2 1056.92 L281.3 1056.86 L282.1 1056.41 L282.6 1056.13 L282.7 1056.07 L282.9 1053.13 L283.3 1045 L283.7 1053.13 L283.9 1056.07 L284.5 1056.41 L285.3 1056.81 L285.9 1057 L286.1 1057.15 L286.9 1055.54 L287.4 1057.17 L287.7 1057.19 L288.5 1056.84 L288.8 1056.99 L289.3 1057.15 L289.4 1056.74 L290 1055 L290.1 1055.37 L290.6 1056.59 L290.9 1057.15 L291.2 1057.1 L291.7 1057.07 L292.5 1057.1 L292.6 1057.18 L293.3 1056.88 L294.1 1056.84 L294.9 1056.91 L295.7 1057.08 L296.5 1056.47 L297.3 1057.02 L297.4 1056.56 L298.1 1056.6 L298.8 1056.78 L298.9 1056.95 L299.4 1057.07 L299.7 1056.35 L300 1055.5 L300.5 1055.43 L300.6 1057 L301.2 1056.83 L301.3 1056.97 L302.1 1056.88 L302.6 1057.01 L302.9 1056.86 L303.7 1056.91 L304.5 1056.8 L305.3 1056.88 L306.1 1057.19 L306.9 1056.84 L307.7 1056.98 L308.5 1057.04 L309.3 1057.02 L310.1 1056.85 L310.9 1057.19 L311.7 1056.74 L312.5 1057.18 L313.3 1057.13 L314.1 1057.1 L314.9 1057.01 L315.7 1056.71 L316.5 1056.95 L317.3 1057.08 L317.4 1056.6 L318.1 1056.17 L318.8 1056.66 L318.9 1057.09 L319.4 1057.05 L319.7 1056.35 L320 1055.5 L320.5 1056.92 L320.6 1056.94 L321.2 1056.76 L321.3 1057.13 L322.1 1057.03 L322.6 1056.86 L322.9 1056.72 L323.7 1056.82 L324.5 1057.12 L325.3 1056.94 L326.1 1056.99 L326.9 1056.77 L327.7 1057.01 L328.5 1056.29 L329.3 1056.94 L330.1 1056.23 L330.9 1054.78 L331.7 1056.83 L332.5 1057.1 L333.3 1056.76 L334.1 1057.12 L334.9 1056.2 L335.7 1057.17 L336.5 1056.86 L337.3 1056.87 L338.1 1056.81 L338.9 1056.97 L339.7 1057 L340.5 1056.79 L341.3 1056.75 L342.1 1057.19 L342.4 1057.04 L342.9 1054.98 L343.7 1057.2 L343.8 1056.68 L344.4 1056.58 L344.5 1056.83 L345 1055 L345.3 1054.93 L345.6 1056.88 L346.1 1056.79 L346.2 1056.69 L346.9 1057.19 L347.6 1057.11 L347.7 1056.76 L348.5 1056.94 L349.3 1056.35 L349.4 1056.34 L350.1 1054.91 L350.8 1057.08 L350.9 1057.1 L351.4 1056.34 L351.7 1055.85 L352 1054.5 L352.5 1056.75 L352.6 1056.8 L353.2 1056.62 L353.3 1056.75 L354.1 1055.55 L354.4 1056.95 L354.6 1056.06 L354.9 1056.8 L355.7 1057.15 L355.8 1057.09 L356.4 1056.64 L356.5 1056.67 L357 1054 L357.3 1055.6 L357.6 1057.09 L358.1 1056.68 L358.2 1056.57 L358.7 1057.02 L358.9 1057.19 L359.6 1057.05 L359.7 1056.64 L360.1 1057.07 L360.5 1056.38 L360.7 1057.13 L361.3 1050 L361.9 1057.15 L362.1 1057.17 L362.5 1056.81 L362.9 1057.11 L363.7 1057.04 L363.9 1056.99 L364.5 1057.19 L365.3 1057.19 L366.1 1055.61 L366.9 1056.77 L367.4 1057.12 L367.7 1057.01 L368.5 1056.35 L368.8 1057.1 L369.3 1057.15 L369.4 1056.95 L370 1055 L370.1 1055.37 L370.6 1056.53 L370.9 1056.9 L371.2 1057.03 L371.7 1056.98 L372.5 1056.86 L372.6 1056.71 L373.3 1056.75 L374.1 1056.76 L374.9 1056.81 L375.7 1057.19 L376.5 1056.94 L377.3 1057.05 L378.1 1057.13 L378.9 1056.68 L379.7 1056.66 L380.5 1056.64 L381.3 1055.03 L382.1 1054.8 L382.9 1057.17 L383.7 1056.99 L384.5 1057.14 L385.3 1057.07 L386.1 1056.74 L386.9 1056.98 L387.7 1056.97 L388.5 1057.16 L389.3 1056.79 L390 1056.6 L390.1 1057.12 L390.9 1057.01 L391.4 1056.85 L391.7 1056.95 L392 1057.13 L392.5 1053.7 L392.6 1053 L393.2 1056.03 L393.3 1057.19 L393.8 1056.73 L394.1 1056.98 L394.9 1056.85 L395.2 1056.94 L395.7 1055.21 L396.5 1056.69 L397.3 1056.82 L397.4 1056.4 L398.1 1056.98 L398.8 1056.9 L398.9 1057.03 L399.4 1057.01 L399.7 1056.35 L400 1055.5 L400.5 1056.89 L400.6 1055.87 L401.2 1056.99 L401.3 1056.37 L402.1 1056.75 L402.6 1055.88 L402.9 1056.87 L403.7 1057.01 L404.5 1056.32 L405.3 1057.08 L406.1 1056.86 L406.9 1057.12 L407.7 1056.97 L408.5 1056.85 L409.3 1056.98 L410.1 1056.58 L410.9 1056.95 L411.7 1057.08 L412.5 1056.4 L413.3 1055.82 L414.1 1057.07 L414.9 1056.88 L415.7 1056.8 L416.5 1057.15 L417.3 1056.76 L417.4 1056.6 L418.1 1057.04 L418.8 1057.16 L418.9 1056.78 L419.4 1056.19 L419.7 1056.35 L420 1055.5 L420.5 1056.92 L420.6 1056.52 L421.2 1056.62 L421.3 1057.2 L422.1 1056.76 L422.6 1056.9 L422.9 1056.96 L423.7 1056.56 L424.5 1057.14 L425.3 1057.07 L426.1 1057.07 L426.9 1057.12 L427.7 1056.74 L428.5 1056.18 L429.3 1057.07 L430.1 1057.12 L430.9 1057.07 L431.7 1057.04 L432.5 1056.91 L433.3 1057.18 L434.1 1056.89 L434.9 1057.2 L435.7 1057.08 L436.5 1057.11 L437.3 1057.11 L437.7 1055.77 L438.1 1056.38 L438.9 1054.75 L439.1 1054.34 L439.7 1053.12 L440.3 1013 L440.5 1027.73 L440.9 1053.12 L441.3 1053.94 L441.5 1054.34 L442.1 1055.57 L442.4 1056.18 L442.9 1056.77 L443.7 1056.47 L443.8 1055.28 L444.4 1057.18 L444.5 1056.75 L445 1054.5 L445.3 1055.85 L445.6 1056.79 L446.1 1057.13 L446.2 1055.07 L446.9 1056.83 L447.6 1057.13 L447.7 1056.89 L448.5 1056.75 L449.3 1056.89 L450.1 1056.72 L450.9 1056.92 L451.7 1056.98 L452.5 1057.06 L453.3 1056.32 L454.1 1056.82 L454.9 1056.74 L455.7 1056.71 L456.5 1056.44 L457.3 1056.99 L458.1 1056.83 L458.9 1056.54 L459.7 1056.91 L460.5 1056.6 L461.3 1056.86 L462.1 1056.9 L462.9 1056.42 L463.7 1057.02 L464.5 1056.98 L465.3 1056.87 L466.1 1056.95 L466.9 1056.84 L467.4 1056.9 L467.7 1056.74 L468.5 1056.75 L468.8 1056.89 L469.3 1056.8 L469.4 1057.18 L470 1055.5 L470.1 1055.78 L470.6 1056.32 L470.9 1057.06 L471.2 1056.64 L471.7 1057.07 L472.5 1056.87 L472.6 1057.08 L473.3 1056.93 L474.1 1057.08 L474.9 1056.86 L475.7 1057.02 L476.5 1056.91 L477.3 1057.02 L478.1 1056.97 L478.9 1056.85 L479.7 1056.67 L480.5 1057.09 L481.3 1057.14 L482.1 1056.61 L482.9 1057.05 L483.7 1056.72 L484.5 1056.51 L485.3 1056.61 L486.1 1057.01 L486.9 1055.64 L487.7 1056.71 L488.5 1056.83 L489.3 1057.19 L490.1 1057.19 L490.9 1056.97 L491.7 1056.78 L492.5 1057.13 L493.3 1056.9 L494.1 1057.06 L494.9 1056.77 L495.7 1056.87 L496.5 1057.06 L497.3 1057.04 L498.1 1056.99 L498.9 1056.94 L499.7 1057.05 L500.5 1057.11 L501.3 1057.19 L502.1 1056.93 L502.9 1056.67 L503.7 1056.88 L504.5 1056.93 L505.3 1056.72 L506.1 1056.82 L506.9 1056.98 L507.7 1056.76 L508.5 1056.69 L509.3 1057.1 L510.1 1056.5 L510.9 1056.83 L511.7 1057.18 L512.5 1056.75 L513.3 1056.92 L514.1 1056.88 L514.9 1056.63 L515.7 1055.35 L516.3 1053.97 L516.5 1053.51 L516.9 1052.58 L517.3 993.73 L517.5 962 L518.1 1052.58 L518.7 1053.97 L518.9 1054.43 L519.4 1055.58 L519.7 1056.28 L520.1 1056.75 L520.5 1057.07 L520.8 1057.12 L521.3 1056.96 L521.4 1056.62 L522 1054.5 L522.1 1054.95 L522.6 1056.92 L522.9 1056.77 L523.2 1056.97 L523.7 1057 L524.5 1057.04 L524.6 1057.13 L525.3 1057.1 L526.1 1056.58 L526.9 1057.12 L527.7 1057.17 L528.5 1057.05 L529.3 1056.44 L530.1 1056.66 L530.9 1057.19 L531.7 1057.08 L532.5 1057.18 L533.3 1056.92 L534.1 1056.79 L534.9 1056.75 L535.7 1056.86 L536.5 1056.92 L537.3 1056.95 L538.1 1057.04 L538.9 1056.73 L539.7 1056.93 L540.5 1056.97 L541.3 1057.19 L542.1 1057.05 L542.9 1056.58 L543.7 1057.04 L544.5 1057 L545.3 1057.11 L546.1 1056.95 L546.9 1057.18 L547.7 1057.06 L548.5 1057.11 L549.3 1057.04 L550.1 1057.08 L550.9 1056.93 L551.7 1056.97 L552.5 1056.96 L553.3 1057.17 L554.1 1057.13 L554.9 1056.93 L555.7 1056.81 L556.5 1057.09 L557.3 1056.96 L557.4 1057.03 L558.1 1057.17 L558.8 1057 L558.9 1056.74 L559.4 1057.1 L559.7 1055.69 L560 1056 L560.5 1056.82 L560.6 1056.81 L561.2 1057.05 L561.3 1057.05 L562.1 1057.17 L562.6 1057.11 L562.9 1057.14 L563.7 1057.19 L564.5 1056.97 L565.3 1057.09 L566.1 1056.67 L566.9 1056.96 L567.7 1056.93 L568.5 1056.98 L569.3 1056.64 L570.1 1056.87 L570.9 1056.36 L571.7 1057.14 L572.5 1056.98 L573.3 1057.05 L574.1 1056.96 L574.9 1057 L575.7 1057.03 L576.5 1057.12 L577.3 1056.78 L578.1 1056.81 L578.9 1057.06 L579.7 1057.08 L580.5 1056.53 L581.3 1057.19 L582.1 1057.18 L582.9 1056.56 L583.7 1056.86 L584.5 1056.91 L585.3 1056.43 L586.1 1056.61 L586.9 1055.19 L587.7 1056.44 L588.5 1057.09 L589.3 1056.93 L590.1 1057.14 L590.9 1056.83 L591.7 1056.82 L592.5 1056.81 L593.3 1057.17 L593.4 1056.87 L594.1 1055.15 L594.8 1053.97 L594.9 1053.74 L595.4 1052.58 L595.7 1026.6 L596 996 L596.5 1047 L596.6 1052.58 L597.2 1053.97 L597.3 1054.2 L597.4 1054.43 L598.1 1056.05 L598.6 1057.18 L598.8 1056.98 L598.9 1056.98 L599.4 1057.14 L599.7 1056.1 L600 1055 L600.5 1055.57 L600.6 1056.83 L601.2 1056.91 L601.3 1057.14 L602.1 1056.65 L602.6 1057.16 L602.9 1057.06 L603.7 1056.67 L604.5 1056.92 L605.3 1056.83 L606.1 1056.84 L606.9 1057.09 L607.7 1057.08 L608.5 1056.72 L609.3 1057.1 L610.1 1056.96 L610.9 1056.97 L611.7 1056.95 L612.5 1056.74 L613.3 1056.69 L614.1 1057.16 L614.9 1057.04 L615.7 1056.75 L616.5 1056.74 L617.3 1056.99 L618.1 1056.97 L618.9 1056.95 L619.7 1057.09 L620.5 1056.92 L621.3 1057.08 L622.1 1057 L622.9 1057.12 L623.7 1057.1 L624.5 1056.61 L625.3 1057.18 L626.1 1057.12 L626.9 1056.8 L627.7 1057.09 L628.5 1057.14 L629.3 1056.58 L630.1 1057.18 L630.9 1057.19 L631.7 1056.48 L632.5 1056.99 L633.3 1057.11 L634.1 1056.85 L634.9 1056.89 L635.7 1055.58 L636.5 1057.02 L637.3 1057.01 L638.1 1057.13 L638.9 1056.5 L639.7 1057.08 L640.5 1057.13 L641.3 1056.73 L642.1 1057.04 L642.9 1056.97 L643.7 1057.15 L644.5 1055.11 L645.3 1056.71 L646.1 1056.2 L646.9 1056.69 L647.4 1057.19 L647.7 1057.18 L648.5 1057.02 L648.8 1056.61 L649.3 1057.15 L649.4 1057.13 L650 1056 L650.1 1056.2 L650.6 1056.91 L650.9 1056.99 L651.2 1056.99 L651.7 1057.19 L652.5 1056.85 L652.6 1056.72 L653.3 1056.62 L654.1 1055.77 L654.9 1056.92 L655.7 1057 L656.5 1057.18 L657.3 1056.94 L658.1 1057.13 L658.9 1056.92 L659.7 1056.43 L660.5 1056.97 L661.3 1056.66 L662.1 1057.09 L662.9 1057.08 L663.7 1057.07 L664.5 1056.82 L665.3 1056.83 L666.1 1056.98 L666.9 1057.15 L667.7 1056.9 L668.5 1057 L669.3 1056.93 L670.1 1056.99 L670.9 1057.06 L671.7 1057.11 L672.5 1056.73 L673.3 1056.94 L674.1 1056.61 L674.9 1055.95 L675.7 1056.85 L676.5 1057.07 L677.3 1056.77 L678.1 1055.17 L678.9 1057.16 L679.7 1056.81 L680.5 1057.18 L681.3 1056.77 L682.1 1057.15 L682.9 1057.17 L683.7 1056.85 L684.5 1056.57 L685.3 1056.65 L686.1 1056.83 L686.9 1057.03 L687.7 1056.99 L688.5 1057.2 L689.3 1057.18 L690.1 1056.82 L690.9 1057.03 L691.7 1056.32 L692.5 1056.7 L693.3 1056.79 L694.1 1056.39 L694.9 1057.08 L695.7 1057.07 L696.5 1057.06 L697.3 1057.1 L698.1 1057.19 L698.9 1056.57 L699.7 1057.06 L700.5 1055.34 L701.3 1056.96 L702.1 1056.83 L702.9 1057.07 L703.7 1056.8 L704.5 1057.15 L705.3 1056.91 L706.1 1057.2 L706.9 1056.68 L707.7 1056.65 L708.5 1056.8 L709.3 1057.19 L710.1 1057 L710.9 1055.77 L711.7 1056.94 L712.5 1057.13 L713.3 1057.13 L714.1 1057.06 L714.9 1056.99 L715.7 1057.17 L716.5 1056.75 L717.3 1056.69 L718.1 1056.34 L718.9 1056.65 L719.7 1056.94 L720.5 1056.66 L721.3 1056.99 L722.1 1057.11 L722.9 1056.61 L723.7 1056.92 L724.5 1057.1 L725.3 1057.1 L726.1 1057.14 L726.9 1056.69 L727.7 1056.89 L728.5 1056.67 L729.3 1056.96 L730.1 1056.79 L730.9 1057.17 L731.7 1056.72 L732.5 1056.92 L733.3 1056.93 L734.1 1054.69 L734.9 1056.94" fill="none" stroke="#111" stroke-width="0.9"/>
<line x1="185.3" y1="914.4" x2="185.3" y2="1046" stroke="#666" stroke-width="0.9" />
<line x1="185.3" y1="914.4" x2="283.3" y2="914.4" stroke="#666" stroke-width="0.9" />
<line x1="283.3" y1="914.4" x2="283.3" y2="1045" stroke="#666" stroke-width="0.9" />
<line x1="283.3" y1="918" x2="439.7" y2="918" stroke="#666" stroke-width="0.9" />
<line x1="439.7" y1="918" x2="439.7" y2="1005" stroke="#666" stroke-width="0.9" />
<line x1="439.7" y1="1011" x2="439.7" y2="1013" stroke="#666" stroke-width="0.9" />
<line x1="439.7" y1="919.6" x2="694.4" y2="919.6" stroke="#666" stroke-width="0.9" />
<line x1="517.5" y1="919.6" x2="517.5" y2="955" stroke="#666" stroke-width="0.9" />
<line x1="517.5" y1="961.5" x2="517.5" y2="962" stroke="#666" stroke-width="0.9" />
<line x1="596.5" y1="919.6" x2="596.5" y2="988.5" stroke="#666" stroke-width="0.9" />
<line x1="694.4" y1="919.6" x2="694.4" y2="1050.3" stroke="#666" stroke-width="0.9" />
<line x1="196.8" y1="940.5" x2="196.8" y2="1057" stroke="#666" stroke-width="0.9" />
<line x1="196.8" y1="983.2" x2="275.3" y2="983.2" stroke="#666" stroke-width="0.9" />
<line x1="275.3" y1="983.2" x2="275.3" y2="1024" stroke="#666" stroke-width="0.9" />
<line x1="275.3" y1="1030.5" x2="275.3" y2="1040" stroke="#666" stroke-width="0.9" />
<line x1="283.3" y1="968.4" x2="439.6" y2="968.4" stroke="#666" stroke-width="0.9" />
<line x1="361.8" y1="968.4" x2="361.8" y2="1052.7" stroke="#666" stroke-width="0.9" />
<line x1="185.3" y1="1016.3" x2="262.8" y2="1016.3" stroke="#666" stroke-width="0.9" />
<line x1="262.8" y1="1016.3" x2="262.8" y2="1048" stroke="#666" stroke-width="0.9" />
<line x1="283.3" y1="1016.4" x2="361.8" y2="1016.4" stroke="#666" stroke-width="0.9" />
<rect x="224.53" y="910.9" width="19.75" height="7" fill="#fff"/>
<text x="234.4" y="916.7" font-family='"Liberation Sans", sans-serif' font-size="6.4" font-weight="normal" text-anchor="middle" fill="#333" >203.1</text>
<rect x="351.43" y="914.5" width="19.75" height="7" fill="#fff"/>
<text x="361.3" y="920.3" font-family='"Liberation Sans", sans-serif' font-size="6.4" font-weight="normal" text-anchor="middle" fill="#333" >322.0</text>
<rect x="468.43" y="916.1" width="19.75" height="7" fill="#fff"/>
<text x="478.3" y="921.9" font-family='"Liberation Sans", sans-serif' font-size="6.4" font-weight="normal" text-anchor="middle" fill="#333" >162.0</text>
<rect x="546.52" y="916.1" width="19.75" height="7" fill="#fff"/>
<text x="556.4" y="921.9" font-family='"Liberation Sans", sans-serif' font-size="6.4" font-weight="normal" text-anchor="middle" fill="#333" >162.1</text>
<rect x="635.02" y="916.1" width="19.75" height="7" fill="#fff"/>
<text x="644.9" y="921.9" font-family='"Liberation Sans", sans-serif' font-size="6.4" font-weight="normal" text-anchor="middle" fill="#333" >203.0</text>
<rect x="225.32" y="979.7" width="19.75" height="7" fill="#fff"/>
<text x="235.2" y="985.5" font-family='"Liberation Sans", sans-serif' font-size="6.4" font-weight="normal" text-anchor="middle" fill="#333" >162.1</text>
<rect x="313.12" y="964.9" width="19.75" height="7" fill="#fff"/>
<text x="323" y="970.7" font-family='"Liberation Sans", sans-serif' font-size="6.4" font-weight="normal" text-anchor="middle" fill="#333" >162.0</text>
<rect x="390.93" y="964.9" width="19.75" height="7" fill="#fff"/>
<text x="400.8" y="970.7" font-family='"Liberation Sans", sans-serif' font-size="6.4" font-weight="normal" text-anchor="middle" fill="#333" >160.0</text>
<rect x="214.03" y="1012.8" width="19.75" height="7" fill="#fff"/>
<text x="223.9" y="1018.6" font-family='"Liberation Sans", sans-serif' font-size="6.4" font-weight="normal" text-anchor="middle" fill="#333" >180.1</text>
<rect x="312.02" y="1012.9" width="19.75" height="7" fill="#fff"/>
<text x="321.9" y="1018.7" font-family='"Liberation Sans", sans-serif' font-size="6.4" font-weight="normal" text-anchor="middle" fill="#333" >160.0</text>
<text x="196.6" y="939.9" font-family='"Liberation Sans", sans-serif' font-size="6.4" font-weight="normal" text-anchor="middle" fill="#333" >366.1</text>
<text x="118.2" y="1040.2" font-family='"Liberation Sans", sans-serif' font-size="6.4" font-weight="normal" text-anchor="middle" fill="#333" >203.9</text>
<text x="274" y="1029.4" font-family='"Liberation Sans", sans-serif' font-size="6.4" font-weight="normal" text-anchor="middle" fill="#333" >528.1</text>
<text x="439.7" y="1010.4" font-family='"Liberation Sans", sans-serif' font-size="6.4" font-weight="normal" text-anchor="middle" fill="#333" >868.3</text>
<text x="517.5" y="960.6" font-family='"Liberation Sans", sans-serif' font-size="6.4" font-weight="normal" text-anchor="middle" fill="#333" >1030.3</text>
<text x="596" y="994.1" font-family='"Liberation Sans", sans-serif' font-size="6.4" font-weight="normal" text-anchor="middle" fill="#333" >1192.4</text>
<text x="361.3" y="1049.5" font-family='"Liberation Sans", sans-serif' font-size="6.4" font-weight="normal" text-anchor="middle" fill="#333" >708.3</text>
<text x="392.6" y="1052" font-family='"Liberation Sans", sans-serif' font-size="6.4" font-weight="normal" text-anchor="middle" fill="#333" >772.1</text>
<path d="M357 1052.2L359.3 1054.7L357 1057.2L354.7 1054.7Z" fill="#8a8ac8" stroke="#335" stroke-width="0.6"/>
<path d="M694.4 1053.2L694.4 1050.17M694.4 1053.2L697.28 1052.26M694.4 1053.2L696.18 1055.65M694.4 1053.2L692.62 1055.65M694.4 1053.2L691.52 1052.26" stroke="#000" stroke-width="1.52" fill="none"/>
<rect x="229.1" y="919.6" width="8.2" height="8.2" fill="#1858ea" stroke="#000" stroke-width="1.3"/>
<circle cx="235.7" cy="989.5" r="4" fill="#76b046" stroke="#000" stroke-width="1.3"/>
<circle cx="323" cy="977.6" r="4" fill="#76b046" stroke="#000" stroke-width="1.3"/>
<circle cx="479.1" cy="929.6" r="4" fill="#76b046" stroke="#000" stroke-width="1.3"/>
<circle cx="557.1" cy="929.4" r="4" fill="#76b046" stroke="#000" stroke-width="1.3"/>
<rect x="640.8" y="925.3" width="8.2" height="8.2" fill="#1858ea" stroke="#000" stroke-width="1.3"/>
<path d="M218.1 1003.4L222.35 1011.4L213.85 1011.4Z" fill="#c43327" stroke="#000" stroke-width="1.3"/>
<text x="222.4" y="1010.2" font-family='"Liberation Sans", sans-serif' font-size="7.2" font-weight="bold" text-anchor="start" fill="#000" >me</text>
<path d="M388.4 973.4L392.65 981.4L384.15 981.4Z" fill="#c43327" stroke="#000" stroke-width="1.3"/>
<text x="392.7" y="980.2" font-family='"Liberation Sans", sans-serif' font-size="7.2" font-weight="bold" text-anchor="start" fill="#000" >me</text>
<rect x="100.1" y="998.7" width="8.2" height="8.2" fill="#1858ea" stroke="#000" stroke-width="1.3"/>
<line x1="177.2" y1="1016" x2="177.2" y2="1025" stroke="#000" stroke-width="1.1" />
<rect x="173.1" y="1011.9" width="8.2" height="8.2" fill="#1858ea" stroke="#000" stroke-width="1.3"/>
<text x="177.2" y="1034.3" font-family='"Liberation Sans", sans-serif' font-size="7.4" font-weight="bold" text-anchor="middle" fill="#000" >AA</text>
<line x1="210.6" y1="961.4" x2="210.6" y2="948.2" stroke="#000" stroke-width="1.1" />
<rect x="206.5" y="957.3" width="8.2" height="8.2" fill="#1858ea" stroke="#000" stroke-width="1.3"/>
<circle cx="210.6" cy="948.2" r="4" fill="#76b046" stroke="#000" stroke-width="1.3"/>
<line x1="260.3" y1="961.4" x2="260.3" y2="948.2" stroke="#000" stroke-width="1.1" />
<line x1="260.3" y1="948.2" x2="268.8" y2="937.9" stroke="#000" stroke-width="1.1" />
<rect x="256.2" y="957.3" width="8.2" height="8.2" fill="#1858ea" stroke="#000" stroke-width="1.3"/>
<circle cx="260.3" cy="948.2" r="4" fill="#76b046" stroke="#000" stroke-width="1.3"/>
<circle cx="268.8" cy="937.9" r="4" fill="#76b046" stroke="#000" stroke-width="1.3"/>
<line x1="215.1" y1="1037.1" x2="215.1" y2="1046.1" stroke="#000" stroke-width="1.1" />
<line x1="215.1" y1="1037.1" x2="223.1" y2="1037.1" stroke="#000" stroke-width="1.1" />
<text x="215.1" y="1054.4" font-family='"Liberation Sans", sans-serif' font-size="7.4" font-weight="bold" text-anchor="middle" fill="#000" >AA</text>
<rect x="211" y="1033" width="8.2" height="8.2" fill="#1858ea" stroke="#000" stroke-width="1.3"/>
<path d="M223.8 1032.9L232.7 1037.1L223.8 1041.3Z" fill="#c43327" stroke="#000" stroke-width="1.3" stroke-linejoin="miter"/>
<text x="233.6" y="1039.7" font-family='"Liberation Sans", sans-serif' font-size="7.2" font-weight="bold" text-anchor="start" fill="#000" >me</text>
<line x1="302.9" y1="1037.1" x2="302.9" y2="1046.1" stroke="#000" stroke-width="1.1" />
<line x1="302.9" y1="1037.1" x2="302.9" y2="1023.9" stroke="#000" stroke-width="1.1" />
<text x="302.9" y="1054.4" font-family='"Liberation Sans", sans-serif' font-size="7.4" font-weight="bold" text-anchor="middle" fill="#000" >AA</text>
<rect x="298.8" y="1033" width="8.2" height="8.2" fill="#1858ea" stroke="#000" stroke-width="1.3"/>
<rect x="298.8" y="1019.8" width="8.2" height="8.2" fill="#1858ea" stroke="#000" stroke-width="1.3"/>
<line x1="381" y1="1033.6" x2="381" y2="1042.6" stroke="#000" stroke-width="1.1" />
<line x1="381" y1="1033.6" x2="381" y2="1020.4" stroke="#000" stroke-width="1.1" />
<line x1="381" y1="1020.4" x2="381" y2="1007.2" stroke="#000" stroke-width="1.1" />
<text x="381" y="1050.9" font-family='"Liberation Sans", sans-serif' font-size="7.4" font-weight="bold" text-anchor="middle" fill="#000" >AA</text>
<rect x="376.9" y="1029.5" width="8.2" height="8.2" fill="#1858ea" stroke="#000" stroke-width="1.3"/>
<rect x="376.9" y="1016.3" width="8.2" height="8.2" fill="#1858ea" stroke="#000" stroke-width="1.3"/>
<circle cx="381" cy="1007.2" r="4" fill="#76b046" stroke="#000" stroke-width="1.3"/>
<line x1="461.6" y1="1033.1" x2="461.6" y2="1042.1" stroke="#000" stroke-width="1.1" />
<line x1="461.6" y1="1033.1" x2="461.6" y2="1019.9" stroke="#000" stroke-width="1.1" />
<line x1="461.6" y1="1033.1" x2="469.6" y2="1033.1" stroke="#000" stroke-width="1.1" />
<line x1="461.6" y1="1019.9" x2="461.6" y2="1006.7" stroke="#000" stroke-width="1.1" />
<text x="461.6" y="1050.4" font-family='"Liberation Sans", sans-serif' font-size="7.4" font-weight="bold" text-anchor="middle" fill="#000" >AA</text>
<rect x="457.5" y="1029" width="8.2" height="8.2" fill="#1858ea" stroke="#000" stroke-width="1.3"/>
<rect x="457.5" y="1015.8" width="8.2" height="8.2" fill="#1858ea" stroke="#000" stroke-width="1.3"/>
<path d="M470.3 1028.9L479.2 1033.1L470.3 1037.3Z" fill="#c43327" stroke="#000" stroke-width="1.3" stroke-linejoin="miter"/>
<text x="480.1" y="1035.7" font-family='"Liberation Sans", sans-serif' font-size="7.2" font-weight="bold" text-anchor="start" fill="#000" >me</text>
<circle cx="461.6" cy="1006.7" r="4" fill="#76b046" stroke="#000" stroke-width="1.3"/>
<line x1="544.6" y1="1033.4" x2="544.6" y2="1042.4" stroke="#000" stroke-width="1.1" />
<line x1="544.6" y1="1033.4" x2="544.6" y2="1020.2" stroke="#000" stroke-width="1.1" />
<line x1="544.6" y1="1033.4" x2="552.6" y2="1033.4" stroke="#000" stroke-width="1.1" />
<line x1="544.6" y1="1020.2" x2="544.6" y2="1007" stroke="#000" stroke-width="1.1" />
<line x1="544.6" y1="1007" x2="553.1" y2="996.7" stroke="#000" stroke-width="1.1" />
<text x="544.6" y="1050.7" font-family='"Liberation Sans", sans-serif' font-size="7.4" font-weight="bold" text-anchor="middle" fill="#000" >AA</text>
<rect x="540.5" y="1029.3" width="8.2" height="8.2" fill="#1858ea" stroke="#000" stroke-width="1.3"/>
<rect x="540.5" y="1016.1" width="8.2" height="8.2" fill="#1858ea" stroke="#000" stroke-width="1.3"/>
<path d="M553.3 1029.2L562.2 1033.4L553.3 1037.6Z" fill="#c43327" stroke="#000" stroke-width="1.3" stroke-linejoin="miter"/>
<text x="563.1" y="1036" font-family='"Liberation Sans", sans-serif' font-size="7.2" font-weight="bold" text-anchor="start" fill="#000" >me</text>
<circle cx="544.6" cy="1007" r="4" fill="#76b046" stroke="#000" stroke-width="1.3"/>
<circle cx="553.1" cy="996.7" r="4" fill="#76b046" stroke="#000" stroke-width="1.3"/>
<line x1="617.8" y1="1033.4" x2="617.8" y2="1042.4" stroke="#000" stroke-width="1.1" />
<line x1="617.8" y1="1033.4" x2="617.8" y2="1020.2" stroke="#000" stroke-width="1.1" />
<line x1="617.8" y1="1033.4" x2="625.8" y2="1033.4" stroke="#000" stroke-width="1.1" />
<line x1="617.8" y1="1020.2" x2="617.8" y2="1007" stroke="#000" stroke-width="1.1" />
<line x1="617.8" y1="1007" x2="609.5" y2="996.2" stroke="#000" stroke-width="1.1" />
<line x1="617.8" y1="1007" x2="626.1" y2="996.2" stroke="#000" stroke-width="1.1" />
<text x="617.8" y="1050.7" font-family='"Liberation Sans", sans-serif' font-size="7.4" font-weight="bold" text-anchor="middle" fill="#000" >AA</text>
<rect x="613.7" y="1029.3" width="8.2" height="8.2" fill="#1858ea" stroke="#000" stroke-width="1.3"/>
<rect x="613.7" y="1016.1" width="8.2" height="8.2" fill="#1858ea" stroke="#000" stroke-width="1.3"/>
<path d="M626.5 1029.2L635.4 1033.4L626.5 1037.6Z" fill="#c43327" stroke="#000" stroke-width="1.3" stroke-linejoin="miter"/>
<text x="636.3" y="1036" font-family='"Liberation Sans", sans-serif' font-size="7.2" font-weight="bold" text-anchor="start" fill="#000" >me</text>
<circle cx="617.8" cy="1007" r="4" fill="#76b046" stroke="#000" stroke-width="1.3"/>
<circle cx="609.5" cy="996.2" r="4" fill="#76b046" stroke="#000" stroke-width="1.3"/>
<circle cx="626.1" cy="996.2" r="4" fill="#76b046" stroke="#000" stroke-width="1.3"/>
<line x1="769.1" y1="1033.5" x2="769.1" y2="1042.5" stroke="#000" stroke-width="1.1" />
<line x1="769.1" y1="1033.5" x2="769.1" y2="1020.3" stroke="#000" stroke-width="1.1" />
<line x1="769.1" y1="1033.5" x2="777.1" y2="1033.5" stroke="#000" stroke-width="1.1" />
<line x1="769.1" y1="1020.3" x2="769.1" y2="1007.1" stroke="#000" stroke-width="1.1" />
<line x1="769.1" y1="1007.1" x2="760.8" y2="996.3" stroke="#000" stroke-width="1.1" />
<line x1="769.1" y1="1007.1" x2="777.4" y2="996.3" stroke="#000" stroke-width="1.1" />
<line x1="777.4" y1="996.3" x2="777.6" y2="983.8" stroke="#000" stroke-width="1.1" />
<text x="769.1" y="1050.8" font-family='"Liberation Sans", sans-serif' font-size="7.4" font-weight="bold" text-anchor="middle" fill="#000" >AA</text>
<rect x="765" y="1029.4" width="8.2" height="8.2" fill="#1858ea" stroke="#000" stroke-width="1.3"/>
<rect x="765" y="1016.2" width="8.2" height="8.2" fill="#1858ea" stroke="#000" stroke-width="1.3"/>
<path d="M777.8 1029.3L786.7 1033.5L777.8 1037.7Z" fill="#c43327" stroke="#000" stroke-width="1.3" stroke-linejoin="miter"/>
<text x="787.6" y="1036.1" font-family='"Liberation Sans", sans-serif' font-size="7.2" font-weight="bold" text-anchor="start" fill="#000" >me</text>
<circle cx="769.1" cy="1007.1" r="4" fill="#76b046" stroke="#000" stroke-width="1.3"/>
<circle cx="760.8" cy="996.3" r="4" fill="#76b046" stroke="#000" stroke-width="1.3"/>
<circle cx="777.4" cy="996.3" r="4" fill="#76b046" stroke="#000" stroke-width="1.3"/>
<rect x="773.5" y="979.7" width="8.2" height="8.2" fill="#1858ea" stroke="#000" stroke-width="1.3"/>
<line x1="107" y1="1008.1" x2="117.9" y2="1032.6" stroke="#000" stroke-width="1.6" stroke-dasharray="1.4 1.9"/>
<line x1="180" y1="1035.6" x2="185.8" y2="1047.2" stroke="#000" stroke-width="1.6" stroke-dasharray="1.4 1.9"/>
<line x1="205.9" y1="966.4" x2="200.1" y2="976.4" stroke="#000" stroke-width="1.6" stroke-dasharray="1.4 1.9"/>
<line x1="263.3" y1="966.4" x2="274" y2="979" stroke="#000" stroke-width="1.6" stroke-dasharray="1.4 1.9"/>
<line x1="252.7" y1="1047.2" x2="262.8" y2="1050.7" stroke="#000" stroke-width="1.6" stroke-dasharray="1.4 1.9"/>
<line x1="285.3" y1="1037.1" x2="295.3" y2="1037.1" stroke="#000" stroke-width="1.6" stroke-dasharray="1.4 1.9"/>
<line x1="363.8" y1="1037.1" x2="375.1" y2="1037.1" stroke="#000" stroke-width="1.6" stroke-dasharray="1.4 1.9"/>
<line x1="441.5" y1="1037" x2="454" y2="1037" stroke="#000" stroke-width="1.6" stroke-dasharray="1.4 1.9"/>
<line x1="522.6" y1="1036.4" x2="535.1" y2="1036.4" stroke="#000" stroke-width="1.6" stroke-dasharray="1.4 1.9"/>
<line x1="597.7" y1="1036.4" x2="610.3" y2="1036.4" stroke="#000" stroke-width="1.6" stroke-dasharray="1.4 1.9"/>
<line x1="759.8" y1="1036.4" x2="698.4" y2="1051.3" stroke="#000" stroke-width="1.6" stroke-dasharray="1.4 1.9"/>
</svg>
</body></html>
